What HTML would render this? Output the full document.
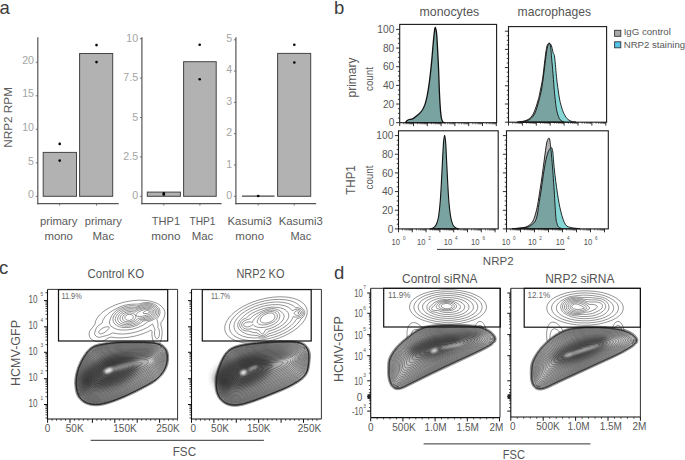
<!DOCTYPE html>
<html><head><meta charset="utf-8"><style>
html,body{margin:0;padding:0;background:#fff;overflow:hidden;}
svg{display:block;font-family:"Liberation Sans", sans-serif;}
</style></head><body>
<svg width="685" height="460" viewBox="0 0 685 460">
<defs><filter id="bl" x="-50%" y="-50%" width="200%" height="200%"><feGaussianBlur stdDeviation="0.8"/></filter><filter id="bl2" x="-50%" y="-50%" width="200%" height="200%"><feGaussianBlur stdDeviation="3"/></filter></defs>
<rect width="685" height="460" fill="#fff"/>
<text x="-0.50" y="13.70" font-size="18.5" fill="#3c3c3c" text-anchor="start" >a</text>
<text x="334.00" y="14.00" font-size="18.5" fill="#3c3c3c" text-anchor="start" >b</text>
<text x="-1.00" y="274.40" font-size="18.5" fill="#3c3c3c" text-anchor="start" >c</text>
<text x="334.00" y="279.00" font-size="18.5" fill="#3c3c3c" text-anchor="start" >d</text>
<text x="12.30" y="117.40" font-size="11.6" fill="#5e5e5e" text-anchor="middle" textLength="60.8" lengthAdjust="spacingAndGlyphs" transform="rotate(-90 12.30 117.40)" >NRP2 RPM</text>
<line x1="37.80" y1="37.20" x2="37.80" y2="204.20" stroke="#555" stroke-width="1.2"/>
<line x1="37.20" y1="203.60" x2="118.70" y2="203.60" stroke="#555" stroke-width="1.2"/>
<text x="34.00" y="198.00" font-size="10.6" fill="#a4a4a4" text-anchor="end" >0</text>
<text x="34.00" y="164.50" font-size="10.6" fill="#a4a4a4" text-anchor="end" >5</text>
<text x="34.00" y="131.00" font-size="10.6" fill="#a4a4a4" text-anchor="end" >10</text>
<text x="34.00" y="97.10" font-size="10.6" fill="#a4a4a4" text-anchor="end" >15</text>
<text x="34.00" y="63.50" font-size="10.6" fill="#a4a4a4" text-anchor="end" >20</text>
<line x1="141.90" y1="37.20" x2="141.90" y2="204.20" stroke="#555" stroke-width="1.2"/>
<line x1="141.30" y1="203.60" x2="221.60" y2="203.60" stroke="#555" stroke-width="1.2"/>
<text x="138.10" y="199.30" font-size="10.6" fill="#a4a4a4" text-anchor="end" >0</text>
<text x="138.10" y="159.70" font-size="10.6" fill="#a4a4a4" text-anchor="end" >2.5</text>
<text x="138.10" y="120.60" font-size="10.6" fill="#a4a4a4" text-anchor="end" >5</text>
<text x="138.10" y="81.30" font-size="10.6" fill="#a4a4a4" text-anchor="end" >7.5</text>
<text x="138.10" y="41.80" font-size="10.6" fill="#a4a4a4" text-anchor="end" >10</text>
<line x1="235.90" y1="37.20" x2="235.90" y2="204.20" stroke="#555" stroke-width="1.2"/>
<line x1="235.30" y1="203.60" x2="316.20" y2="203.60" stroke="#555" stroke-width="1.2"/>
<text x="232.10" y="199.30" font-size="10.6" fill="#a4a4a4" text-anchor="end" >0</text>
<text x="232.10" y="167.50" font-size="10.6" fill="#a4a4a4" text-anchor="end" >1</text>
<text x="232.10" y="136.30" font-size="10.6" fill="#a4a4a4" text-anchor="end" >2</text>
<text x="232.10" y="105.00" font-size="10.6" fill="#a4a4a4" text-anchor="end" >3</text>
<text x="232.10" y="73.20" font-size="10.6" fill="#a4a4a4" text-anchor="end" >4</text>
<text x="232.10" y="42.40" font-size="10.6" fill="#a4a4a4" text-anchor="end" >5</text>
<rect x="43.20" y="152.40" width="33.30" height="43.90" fill="#b2b2b2" stroke="#444" stroke-width="1"/>
<rect x="79.60" y="53.50" width="33.10" height="142.80" fill="#b2b2b2" stroke="#444" stroke-width="1"/>
<rect x="147.30" y="192.10" width="33.10" height="4.20" fill="#b2b2b2" stroke="#444" stroke-width="1"/>
<rect x="183.60" y="61.70" width="32.60" height="134.60" fill="#b2b2b2" stroke="#444" stroke-width="1"/>
<line x1="241.90" y1="196.10" x2="274.50" y2="196.10" stroke="#444" stroke-width="1.1"/>
<rect x="277.60" y="53.40" width="33.10" height="142.90" fill="#b2b2b2" stroke="#444" stroke-width="1"/>
<circle cx="59.70" cy="143.90" r="1.3" fill="#000"/>
<circle cx="59.70" cy="160.60" r="1.3" fill="#000"/>
<circle cx="96.50" cy="45.10" r="1.3" fill="#000"/>
<circle cx="96.50" cy="62.10" r="1.3" fill="#000"/>
<circle cx="163.80" cy="193.40" r="1.3" fill="#000"/>
<circle cx="163.80" cy="194.60" r="1.3" fill="#000"/>
<circle cx="199.70" cy="44.80" r="1.3" fill="#000"/>
<circle cx="199.70" cy="79.20" r="1.3" fill="#000"/>
<circle cx="258.20" cy="196.00" r="1.3" fill="#000"/>
<circle cx="294.30" cy="44.80" r="1.3" fill="#000"/>
<circle cx="294.30" cy="62.50" r="1.3" fill="#000"/>
<line x1="59.70" y1="203.60" x2="59.70" y2="205.60" stroke="#555" stroke-width="0.8"/>
<line x1="96.50" y1="203.60" x2="96.50" y2="205.60" stroke="#555" stroke-width="0.8"/>
<line x1="163.80" y1="203.60" x2="163.80" y2="205.60" stroke="#555" stroke-width="0.8"/>
<line x1="199.90" y1="203.60" x2="199.90" y2="205.60" stroke="#555" stroke-width="0.8"/>
<line x1="258.20" y1="203.60" x2="258.20" y2="205.60" stroke="#555" stroke-width="0.8"/>
<line x1="294.20" y1="203.60" x2="294.20" y2="205.60" stroke="#555" stroke-width="0.8"/>
<line x1="35.80" y1="196.30" x2="37.80" y2="196.30" stroke="#555" stroke-width="0.8"/>
<line x1="35.80" y1="162.80" x2="37.80" y2="162.80" stroke="#555" stroke-width="0.8"/>
<line x1="35.80" y1="129.30" x2="37.80" y2="129.30" stroke="#555" stroke-width="0.8"/>
<line x1="35.80" y1="95.80" x2="37.80" y2="95.80" stroke="#555" stroke-width="0.8"/>
<line x1="35.80" y1="62.30" x2="37.80" y2="62.30" stroke="#555" stroke-width="0.8"/>
<line x1="139.90" y1="196.30" x2="141.90" y2="196.30" stroke="#555" stroke-width="0.8"/>
<line x1="139.90" y1="156.90" x2="141.90" y2="156.90" stroke="#555" stroke-width="0.8"/>
<line x1="139.90" y1="117.50" x2="141.90" y2="117.50" stroke="#555" stroke-width="0.8"/>
<line x1="139.90" y1="78.10" x2="141.90" y2="78.10" stroke="#555" stroke-width="0.8"/>
<line x1="139.90" y1="38.70" x2="141.90" y2="38.70" stroke="#555" stroke-width="0.8"/>
<line x1="233.90" y1="196.30" x2="235.90" y2="196.30" stroke="#555" stroke-width="0.8"/>
<line x1="233.90" y1="165.00" x2="235.90" y2="165.00" stroke="#555" stroke-width="0.8"/>
<line x1="233.90" y1="133.70" x2="235.90" y2="133.70" stroke="#555" stroke-width="0.8"/>
<line x1="233.90" y1="102.40" x2="235.90" y2="102.40" stroke="#555" stroke-width="0.8"/>
<line x1="233.90" y1="71.10" x2="235.90" y2="71.10" stroke="#555" stroke-width="0.8"/>
<line x1="233.90" y1="39.80" x2="235.90" y2="39.80" stroke="#555" stroke-width="0.8"/>
<text x="58.70" y="225.00" font-size="10.8" fill="#5a5a5a" text-anchor="middle" textLength="37.5" lengthAdjust="spacingAndGlyphs" >primary</text>
<text x="58.70" y="239.60" font-size="10.8" fill="#5a5a5a" text-anchor="middle" textLength="28.5" lengthAdjust="spacingAndGlyphs" >mono</text>
<text x="103.30" y="225.00" font-size="10.8" fill="#5a5a5a" text-anchor="middle" textLength="37.0" lengthAdjust="spacingAndGlyphs" >primary</text>
<text x="103.30" y="239.60" font-size="10.8" fill="#5a5a5a" text-anchor="middle" textLength="21.6" lengthAdjust="spacingAndGlyphs" >Mac</text>
<text x="165.90" y="225.00" font-size="10.8" fill="#5a5a5a" text-anchor="middle" textLength="28.3" lengthAdjust="spacingAndGlyphs" >THP1</text>
<text x="165.90" y="239.60" font-size="10.8" fill="#5a5a5a" text-anchor="middle" textLength="29.2" lengthAdjust="spacingAndGlyphs" >mono</text>
<text x="202.50" y="225.00" font-size="10.8" fill="#5a5a5a" text-anchor="middle" textLength="26.1" lengthAdjust="spacingAndGlyphs" >THP1</text>
<text x="202.50" y="239.60" font-size="10.8" fill="#5a5a5a" text-anchor="middle" textLength="21.6" lengthAdjust="spacingAndGlyphs" >Mac</text>
<text x="249.70" y="225.00" font-size="10.8" fill="#5a5a5a" text-anchor="middle" textLength="44.4" lengthAdjust="spacingAndGlyphs" >Kasumi3</text>
<text x="249.70" y="239.60" font-size="10.8" fill="#5a5a5a" text-anchor="middle" textLength="28.7" lengthAdjust="spacingAndGlyphs" >mono</text>
<text x="300.80" y="225.00" font-size="10.8" fill="#5a5a5a" text-anchor="middle" textLength="44.1" lengthAdjust="spacingAndGlyphs" >Kasumi3</text>
<text x="300.80" y="239.60" font-size="10.8" fill="#5a5a5a" text-anchor="middle" textLength="20.8" lengthAdjust="spacingAndGlyphs" >Mac</text>
<text x="449.40" y="16.30" font-size="12.8" fill="#555" text-anchor="middle" textLength="59.6" lengthAdjust="spacingAndGlyphs" >monocytes</text>
<text x="554.30" y="16.30" font-size="12.8" fill="#555" text-anchor="middle" textLength="73.4" lengthAdjust="spacingAndGlyphs" >macrophages</text>
<rect x="614.60" y="30.30" width="6.20" height="6.00" fill="#a9a9a9" stroke="#333" stroke-width="0.9"/>
<rect x="614.60" y="41.80" width="6.20" height="6.00" fill="#52c3ea" stroke="#333" stroke-width="0.9"/>
<text x="623.70" y="35.40" font-size="9.6" fill="#585858" text-anchor="start" textLength="47.1" lengthAdjust="spacingAndGlyphs" >IgG control</text>
<text x="623.70" y="48.20" font-size="9.6" fill="#585858" text-anchor="start" textLength="61.5" lengthAdjust="spacingAndGlyphs" >NRP2 staining</text>
<text x="356.00" y="77.50" font-size="12.8" fill="#585858" text-anchor="middle" textLength="40" lengthAdjust="spacingAndGlyphs" transform="rotate(-90 356.00 77.50)" >primary</text>
<text x="372.60" y="79.00" font-size="10.0" fill="#585858" text-anchor="middle" textLength="24" lengthAdjust="spacingAndGlyphs" transform="rotate(-90 372.60 79.00)" >count</text>
<text x="355.00" y="180.00" font-size="12.8" fill="#585858" text-anchor="middle" textLength="29.5" lengthAdjust="spacingAndGlyphs" transform="rotate(-90 355.00 180.00)" >THP1</text>
<text x="372.60" y="177.50" font-size="10.0" fill="#585858" text-anchor="middle" textLength="24" lengthAdjust="spacingAndGlyphs" transform="rotate(-90 372.60 177.50)" >count</text>
<path d="M405.50,122.70 C405.85,122.28 406.35,120.88 407.60,120.20 C408.85,119.52 411.37,119.42 413.00,118.60 C414.63,117.78 415.95,116.57 417.40,115.30 C418.85,114.03 420.43,112.82 421.70,111.00 C422.97,109.18 424.08,106.95 425.00,104.40 C425.92,101.85 426.48,99.32 427.20,95.70 C427.92,92.08 428.58,88.13 429.30,82.70 C430.02,77.27 430.88,69.27 431.50,63.10 C432.12,56.93 432.53,50.77 433.00,45.70 C433.47,40.63 433.93,35.77 434.30,32.70 C434.67,29.63 434.83,27.30 435.20,27.30 C435.57,27.30 436.13,29.63 436.50,32.70 C436.87,35.77 437.07,39.90 437.40,45.70 C437.73,51.50 438.18,60.25 438.50,67.50 C438.82,74.75 439.02,82.68 439.30,89.20 C439.58,95.72 439.87,101.88 440.20,106.60 C440.53,111.32 440.87,114.97 441.30,117.50 C441.73,120.03 442.25,120.93 442.80,121.80 C443.35,122.67 444.30,122.55 444.60,122.70 Z" fill="#79a3a1" fill-opacity="1" stroke="#111" stroke-width="1.3" stroke-linejoin="round"/>
<rect x="399.70" y="24.40" width="96.90" height="98.30" fill="none" stroke="#1a1a1a" stroke-width="1.1"/>
<line x1="396.10" y1="122.70" x2="399.70" y2="122.70" stroke="#1a1a1a" stroke-width="0.9"/>
<line x1="397.90" y1="118.03" x2="399.70" y2="118.03" stroke="#1a1a1a" stroke-width="0.8"/>
<line x1="397.90" y1="113.37" x2="399.70" y2="113.37" stroke="#1a1a1a" stroke-width="0.8"/>
<line x1="397.90" y1="108.70" x2="399.70" y2="108.70" stroke="#1a1a1a" stroke-width="0.8"/>
<line x1="396.10" y1="104.04" x2="399.70" y2="104.04" stroke="#1a1a1a" stroke-width="0.9"/>
<line x1="397.90" y1="99.38" x2="399.70" y2="99.38" stroke="#1a1a1a" stroke-width="0.8"/>
<line x1="397.90" y1="94.71" x2="399.70" y2="94.71" stroke="#1a1a1a" stroke-width="0.8"/>
<line x1="397.90" y1="90.04" x2="399.70" y2="90.04" stroke="#1a1a1a" stroke-width="0.8"/>
<line x1="396.10" y1="85.38" x2="399.70" y2="85.38" stroke="#1a1a1a" stroke-width="0.9"/>
<line x1="397.90" y1="80.72" x2="399.70" y2="80.72" stroke="#1a1a1a" stroke-width="0.8"/>
<line x1="397.90" y1="76.05" x2="399.70" y2="76.05" stroke="#1a1a1a" stroke-width="0.8"/>
<line x1="397.90" y1="71.38" x2="399.70" y2="71.38" stroke="#1a1a1a" stroke-width="0.8"/>
<line x1="396.10" y1="66.72" x2="399.70" y2="66.72" stroke="#1a1a1a" stroke-width="0.9"/>
<line x1="397.90" y1="62.05" x2="399.70" y2="62.05" stroke="#1a1a1a" stroke-width="0.8"/>
<line x1="397.90" y1="57.39" x2="399.70" y2="57.39" stroke="#1a1a1a" stroke-width="0.8"/>
<line x1="397.90" y1="52.72" x2="399.70" y2="52.72" stroke="#1a1a1a" stroke-width="0.8"/>
<line x1="396.10" y1="48.06" x2="399.70" y2="48.06" stroke="#1a1a1a" stroke-width="0.9"/>
<line x1="397.90" y1="43.39" x2="399.70" y2="43.39" stroke="#1a1a1a" stroke-width="0.8"/>
<line x1="397.90" y1="38.73" x2="399.70" y2="38.73" stroke="#1a1a1a" stroke-width="0.8"/>
<line x1="397.90" y1="34.06" x2="399.70" y2="34.06" stroke="#1a1a1a" stroke-width="0.8"/>
<line x1="396.10" y1="29.40" x2="399.70" y2="29.40" stroke="#1a1a1a" stroke-width="0.9"/>
<line x1="399.70" y1="122.70" x2="399.70" y2="126.10" stroke="#1a1a1a" stroke-width="0.9"/>
<line x1="403.85" y1="122.70" x2="403.85" y2="124.30" stroke="#1a1a1a" stroke-width="0.6"/>
<line x1="406.28" y1="122.70" x2="406.28" y2="124.30" stroke="#1a1a1a" stroke-width="0.6"/>
<line x1="408.01" y1="122.70" x2="408.01" y2="124.30" stroke="#1a1a1a" stroke-width="0.6"/>
<line x1="409.35" y1="122.70" x2="409.35" y2="124.30" stroke="#1a1a1a" stroke-width="0.6"/>
<line x1="410.44" y1="122.70" x2="410.44" y2="124.30" stroke="#1a1a1a" stroke-width="0.6"/>
<line x1="411.36" y1="122.70" x2="411.36" y2="124.30" stroke="#1a1a1a" stroke-width="0.6"/>
<line x1="412.16" y1="122.70" x2="412.16" y2="124.30" stroke="#1a1a1a" stroke-width="0.6"/>
<line x1="412.87" y1="122.70" x2="412.87" y2="124.30" stroke="#1a1a1a" stroke-width="0.6"/>
<line x1="413.50" y1="122.70" x2="413.50" y2="126.10" stroke="#1a1a1a" stroke-width="0.9"/>
<line x1="417.65" y1="122.70" x2="417.65" y2="124.30" stroke="#1a1a1a" stroke-width="0.6"/>
<line x1="420.08" y1="122.70" x2="420.08" y2="124.30" stroke="#1a1a1a" stroke-width="0.6"/>
<line x1="421.81" y1="122.70" x2="421.81" y2="124.30" stroke="#1a1a1a" stroke-width="0.6"/>
<line x1="423.15" y1="122.70" x2="423.15" y2="124.30" stroke="#1a1a1a" stroke-width="0.6"/>
<line x1="424.24" y1="122.70" x2="424.24" y2="124.30" stroke="#1a1a1a" stroke-width="0.6"/>
<line x1="425.16" y1="122.70" x2="425.16" y2="124.30" stroke="#1a1a1a" stroke-width="0.6"/>
<line x1="425.96" y1="122.70" x2="425.96" y2="124.30" stroke="#1a1a1a" stroke-width="0.6"/>
<line x1="426.67" y1="122.70" x2="426.67" y2="124.30" stroke="#1a1a1a" stroke-width="0.6"/>
<line x1="427.30" y1="122.70" x2="427.30" y2="126.10" stroke="#1a1a1a" stroke-width="0.9"/>
<line x1="431.45" y1="122.70" x2="431.45" y2="124.30" stroke="#1a1a1a" stroke-width="0.6"/>
<line x1="433.88" y1="122.70" x2="433.88" y2="124.30" stroke="#1a1a1a" stroke-width="0.6"/>
<line x1="435.61" y1="122.70" x2="435.61" y2="124.30" stroke="#1a1a1a" stroke-width="0.6"/>
<line x1="436.95" y1="122.70" x2="436.95" y2="124.30" stroke="#1a1a1a" stroke-width="0.6"/>
<line x1="438.04" y1="122.70" x2="438.04" y2="124.30" stroke="#1a1a1a" stroke-width="0.6"/>
<line x1="438.96" y1="122.70" x2="438.96" y2="124.30" stroke="#1a1a1a" stroke-width="0.6"/>
<line x1="439.76" y1="122.70" x2="439.76" y2="124.30" stroke="#1a1a1a" stroke-width="0.6"/>
<line x1="440.47" y1="122.70" x2="440.47" y2="124.30" stroke="#1a1a1a" stroke-width="0.6"/>
<line x1="441.10" y1="122.70" x2="441.10" y2="126.10" stroke="#1a1a1a" stroke-width="0.9"/>
<line x1="445.25" y1="122.70" x2="445.25" y2="124.30" stroke="#1a1a1a" stroke-width="0.6"/>
<line x1="447.68" y1="122.70" x2="447.68" y2="124.30" stroke="#1a1a1a" stroke-width="0.6"/>
<line x1="449.41" y1="122.70" x2="449.41" y2="124.30" stroke="#1a1a1a" stroke-width="0.6"/>
<line x1="450.75" y1="122.70" x2="450.75" y2="124.30" stroke="#1a1a1a" stroke-width="0.6"/>
<line x1="451.84" y1="122.70" x2="451.84" y2="124.30" stroke="#1a1a1a" stroke-width="0.6"/>
<line x1="452.76" y1="122.70" x2="452.76" y2="124.30" stroke="#1a1a1a" stroke-width="0.6"/>
<line x1="453.56" y1="122.70" x2="453.56" y2="124.30" stroke="#1a1a1a" stroke-width="0.6"/>
<line x1="454.27" y1="122.70" x2="454.27" y2="124.30" stroke="#1a1a1a" stroke-width="0.6"/>
<line x1="454.90" y1="122.70" x2="454.90" y2="126.10" stroke="#1a1a1a" stroke-width="0.9"/>
<line x1="459.05" y1="122.70" x2="459.05" y2="124.30" stroke="#1a1a1a" stroke-width="0.6"/>
<line x1="461.48" y1="122.70" x2="461.48" y2="124.30" stroke="#1a1a1a" stroke-width="0.6"/>
<line x1="463.21" y1="122.70" x2="463.21" y2="124.30" stroke="#1a1a1a" stroke-width="0.6"/>
<line x1="464.55" y1="122.70" x2="464.55" y2="124.30" stroke="#1a1a1a" stroke-width="0.6"/>
<line x1="465.64" y1="122.70" x2="465.64" y2="124.30" stroke="#1a1a1a" stroke-width="0.6"/>
<line x1="466.56" y1="122.70" x2="466.56" y2="124.30" stroke="#1a1a1a" stroke-width="0.6"/>
<line x1="467.36" y1="122.70" x2="467.36" y2="124.30" stroke="#1a1a1a" stroke-width="0.6"/>
<line x1="468.07" y1="122.70" x2="468.07" y2="124.30" stroke="#1a1a1a" stroke-width="0.6"/>
<line x1="468.70" y1="122.70" x2="468.70" y2="126.10" stroke="#1a1a1a" stroke-width="0.9"/>
<line x1="472.85" y1="122.70" x2="472.85" y2="124.30" stroke="#1a1a1a" stroke-width="0.6"/>
<line x1="475.28" y1="122.70" x2="475.28" y2="124.30" stroke="#1a1a1a" stroke-width="0.6"/>
<line x1="477.01" y1="122.70" x2="477.01" y2="124.30" stroke="#1a1a1a" stroke-width="0.6"/>
<line x1="478.35" y1="122.70" x2="478.35" y2="124.30" stroke="#1a1a1a" stroke-width="0.6"/>
<line x1="479.44" y1="122.70" x2="479.44" y2="124.30" stroke="#1a1a1a" stroke-width="0.6"/>
<line x1="480.36" y1="122.70" x2="480.36" y2="124.30" stroke="#1a1a1a" stroke-width="0.6"/>
<line x1="481.16" y1="122.70" x2="481.16" y2="124.30" stroke="#1a1a1a" stroke-width="0.6"/>
<line x1="481.87" y1="122.70" x2="481.87" y2="124.30" stroke="#1a1a1a" stroke-width="0.6"/>
<line x1="482.50" y1="122.70" x2="482.50" y2="126.10" stroke="#1a1a1a" stroke-width="0.9"/>
<line x1="486.65" y1="122.70" x2="486.65" y2="124.30" stroke="#1a1a1a" stroke-width="0.6"/>
<line x1="489.08" y1="122.70" x2="489.08" y2="124.30" stroke="#1a1a1a" stroke-width="0.6"/>
<line x1="490.81" y1="122.70" x2="490.81" y2="124.30" stroke="#1a1a1a" stroke-width="0.6"/>
<line x1="492.15" y1="122.70" x2="492.15" y2="124.30" stroke="#1a1a1a" stroke-width="0.6"/>
<line x1="493.24" y1="122.70" x2="493.24" y2="124.30" stroke="#1a1a1a" stroke-width="0.6"/>
<line x1="494.16" y1="122.70" x2="494.16" y2="124.30" stroke="#1a1a1a" stroke-width="0.6"/>
<line x1="494.96" y1="122.70" x2="494.96" y2="124.30" stroke="#1a1a1a" stroke-width="0.6"/>
<line x1="495.67" y1="122.70" x2="495.67" y2="124.30" stroke="#1a1a1a" stroke-width="0.6"/>
<line x1="496.30" y1="122.70" x2="496.30" y2="126.10" stroke="#1a1a1a" stroke-width="0.9"/>
<text x="394.30" y="126.30" font-size="10.2" fill="#585858" text-anchor="end" >0</text>
<text x="394.30" y="107.64" font-size="10.2" fill="#585858" text-anchor="end" >20</text>
<text x="394.30" y="88.98" font-size="10.2" fill="#585858" text-anchor="end" >40</text>
<text x="394.30" y="70.32" font-size="10.2" fill="#585858" text-anchor="end" >60</text>
<text x="394.30" y="51.66" font-size="10.2" fill="#585858" text-anchor="end" >80</text>
<text x="394.30" y="33.00" font-size="10.2" fill="#585858" text-anchor="end" >100</text>
<clipPath id="hc1"><path d="M519.00,122.20 C519.83,122.08 522.17,121.98 524.00,121.50 C525.83,121.02 528.17,120.72 530.00,119.30 C531.83,117.88 533.53,116.05 535.00,113.00 C536.47,109.95 537.72,104.83 538.80,101.00 C539.88,97.17 540.72,94.17 541.50,90.00 C542.28,85.83 542.83,81.00 543.50,76.00 C544.17,71.00 544.88,64.67 545.50,60.00 C546.12,55.33 546.62,50.75 547.20,48.00 C547.78,45.25 548.45,44.17 549.00,43.50 C549.55,42.83 550.03,43.42 550.50,44.00 C550.97,44.58 551.35,45.50 551.80,47.00 C552.25,48.50 552.73,51.33 553.20,53.00 C553.67,54.67 554.02,52.72 554.60,57.00 C555.18,61.28 556.10,73.20 556.70,78.70 C557.30,84.20 557.70,86.47 558.20,90.00 C558.70,93.53 558.97,96.50 559.70,99.90 C560.43,103.30 561.72,107.80 562.60,110.40 C563.48,113.00 564.23,114.12 565.00,115.50 C565.77,116.88 566.20,117.75 567.20,118.70 C568.20,119.65 569.53,120.62 571.00,121.20 C572.47,121.78 575.17,122.03 576.00,122.20 Z"/></clipPath>
<path d="M519.00,122.20 C519.83,122.08 522.17,121.98 524.00,121.50 C525.83,121.02 528.17,120.72 530.00,119.30 C531.83,117.88 533.53,116.05 535.00,113.00 C536.47,109.95 537.72,104.83 538.80,101.00 C539.88,97.17 540.72,94.17 541.50,90.00 C542.28,85.83 542.83,81.00 543.50,76.00 C544.17,71.00 544.88,64.67 545.50,60.00 C546.12,55.33 546.62,50.75 547.20,48.00 C547.78,45.25 548.45,44.17 549.00,43.50 C549.55,42.83 550.03,43.42 550.50,44.00 C550.97,44.58 551.35,45.50 551.80,47.00 C552.25,48.50 552.73,51.33 553.20,53.00 C553.67,54.67 554.02,52.72 554.60,57.00 C555.18,61.28 556.10,73.20 556.70,78.70 C557.30,84.20 557.70,86.47 558.20,90.00 C558.70,93.53 558.97,96.50 559.70,99.90 C560.43,103.30 561.72,107.80 562.60,110.40 C563.48,113.00 564.23,114.12 565.00,115.50 C565.77,116.88 566.20,117.75 567.20,118.70 C568.20,119.65 569.53,120.62 571.00,121.20 C572.47,121.78 575.17,122.03 576.00,122.20 Z" fill="#86d6d6" stroke="none"/>
<path d="M517.00,122.20 C517.83,122.08 520.17,121.95 522.00,121.50 C523.83,121.05 526.13,120.75 528.00,119.50 C529.87,118.25 531.55,117.08 533.20,114.00 C534.85,110.92 536.77,104.67 537.90,101.00 C539.03,97.33 539.22,95.72 540.00,92.00 C540.78,88.28 541.85,83.53 542.60,78.70 C543.35,73.87 543.92,67.70 544.50,63.00 C545.08,58.30 545.60,53.58 546.10,50.50 C546.60,47.42 546.98,45.67 547.50,44.50 C548.02,43.33 548.70,43.25 549.20,43.50 C549.70,43.75 550.03,42.87 550.50,46.00 C550.97,49.13 551.55,57.30 552.00,62.30 C552.45,67.30 552.82,71.30 553.20,76.00 C553.58,80.70 553.92,86.17 554.30,90.50 C554.68,94.83 555.10,98.68 555.50,102.00 C555.90,105.32 556.20,107.98 556.70,110.40 C557.20,112.82 557.92,114.93 558.50,116.50 C559.08,118.07 559.28,118.85 560.20,119.80 C561.12,120.75 563.37,121.80 564.00,122.20 Z" fill="#b4b4b4" stroke="none"/>
<path d="M517.00,122.20 C517.83,122.08 520.17,121.95 522.00,121.50 C523.83,121.05 526.13,120.75 528.00,119.50 C529.87,118.25 531.55,117.08 533.20,114.00 C534.85,110.92 536.77,104.67 537.90,101.00 C539.03,97.33 539.22,95.72 540.00,92.00 C540.78,88.28 541.85,83.53 542.60,78.70 C543.35,73.87 543.92,67.70 544.50,63.00 C545.08,58.30 545.60,53.58 546.10,50.50 C546.60,47.42 546.98,45.67 547.50,44.50 C548.02,43.33 548.70,43.25 549.20,43.50 C549.70,43.75 550.03,42.87 550.50,46.00 C550.97,49.13 551.55,57.30 552.00,62.30 C552.45,67.30 552.82,71.30 553.20,76.00 C553.58,80.70 553.92,86.17 554.30,90.50 C554.68,94.83 555.10,98.68 555.50,102.00 C555.90,105.32 556.20,107.98 556.70,110.40 C557.20,112.82 557.92,114.93 558.50,116.50 C559.08,118.07 559.28,118.85 560.20,119.80 C561.12,120.75 563.37,121.80 564.00,122.20 Z" fill="#79a3a1" stroke="none" clip-path="url(#hc1)"/>
<path d="M519.00,122.20 C519.83,122.08 522.17,121.98 524.00,121.50 C525.83,121.02 528.17,120.72 530.00,119.30 C531.83,117.88 533.53,116.05 535.00,113.00 C536.47,109.95 537.72,104.83 538.80,101.00 C539.88,97.17 540.72,94.17 541.50,90.00 C542.28,85.83 542.83,81.00 543.50,76.00 C544.17,71.00 544.88,64.67 545.50,60.00 C546.12,55.33 546.62,50.75 547.20,48.00 C547.78,45.25 548.45,44.17 549.00,43.50 C549.55,42.83 550.03,43.42 550.50,44.00 C550.97,44.58 551.35,45.50 551.80,47.00 C552.25,48.50 552.73,51.33 553.20,53.00 C553.67,54.67 554.02,52.72 554.60,57.00 C555.18,61.28 556.10,73.20 556.70,78.70 C557.30,84.20 557.70,86.47 558.20,90.00 C558.70,93.53 558.97,96.50 559.70,99.90 C560.43,103.30 561.72,107.80 562.60,110.40 C563.48,113.00 564.23,114.12 565.00,115.50 C565.77,116.88 566.20,117.75 567.20,118.70 C568.20,119.65 569.53,120.62 571.00,121.20 C572.47,121.78 575.17,122.03 576.00,122.20 Z" fill="none" stroke="#111" stroke-width="0.9" stroke-linejoin="round"/>
<path d="M517.00,122.20 C517.83,122.08 520.17,121.95 522.00,121.50 C523.83,121.05 526.13,120.75 528.00,119.50 C529.87,118.25 531.55,117.08 533.20,114.00 C534.85,110.92 536.77,104.67 537.90,101.00 C539.03,97.33 539.22,95.72 540.00,92.00 C540.78,88.28 541.85,83.53 542.60,78.70 C543.35,73.87 543.92,67.70 544.50,63.00 C545.08,58.30 545.60,53.58 546.10,50.50 C546.60,47.42 546.98,45.67 547.50,44.50 C548.02,43.33 548.70,43.25 549.20,43.50 C549.70,43.75 550.03,42.87 550.50,46.00 C550.97,49.13 551.55,57.30 552.00,62.30 C552.45,67.30 552.82,71.30 553.20,76.00 C553.58,80.70 553.92,86.17 554.30,90.50 C554.68,94.83 555.10,98.68 555.50,102.00 C555.90,105.32 556.20,107.98 556.70,110.40 C557.20,112.82 557.92,114.93 558.50,116.50 C559.08,118.07 559.28,118.85 560.20,119.80 C561.12,120.75 563.37,121.80 564.00,122.20 Z" fill="none" stroke="#111" stroke-width="0.9" stroke-linejoin="round"/>
<rect x="508.50" y="26.60" width="98.10" height="95.60" fill="none" stroke="#1a1a1a" stroke-width="1.1"/>
<line x1="504.90" y1="122.20" x2="508.50" y2="122.20" stroke="#1a1a1a" stroke-width="0.9"/>
<line x1="506.70" y1="117.65" x2="508.50" y2="117.65" stroke="#1a1a1a" stroke-width="0.8"/>
<line x1="506.70" y1="113.10" x2="508.50" y2="113.10" stroke="#1a1a1a" stroke-width="0.8"/>
<line x1="506.70" y1="108.55" x2="508.50" y2="108.55" stroke="#1a1a1a" stroke-width="0.8"/>
<line x1="504.90" y1="104.00" x2="508.50" y2="104.00" stroke="#1a1a1a" stroke-width="0.9"/>
<line x1="506.70" y1="99.45" x2="508.50" y2="99.45" stroke="#1a1a1a" stroke-width="0.8"/>
<line x1="506.70" y1="94.90" x2="508.50" y2="94.90" stroke="#1a1a1a" stroke-width="0.8"/>
<line x1="506.70" y1="90.35" x2="508.50" y2="90.35" stroke="#1a1a1a" stroke-width="0.8"/>
<line x1="504.90" y1="85.80" x2="508.50" y2="85.80" stroke="#1a1a1a" stroke-width="0.9"/>
<line x1="506.70" y1="81.25" x2="508.50" y2="81.25" stroke="#1a1a1a" stroke-width="0.8"/>
<line x1="506.70" y1="76.70" x2="508.50" y2="76.70" stroke="#1a1a1a" stroke-width="0.8"/>
<line x1="506.70" y1="72.15" x2="508.50" y2="72.15" stroke="#1a1a1a" stroke-width="0.8"/>
<line x1="504.90" y1="67.60" x2="508.50" y2="67.60" stroke="#1a1a1a" stroke-width="0.9"/>
<line x1="506.70" y1="63.05" x2="508.50" y2="63.05" stroke="#1a1a1a" stroke-width="0.8"/>
<line x1="506.70" y1="58.50" x2="508.50" y2="58.50" stroke="#1a1a1a" stroke-width="0.8"/>
<line x1="506.70" y1="53.95" x2="508.50" y2="53.95" stroke="#1a1a1a" stroke-width="0.8"/>
<line x1="504.90" y1="49.40" x2="508.50" y2="49.40" stroke="#1a1a1a" stroke-width="0.9"/>
<line x1="506.70" y1="44.85" x2="508.50" y2="44.85" stroke="#1a1a1a" stroke-width="0.8"/>
<line x1="506.70" y1="40.30" x2="508.50" y2="40.30" stroke="#1a1a1a" stroke-width="0.8"/>
<line x1="506.70" y1="35.75" x2="508.50" y2="35.75" stroke="#1a1a1a" stroke-width="0.8"/>
<line x1="504.90" y1="31.20" x2="508.50" y2="31.20" stroke="#1a1a1a" stroke-width="0.9"/>
<line x1="508.50" y1="122.20" x2="508.50" y2="125.60" stroke="#1a1a1a" stroke-width="0.9"/>
<line x1="512.68" y1="122.20" x2="512.68" y2="123.80" stroke="#1a1a1a" stroke-width="0.6"/>
<line x1="515.13" y1="122.20" x2="515.13" y2="123.80" stroke="#1a1a1a" stroke-width="0.6"/>
<line x1="516.87" y1="122.20" x2="516.87" y2="123.80" stroke="#1a1a1a" stroke-width="0.6"/>
<line x1="518.22" y1="122.20" x2="518.22" y2="123.80" stroke="#1a1a1a" stroke-width="0.6"/>
<line x1="519.32" y1="122.20" x2="519.32" y2="123.80" stroke="#1a1a1a" stroke-width="0.6"/>
<line x1="520.25" y1="122.20" x2="520.25" y2="123.80" stroke="#1a1a1a" stroke-width="0.6"/>
<line x1="521.05" y1="122.20" x2="521.05" y2="123.80" stroke="#1a1a1a" stroke-width="0.6"/>
<line x1="521.76" y1="122.20" x2="521.76" y2="123.80" stroke="#1a1a1a" stroke-width="0.6"/>
<line x1="522.40" y1="122.20" x2="522.40" y2="125.60" stroke="#1a1a1a" stroke-width="0.9"/>
<line x1="526.58" y1="122.20" x2="526.58" y2="123.80" stroke="#1a1a1a" stroke-width="0.6"/>
<line x1="529.03" y1="122.20" x2="529.03" y2="123.80" stroke="#1a1a1a" stroke-width="0.6"/>
<line x1="530.77" y1="122.20" x2="530.77" y2="123.80" stroke="#1a1a1a" stroke-width="0.6"/>
<line x1="532.12" y1="122.20" x2="532.12" y2="123.80" stroke="#1a1a1a" stroke-width="0.6"/>
<line x1="533.22" y1="122.20" x2="533.22" y2="123.80" stroke="#1a1a1a" stroke-width="0.6"/>
<line x1="534.15" y1="122.20" x2="534.15" y2="123.80" stroke="#1a1a1a" stroke-width="0.6"/>
<line x1="534.95" y1="122.20" x2="534.95" y2="123.80" stroke="#1a1a1a" stroke-width="0.6"/>
<line x1="535.66" y1="122.20" x2="535.66" y2="123.80" stroke="#1a1a1a" stroke-width="0.6"/>
<line x1="536.30" y1="122.20" x2="536.30" y2="125.60" stroke="#1a1a1a" stroke-width="0.9"/>
<line x1="540.48" y1="122.20" x2="540.48" y2="123.80" stroke="#1a1a1a" stroke-width="0.6"/>
<line x1="542.93" y1="122.20" x2="542.93" y2="123.80" stroke="#1a1a1a" stroke-width="0.6"/>
<line x1="544.67" y1="122.20" x2="544.67" y2="123.80" stroke="#1a1a1a" stroke-width="0.6"/>
<line x1="546.02" y1="122.20" x2="546.02" y2="123.80" stroke="#1a1a1a" stroke-width="0.6"/>
<line x1="547.12" y1="122.20" x2="547.12" y2="123.80" stroke="#1a1a1a" stroke-width="0.6"/>
<line x1="548.05" y1="122.20" x2="548.05" y2="123.80" stroke="#1a1a1a" stroke-width="0.6"/>
<line x1="548.85" y1="122.20" x2="548.85" y2="123.80" stroke="#1a1a1a" stroke-width="0.6"/>
<line x1="549.56" y1="122.20" x2="549.56" y2="123.80" stroke="#1a1a1a" stroke-width="0.6"/>
<line x1="550.20" y1="122.20" x2="550.20" y2="125.60" stroke="#1a1a1a" stroke-width="0.9"/>
<line x1="554.38" y1="122.20" x2="554.38" y2="123.80" stroke="#1a1a1a" stroke-width="0.6"/>
<line x1="556.83" y1="122.20" x2="556.83" y2="123.80" stroke="#1a1a1a" stroke-width="0.6"/>
<line x1="558.57" y1="122.20" x2="558.57" y2="123.80" stroke="#1a1a1a" stroke-width="0.6"/>
<line x1="559.92" y1="122.20" x2="559.92" y2="123.80" stroke="#1a1a1a" stroke-width="0.6"/>
<line x1="561.02" y1="122.20" x2="561.02" y2="123.80" stroke="#1a1a1a" stroke-width="0.6"/>
<line x1="561.95" y1="122.20" x2="561.95" y2="123.80" stroke="#1a1a1a" stroke-width="0.6"/>
<line x1="562.75" y1="122.20" x2="562.75" y2="123.80" stroke="#1a1a1a" stroke-width="0.6"/>
<line x1="563.46" y1="122.20" x2="563.46" y2="123.80" stroke="#1a1a1a" stroke-width="0.6"/>
<line x1="564.10" y1="122.20" x2="564.10" y2="125.60" stroke="#1a1a1a" stroke-width="0.9"/>
<line x1="568.28" y1="122.20" x2="568.28" y2="123.80" stroke="#1a1a1a" stroke-width="0.6"/>
<line x1="570.73" y1="122.20" x2="570.73" y2="123.80" stroke="#1a1a1a" stroke-width="0.6"/>
<line x1="572.47" y1="122.20" x2="572.47" y2="123.80" stroke="#1a1a1a" stroke-width="0.6"/>
<line x1="573.82" y1="122.20" x2="573.82" y2="123.80" stroke="#1a1a1a" stroke-width="0.6"/>
<line x1="574.92" y1="122.20" x2="574.92" y2="123.80" stroke="#1a1a1a" stroke-width="0.6"/>
<line x1="575.85" y1="122.20" x2="575.85" y2="123.80" stroke="#1a1a1a" stroke-width="0.6"/>
<line x1="576.65" y1="122.20" x2="576.65" y2="123.80" stroke="#1a1a1a" stroke-width="0.6"/>
<line x1="577.36" y1="122.20" x2="577.36" y2="123.80" stroke="#1a1a1a" stroke-width="0.6"/>
<line x1="578.00" y1="122.20" x2="578.00" y2="125.60" stroke="#1a1a1a" stroke-width="0.9"/>
<line x1="582.18" y1="122.20" x2="582.18" y2="123.80" stroke="#1a1a1a" stroke-width="0.6"/>
<line x1="584.63" y1="122.20" x2="584.63" y2="123.80" stroke="#1a1a1a" stroke-width="0.6"/>
<line x1="586.37" y1="122.20" x2="586.37" y2="123.80" stroke="#1a1a1a" stroke-width="0.6"/>
<line x1="587.72" y1="122.20" x2="587.72" y2="123.80" stroke="#1a1a1a" stroke-width="0.6"/>
<line x1="588.82" y1="122.20" x2="588.82" y2="123.80" stroke="#1a1a1a" stroke-width="0.6"/>
<line x1="589.75" y1="122.20" x2="589.75" y2="123.80" stroke="#1a1a1a" stroke-width="0.6"/>
<line x1="590.55" y1="122.20" x2="590.55" y2="123.80" stroke="#1a1a1a" stroke-width="0.6"/>
<line x1="591.26" y1="122.20" x2="591.26" y2="123.80" stroke="#1a1a1a" stroke-width="0.6"/>
<line x1="591.90" y1="122.20" x2="591.90" y2="125.60" stroke="#1a1a1a" stroke-width="0.9"/>
<line x1="596.08" y1="122.20" x2="596.08" y2="123.80" stroke="#1a1a1a" stroke-width="0.6"/>
<line x1="598.53" y1="122.20" x2="598.53" y2="123.80" stroke="#1a1a1a" stroke-width="0.6"/>
<line x1="600.27" y1="122.20" x2="600.27" y2="123.80" stroke="#1a1a1a" stroke-width="0.6"/>
<line x1="601.62" y1="122.20" x2="601.62" y2="123.80" stroke="#1a1a1a" stroke-width="0.6"/>
<line x1="602.72" y1="122.20" x2="602.72" y2="123.80" stroke="#1a1a1a" stroke-width="0.6"/>
<line x1="603.65" y1="122.20" x2="603.65" y2="123.80" stroke="#1a1a1a" stroke-width="0.6"/>
<line x1="604.45" y1="122.20" x2="604.45" y2="123.80" stroke="#1a1a1a" stroke-width="0.6"/>
<line x1="605.16" y1="122.20" x2="605.16" y2="123.80" stroke="#1a1a1a" stroke-width="0.6"/>
<line x1="605.80" y1="122.20" x2="605.80" y2="125.60" stroke="#1a1a1a" stroke-width="0.9"/>
<path d="M430.00,228.90 C430.62,228.68 432.65,228.32 433.70,227.60 C434.75,226.88 435.50,226.37 436.30,224.60 C437.10,222.83 437.85,220.82 438.50,217.00 C439.15,213.18 439.73,207.15 440.20,201.70 C440.67,196.25 440.93,190.82 441.30,184.30 C441.67,177.78 442.03,169.48 442.40,162.60 C442.77,155.72 443.13,147.53 443.50,143.00 C443.87,138.47 444.23,135.40 444.60,135.40 C444.97,135.40 445.35,138.47 445.70,143.00 C446.05,147.53 446.35,155.72 446.70,162.60 C447.05,169.48 447.43,177.78 447.80,184.30 C448.17,190.82 448.42,196.25 448.90,201.70 C449.38,207.15 450.05,213.18 450.70,217.00 C451.35,220.82 452.02,222.83 452.80,224.60 C453.58,226.37 454.37,226.88 455.40,227.60 C456.43,228.32 458.40,228.68 459.00,228.90 Z" fill="#79a3a1" fill-opacity="1" stroke="#111" stroke-width="1.1" stroke-linejoin="round"/>
<rect x="398.50" y="130.80" width="99.70" height="98.10" fill="none" stroke="#1a1a1a" stroke-width="1.1"/>
<line x1="394.90" y1="228.90" x2="398.50" y2="228.90" stroke="#1a1a1a" stroke-width="0.9"/>
<line x1="396.70" y1="224.24" x2="398.50" y2="224.24" stroke="#1a1a1a" stroke-width="0.8"/>
<line x1="396.70" y1="219.57" x2="398.50" y2="219.57" stroke="#1a1a1a" stroke-width="0.8"/>
<line x1="396.70" y1="214.91" x2="398.50" y2="214.91" stroke="#1a1a1a" stroke-width="0.8"/>
<line x1="394.90" y1="210.24" x2="398.50" y2="210.24" stroke="#1a1a1a" stroke-width="0.9"/>
<line x1="396.70" y1="205.57" x2="398.50" y2="205.57" stroke="#1a1a1a" stroke-width="0.8"/>
<line x1="396.70" y1="200.91" x2="398.50" y2="200.91" stroke="#1a1a1a" stroke-width="0.8"/>
<line x1="396.70" y1="196.25" x2="398.50" y2="196.25" stroke="#1a1a1a" stroke-width="0.8"/>
<line x1="394.90" y1="191.58" x2="398.50" y2="191.58" stroke="#1a1a1a" stroke-width="0.9"/>
<line x1="396.70" y1="186.91" x2="398.50" y2="186.91" stroke="#1a1a1a" stroke-width="0.8"/>
<line x1="396.70" y1="182.25" x2="398.50" y2="182.25" stroke="#1a1a1a" stroke-width="0.8"/>
<line x1="396.70" y1="177.58" x2="398.50" y2="177.58" stroke="#1a1a1a" stroke-width="0.8"/>
<line x1="394.90" y1="172.92" x2="398.50" y2="172.92" stroke="#1a1a1a" stroke-width="0.9"/>
<line x1="396.70" y1="168.25" x2="398.50" y2="168.25" stroke="#1a1a1a" stroke-width="0.8"/>
<line x1="396.70" y1="163.59" x2="398.50" y2="163.59" stroke="#1a1a1a" stroke-width="0.8"/>
<line x1="396.70" y1="158.93" x2="398.50" y2="158.93" stroke="#1a1a1a" stroke-width="0.8"/>
<line x1="394.90" y1="154.26" x2="398.50" y2="154.26" stroke="#1a1a1a" stroke-width="0.9"/>
<line x1="396.70" y1="149.59" x2="398.50" y2="149.59" stroke="#1a1a1a" stroke-width="0.8"/>
<line x1="396.70" y1="144.93" x2="398.50" y2="144.93" stroke="#1a1a1a" stroke-width="0.8"/>
<line x1="396.70" y1="140.26" x2="398.50" y2="140.26" stroke="#1a1a1a" stroke-width="0.8"/>
<line x1="394.90" y1="135.60" x2="398.50" y2="135.60" stroke="#1a1a1a" stroke-width="0.9"/>
<line x1="398.50" y1="228.90" x2="398.50" y2="232.30" stroke="#1a1a1a" stroke-width="0.9"/>
<line x1="402.65" y1="228.90" x2="402.65" y2="230.50" stroke="#1a1a1a" stroke-width="0.6"/>
<line x1="405.08" y1="228.90" x2="405.08" y2="230.50" stroke="#1a1a1a" stroke-width="0.6"/>
<line x1="406.81" y1="228.90" x2="406.81" y2="230.50" stroke="#1a1a1a" stroke-width="0.6"/>
<line x1="408.15" y1="228.90" x2="408.15" y2="230.50" stroke="#1a1a1a" stroke-width="0.6"/>
<line x1="409.24" y1="228.90" x2="409.24" y2="230.50" stroke="#1a1a1a" stroke-width="0.6"/>
<line x1="410.16" y1="228.90" x2="410.16" y2="230.50" stroke="#1a1a1a" stroke-width="0.6"/>
<line x1="410.96" y1="228.90" x2="410.96" y2="230.50" stroke="#1a1a1a" stroke-width="0.6"/>
<line x1="411.67" y1="228.90" x2="411.67" y2="230.50" stroke="#1a1a1a" stroke-width="0.6"/>
<line x1="412.30" y1="228.90" x2="412.30" y2="232.30" stroke="#1a1a1a" stroke-width="0.9"/>
<line x1="416.45" y1="228.90" x2="416.45" y2="230.50" stroke="#1a1a1a" stroke-width="0.6"/>
<line x1="418.88" y1="228.90" x2="418.88" y2="230.50" stroke="#1a1a1a" stroke-width="0.6"/>
<line x1="420.61" y1="228.90" x2="420.61" y2="230.50" stroke="#1a1a1a" stroke-width="0.6"/>
<line x1="421.95" y1="228.90" x2="421.95" y2="230.50" stroke="#1a1a1a" stroke-width="0.6"/>
<line x1="423.04" y1="228.90" x2="423.04" y2="230.50" stroke="#1a1a1a" stroke-width="0.6"/>
<line x1="423.96" y1="228.90" x2="423.96" y2="230.50" stroke="#1a1a1a" stroke-width="0.6"/>
<line x1="424.76" y1="228.90" x2="424.76" y2="230.50" stroke="#1a1a1a" stroke-width="0.6"/>
<line x1="425.47" y1="228.90" x2="425.47" y2="230.50" stroke="#1a1a1a" stroke-width="0.6"/>
<line x1="426.10" y1="228.90" x2="426.10" y2="232.30" stroke="#1a1a1a" stroke-width="0.9"/>
<line x1="430.25" y1="228.90" x2="430.25" y2="230.50" stroke="#1a1a1a" stroke-width="0.6"/>
<line x1="432.68" y1="228.90" x2="432.68" y2="230.50" stroke="#1a1a1a" stroke-width="0.6"/>
<line x1="434.41" y1="228.90" x2="434.41" y2="230.50" stroke="#1a1a1a" stroke-width="0.6"/>
<line x1="435.75" y1="228.90" x2="435.75" y2="230.50" stroke="#1a1a1a" stroke-width="0.6"/>
<line x1="436.84" y1="228.90" x2="436.84" y2="230.50" stroke="#1a1a1a" stroke-width="0.6"/>
<line x1="437.76" y1="228.90" x2="437.76" y2="230.50" stroke="#1a1a1a" stroke-width="0.6"/>
<line x1="438.56" y1="228.90" x2="438.56" y2="230.50" stroke="#1a1a1a" stroke-width="0.6"/>
<line x1="439.27" y1="228.90" x2="439.27" y2="230.50" stroke="#1a1a1a" stroke-width="0.6"/>
<line x1="439.90" y1="228.90" x2="439.90" y2="232.30" stroke="#1a1a1a" stroke-width="0.9"/>
<line x1="444.05" y1="228.90" x2="444.05" y2="230.50" stroke="#1a1a1a" stroke-width="0.6"/>
<line x1="446.48" y1="228.90" x2="446.48" y2="230.50" stroke="#1a1a1a" stroke-width="0.6"/>
<line x1="448.21" y1="228.90" x2="448.21" y2="230.50" stroke="#1a1a1a" stroke-width="0.6"/>
<line x1="449.55" y1="228.90" x2="449.55" y2="230.50" stroke="#1a1a1a" stroke-width="0.6"/>
<line x1="450.64" y1="228.90" x2="450.64" y2="230.50" stroke="#1a1a1a" stroke-width="0.6"/>
<line x1="451.56" y1="228.90" x2="451.56" y2="230.50" stroke="#1a1a1a" stroke-width="0.6"/>
<line x1="452.36" y1="228.90" x2="452.36" y2="230.50" stroke="#1a1a1a" stroke-width="0.6"/>
<line x1="453.07" y1="228.90" x2="453.07" y2="230.50" stroke="#1a1a1a" stroke-width="0.6"/>
<line x1="453.70" y1="228.90" x2="453.70" y2="232.30" stroke="#1a1a1a" stroke-width="0.9"/>
<line x1="457.85" y1="228.90" x2="457.85" y2="230.50" stroke="#1a1a1a" stroke-width="0.6"/>
<line x1="460.28" y1="228.90" x2="460.28" y2="230.50" stroke="#1a1a1a" stroke-width="0.6"/>
<line x1="462.01" y1="228.90" x2="462.01" y2="230.50" stroke="#1a1a1a" stroke-width="0.6"/>
<line x1="463.35" y1="228.90" x2="463.35" y2="230.50" stroke="#1a1a1a" stroke-width="0.6"/>
<line x1="464.44" y1="228.90" x2="464.44" y2="230.50" stroke="#1a1a1a" stroke-width="0.6"/>
<line x1="465.36" y1="228.90" x2="465.36" y2="230.50" stroke="#1a1a1a" stroke-width="0.6"/>
<line x1="466.16" y1="228.90" x2="466.16" y2="230.50" stroke="#1a1a1a" stroke-width="0.6"/>
<line x1="466.87" y1="228.90" x2="466.87" y2="230.50" stroke="#1a1a1a" stroke-width="0.6"/>
<line x1="467.50" y1="228.90" x2="467.50" y2="232.30" stroke="#1a1a1a" stroke-width="0.9"/>
<line x1="471.65" y1="228.90" x2="471.65" y2="230.50" stroke="#1a1a1a" stroke-width="0.6"/>
<line x1="474.08" y1="228.90" x2="474.08" y2="230.50" stroke="#1a1a1a" stroke-width="0.6"/>
<line x1="475.81" y1="228.90" x2="475.81" y2="230.50" stroke="#1a1a1a" stroke-width="0.6"/>
<line x1="477.15" y1="228.90" x2="477.15" y2="230.50" stroke="#1a1a1a" stroke-width="0.6"/>
<line x1="478.24" y1="228.90" x2="478.24" y2="230.50" stroke="#1a1a1a" stroke-width="0.6"/>
<line x1="479.16" y1="228.90" x2="479.16" y2="230.50" stroke="#1a1a1a" stroke-width="0.6"/>
<line x1="479.96" y1="228.90" x2="479.96" y2="230.50" stroke="#1a1a1a" stroke-width="0.6"/>
<line x1="480.67" y1="228.90" x2="480.67" y2="230.50" stroke="#1a1a1a" stroke-width="0.6"/>
<line x1="481.30" y1="228.90" x2="481.30" y2="232.30" stroke="#1a1a1a" stroke-width="0.9"/>
<line x1="485.45" y1="228.90" x2="485.45" y2="230.50" stroke="#1a1a1a" stroke-width="0.6"/>
<line x1="487.88" y1="228.90" x2="487.88" y2="230.50" stroke="#1a1a1a" stroke-width="0.6"/>
<line x1="489.61" y1="228.90" x2="489.61" y2="230.50" stroke="#1a1a1a" stroke-width="0.6"/>
<line x1="490.95" y1="228.90" x2="490.95" y2="230.50" stroke="#1a1a1a" stroke-width="0.6"/>
<line x1="492.04" y1="228.90" x2="492.04" y2="230.50" stroke="#1a1a1a" stroke-width="0.6"/>
<line x1="492.96" y1="228.90" x2="492.96" y2="230.50" stroke="#1a1a1a" stroke-width="0.6"/>
<line x1="493.76" y1="228.90" x2="493.76" y2="230.50" stroke="#1a1a1a" stroke-width="0.6"/>
<line x1="494.47" y1="228.90" x2="494.47" y2="230.50" stroke="#1a1a1a" stroke-width="0.6"/>
<line x1="495.10" y1="228.90" x2="495.10" y2="232.30" stroke="#1a1a1a" stroke-width="0.9"/>
<text x="393.30" y="232.50" font-size="10.2" fill="#585858" text-anchor="end" >0</text>
<text x="393.30" y="213.84" font-size="10.2" fill="#585858" text-anchor="end" >20</text>
<text x="393.30" y="195.18" font-size="10.2" fill="#585858" text-anchor="end" >40</text>
<text x="393.30" y="176.52" font-size="10.2" fill="#585858" text-anchor="end" >60</text>
<text x="393.30" y="157.86" font-size="10.2" fill="#585858" text-anchor="end" >80</text>
<text x="393.30" y="139.20" font-size="10.2" fill="#585858" text-anchor="end" >100</text>
<clipPath id="hc2"><path d="M515.00,228.70 C516.17,228.58 519.83,228.28 522.00,228.00 C524.17,227.72 526.33,227.58 528.00,227.00 C529.67,226.42 530.78,225.48 532.00,224.50 C533.22,223.52 534.38,222.85 535.30,221.10 C536.22,219.35 536.92,216.72 537.50,214.00 C538.08,211.28 538.18,208.80 538.80,204.80 C539.42,200.80 540.43,195.03 541.20,190.00 C541.97,184.97 542.68,179.27 543.40,174.60 C544.12,169.93 544.77,165.60 545.50,162.00 C546.23,158.40 547.08,155.17 547.80,153.00 C548.52,150.83 549.17,149.87 549.80,149.00 C550.43,148.13 551.10,147.30 551.60,147.80 C552.10,148.30 552.33,148.32 552.80,152.00 C553.27,155.68 553.63,163.03 554.40,169.90 C555.17,176.77 556.32,186.22 557.40,193.20 C558.48,200.18 559.55,206.57 560.90,211.80 C562.25,217.03 563.75,221.97 565.50,224.60 C567.25,227.23 568.98,226.92 571.40,227.60 C573.82,228.28 578.57,228.52 580.00,228.70 Z"/></clipPath>
<path d="M515.00,228.70 C516.17,228.58 519.83,228.28 522.00,228.00 C524.17,227.72 526.33,227.58 528.00,227.00 C529.67,226.42 530.78,225.48 532.00,224.50 C533.22,223.52 534.38,222.85 535.30,221.10 C536.22,219.35 536.92,216.72 537.50,214.00 C538.08,211.28 538.18,208.80 538.80,204.80 C539.42,200.80 540.43,195.03 541.20,190.00 C541.97,184.97 542.68,179.27 543.40,174.60 C544.12,169.93 544.77,165.60 545.50,162.00 C546.23,158.40 547.08,155.17 547.80,153.00 C548.52,150.83 549.17,149.87 549.80,149.00 C550.43,148.13 551.10,147.30 551.60,147.80 C552.10,148.30 552.33,148.32 552.80,152.00 C553.27,155.68 553.63,163.03 554.40,169.90 C555.17,176.77 556.32,186.22 557.40,193.20 C558.48,200.18 559.55,206.57 560.90,211.80 C562.25,217.03 563.75,221.97 565.50,224.60 C567.25,227.23 568.98,226.92 571.40,227.60 C573.82,228.28 578.57,228.52 580.00,228.70 Z" fill="#86d6d6" stroke="none"/>
<path d="M512.00,228.70 C513.33,228.58 517.67,228.28 520.00,228.00 C522.33,227.72 524.33,227.58 526.00,227.00 C527.67,226.42 528.85,225.48 530.00,224.50 C531.15,223.52 531.98,222.85 532.90,221.10 C533.82,219.35 534.72,216.72 535.50,214.00 C536.28,211.28 536.85,208.80 537.60,204.80 C538.35,200.80 539.22,195.03 540.00,190.00 C540.78,184.97 541.55,179.93 542.30,174.60 C543.05,169.27 543.80,163.10 544.50,158.00 C545.20,152.90 545.92,147.17 546.50,144.00 C547.08,140.83 547.62,139.92 548.00,139.00 C548.38,138.08 548.50,138.33 548.80,138.50 C549.10,138.67 549.33,137.08 549.80,140.00 C550.27,142.92 550.92,148.30 551.60,156.00 C552.28,163.70 553.20,176.12 553.90,186.20 C554.60,196.28 555.28,210.28 555.80,216.50 C556.32,222.72 556.53,221.75 557.00,223.50 C557.47,225.25 557.77,226.13 558.60,227.00 C559.43,227.87 561.43,228.42 562.00,228.70 Z" fill="#b4b4b4" stroke="none"/>
<path d="M512.00,228.70 C513.33,228.58 517.67,228.28 520.00,228.00 C522.33,227.72 524.33,227.58 526.00,227.00 C527.67,226.42 528.85,225.48 530.00,224.50 C531.15,223.52 531.98,222.85 532.90,221.10 C533.82,219.35 534.72,216.72 535.50,214.00 C536.28,211.28 536.85,208.80 537.60,204.80 C538.35,200.80 539.22,195.03 540.00,190.00 C540.78,184.97 541.55,179.93 542.30,174.60 C543.05,169.27 543.80,163.10 544.50,158.00 C545.20,152.90 545.92,147.17 546.50,144.00 C547.08,140.83 547.62,139.92 548.00,139.00 C548.38,138.08 548.50,138.33 548.80,138.50 C549.10,138.67 549.33,137.08 549.80,140.00 C550.27,142.92 550.92,148.30 551.60,156.00 C552.28,163.70 553.20,176.12 553.90,186.20 C554.60,196.28 555.28,210.28 555.80,216.50 C556.32,222.72 556.53,221.75 557.00,223.50 C557.47,225.25 557.77,226.13 558.60,227.00 C559.43,227.87 561.43,228.42 562.00,228.70 Z" fill="#79a3a1" stroke="none" clip-path="url(#hc2)"/>
<path d="M515.00,228.70 C516.17,228.58 519.83,228.28 522.00,228.00 C524.17,227.72 526.33,227.58 528.00,227.00 C529.67,226.42 530.78,225.48 532.00,224.50 C533.22,223.52 534.38,222.85 535.30,221.10 C536.22,219.35 536.92,216.72 537.50,214.00 C538.08,211.28 538.18,208.80 538.80,204.80 C539.42,200.80 540.43,195.03 541.20,190.00 C541.97,184.97 542.68,179.27 543.40,174.60 C544.12,169.93 544.77,165.60 545.50,162.00 C546.23,158.40 547.08,155.17 547.80,153.00 C548.52,150.83 549.17,149.87 549.80,149.00 C550.43,148.13 551.10,147.30 551.60,147.80 C552.10,148.30 552.33,148.32 552.80,152.00 C553.27,155.68 553.63,163.03 554.40,169.90 C555.17,176.77 556.32,186.22 557.40,193.20 C558.48,200.18 559.55,206.57 560.90,211.80 C562.25,217.03 563.75,221.97 565.50,224.60 C567.25,227.23 568.98,226.92 571.40,227.60 C573.82,228.28 578.57,228.52 580.00,228.70 Z" fill="none" stroke="#111" stroke-width="0.9" stroke-linejoin="round"/>
<path d="M512.00,228.70 C513.33,228.58 517.67,228.28 520.00,228.00 C522.33,227.72 524.33,227.58 526.00,227.00 C527.67,226.42 528.85,225.48 530.00,224.50 C531.15,223.52 531.98,222.85 532.90,221.10 C533.82,219.35 534.72,216.72 535.50,214.00 C536.28,211.28 536.85,208.80 537.60,204.80 C538.35,200.80 539.22,195.03 540.00,190.00 C540.78,184.97 541.55,179.93 542.30,174.60 C543.05,169.27 543.80,163.10 544.50,158.00 C545.20,152.90 545.92,147.17 546.50,144.00 C547.08,140.83 547.62,139.92 548.00,139.00 C548.38,138.08 548.50,138.33 548.80,138.50 C549.10,138.67 549.33,137.08 549.80,140.00 C550.27,142.92 550.92,148.30 551.60,156.00 C552.28,163.70 553.20,176.12 553.90,186.20 C554.60,196.28 555.28,210.28 555.80,216.50 C556.32,222.72 556.53,221.75 557.00,223.50 C557.47,225.25 557.77,226.13 558.60,227.00 C559.43,227.87 561.43,228.42 562.00,228.70 Z" fill="none" stroke="#111" stroke-width="0.9" stroke-linejoin="round"/>
<rect x="506.50" y="130.80" width="101.80" height="98.10" fill="none" stroke="#1a1a1a" stroke-width="1.1"/>
<line x1="502.90" y1="228.90" x2="506.50" y2="228.90" stroke="#1a1a1a" stroke-width="0.9"/>
<line x1="504.70" y1="224.24" x2="506.50" y2="224.24" stroke="#1a1a1a" stroke-width="0.8"/>
<line x1="504.70" y1="219.57" x2="506.50" y2="219.57" stroke="#1a1a1a" stroke-width="0.8"/>
<line x1="504.70" y1="214.91" x2="506.50" y2="214.91" stroke="#1a1a1a" stroke-width="0.8"/>
<line x1="502.90" y1="210.24" x2="506.50" y2="210.24" stroke="#1a1a1a" stroke-width="0.9"/>
<line x1="504.70" y1="205.57" x2="506.50" y2="205.57" stroke="#1a1a1a" stroke-width="0.8"/>
<line x1="504.70" y1="200.91" x2="506.50" y2="200.91" stroke="#1a1a1a" stroke-width="0.8"/>
<line x1="504.70" y1="196.25" x2="506.50" y2="196.25" stroke="#1a1a1a" stroke-width="0.8"/>
<line x1="502.90" y1="191.58" x2="506.50" y2="191.58" stroke="#1a1a1a" stroke-width="0.9"/>
<line x1="504.70" y1="186.91" x2="506.50" y2="186.91" stroke="#1a1a1a" stroke-width="0.8"/>
<line x1="504.70" y1="182.25" x2="506.50" y2="182.25" stroke="#1a1a1a" stroke-width="0.8"/>
<line x1="504.70" y1="177.58" x2="506.50" y2="177.58" stroke="#1a1a1a" stroke-width="0.8"/>
<line x1="502.90" y1="172.92" x2="506.50" y2="172.92" stroke="#1a1a1a" stroke-width="0.9"/>
<line x1="504.70" y1="168.25" x2="506.50" y2="168.25" stroke="#1a1a1a" stroke-width="0.8"/>
<line x1="504.70" y1="163.59" x2="506.50" y2="163.59" stroke="#1a1a1a" stroke-width="0.8"/>
<line x1="504.70" y1="158.93" x2="506.50" y2="158.93" stroke="#1a1a1a" stroke-width="0.8"/>
<line x1="502.90" y1="154.26" x2="506.50" y2="154.26" stroke="#1a1a1a" stroke-width="0.9"/>
<line x1="504.70" y1="149.59" x2="506.50" y2="149.59" stroke="#1a1a1a" stroke-width="0.8"/>
<line x1="504.70" y1="144.93" x2="506.50" y2="144.93" stroke="#1a1a1a" stroke-width="0.8"/>
<line x1="504.70" y1="140.26" x2="506.50" y2="140.26" stroke="#1a1a1a" stroke-width="0.8"/>
<line x1="502.90" y1="135.60" x2="506.50" y2="135.60" stroke="#1a1a1a" stroke-width="0.9"/>
<line x1="506.50" y1="228.90" x2="506.50" y2="232.30" stroke="#1a1a1a" stroke-width="0.9"/>
<line x1="510.71" y1="228.90" x2="510.71" y2="230.50" stroke="#1a1a1a" stroke-width="0.6"/>
<line x1="513.18" y1="228.90" x2="513.18" y2="230.50" stroke="#1a1a1a" stroke-width="0.6"/>
<line x1="514.93" y1="228.90" x2="514.93" y2="230.50" stroke="#1a1a1a" stroke-width="0.6"/>
<line x1="516.29" y1="228.90" x2="516.29" y2="230.50" stroke="#1a1a1a" stroke-width="0.6"/>
<line x1="517.39" y1="228.90" x2="517.39" y2="230.50" stroke="#1a1a1a" stroke-width="0.6"/>
<line x1="518.33" y1="228.90" x2="518.33" y2="230.50" stroke="#1a1a1a" stroke-width="0.6"/>
<line x1="519.14" y1="228.90" x2="519.14" y2="230.50" stroke="#1a1a1a" stroke-width="0.6"/>
<line x1="519.86" y1="228.90" x2="519.86" y2="230.50" stroke="#1a1a1a" stroke-width="0.6"/>
<line x1="520.50" y1="228.90" x2="520.50" y2="232.30" stroke="#1a1a1a" stroke-width="0.9"/>
<line x1="524.71" y1="228.90" x2="524.71" y2="230.50" stroke="#1a1a1a" stroke-width="0.6"/>
<line x1="527.18" y1="228.90" x2="527.18" y2="230.50" stroke="#1a1a1a" stroke-width="0.6"/>
<line x1="528.93" y1="228.90" x2="528.93" y2="230.50" stroke="#1a1a1a" stroke-width="0.6"/>
<line x1="530.29" y1="228.90" x2="530.29" y2="230.50" stroke="#1a1a1a" stroke-width="0.6"/>
<line x1="531.39" y1="228.90" x2="531.39" y2="230.50" stroke="#1a1a1a" stroke-width="0.6"/>
<line x1="532.33" y1="228.90" x2="532.33" y2="230.50" stroke="#1a1a1a" stroke-width="0.6"/>
<line x1="533.14" y1="228.90" x2="533.14" y2="230.50" stroke="#1a1a1a" stroke-width="0.6"/>
<line x1="533.86" y1="228.90" x2="533.86" y2="230.50" stroke="#1a1a1a" stroke-width="0.6"/>
<line x1="534.50" y1="228.90" x2="534.50" y2="232.30" stroke="#1a1a1a" stroke-width="0.9"/>
<line x1="538.71" y1="228.90" x2="538.71" y2="230.50" stroke="#1a1a1a" stroke-width="0.6"/>
<line x1="541.18" y1="228.90" x2="541.18" y2="230.50" stroke="#1a1a1a" stroke-width="0.6"/>
<line x1="542.93" y1="228.90" x2="542.93" y2="230.50" stroke="#1a1a1a" stroke-width="0.6"/>
<line x1="544.29" y1="228.90" x2="544.29" y2="230.50" stroke="#1a1a1a" stroke-width="0.6"/>
<line x1="545.39" y1="228.90" x2="545.39" y2="230.50" stroke="#1a1a1a" stroke-width="0.6"/>
<line x1="546.33" y1="228.90" x2="546.33" y2="230.50" stroke="#1a1a1a" stroke-width="0.6"/>
<line x1="547.14" y1="228.90" x2="547.14" y2="230.50" stroke="#1a1a1a" stroke-width="0.6"/>
<line x1="547.86" y1="228.90" x2="547.86" y2="230.50" stroke="#1a1a1a" stroke-width="0.6"/>
<line x1="548.50" y1="228.90" x2="548.50" y2="232.30" stroke="#1a1a1a" stroke-width="0.9"/>
<line x1="552.71" y1="228.90" x2="552.71" y2="230.50" stroke="#1a1a1a" stroke-width="0.6"/>
<line x1="555.18" y1="228.90" x2="555.18" y2="230.50" stroke="#1a1a1a" stroke-width="0.6"/>
<line x1="556.93" y1="228.90" x2="556.93" y2="230.50" stroke="#1a1a1a" stroke-width="0.6"/>
<line x1="558.29" y1="228.90" x2="558.29" y2="230.50" stroke="#1a1a1a" stroke-width="0.6"/>
<line x1="559.39" y1="228.90" x2="559.39" y2="230.50" stroke="#1a1a1a" stroke-width="0.6"/>
<line x1="560.33" y1="228.90" x2="560.33" y2="230.50" stroke="#1a1a1a" stroke-width="0.6"/>
<line x1="561.14" y1="228.90" x2="561.14" y2="230.50" stroke="#1a1a1a" stroke-width="0.6"/>
<line x1="561.86" y1="228.90" x2="561.86" y2="230.50" stroke="#1a1a1a" stroke-width="0.6"/>
<line x1="562.50" y1="228.90" x2="562.50" y2="232.30" stroke="#1a1a1a" stroke-width="0.9"/>
<line x1="566.71" y1="228.90" x2="566.71" y2="230.50" stroke="#1a1a1a" stroke-width="0.6"/>
<line x1="569.18" y1="228.90" x2="569.18" y2="230.50" stroke="#1a1a1a" stroke-width="0.6"/>
<line x1="570.93" y1="228.90" x2="570.93" y2="230.50" stroke="#1a1a1a" stroke-width="0.6"/>
<line x1="572.29" y1="228.90" x2="572.29" y2="230.50" stroke="#1a1a1a" stroke-width="0.6"/>
<line x1="573.39" y1="228.90" x2="573.39" y2="230.50" stroke="#1a1a1a" stroke-width="0.6"/>
<line x1="574.33" y1="228.90" x2="574.33" y2="230.50" stroke="#1a1a1a" stroke-width="0.6"/>
<line x1="575.14" y1="228.90" x2="575.14" y2="230.50" stroke="#1a1a1a" stroke-width="0.6"/>
<line x1="575.86" y1="228.90" x2="575.86" y2="230.50" stroke="#1a1a1a" stroke-width="0.6"/>
<line x1="576.50" y1="228.90" x2="576.50" y2="232.30" stroke="#1a1a1a" stroke-width="0.9"/>
<line x1="580.71" y1="228.90" x2="580.71" y2="230.50" stroke="#1a1a1a" stroke-width="0.6"/>
<line x1="583.18" y1="228.90" x2="583.18" y2="230.50" stroke="#1a1a1a" stroke-width="0.6"/>
<line x1="584.93" y1="228.90" x2="584.93" y2="230.50" stroke="#1a1a1a" stroke-width="0.6"/>
<line x1="586.29" y1="228.90" x2="586.29" y2="230.50" stroke="#1a1a1a" stroke-width="0.6"/>
<line x1="587.39" y1="228.90" x2="587.39" y2="230.50" stroke="#1a1a1a" stroke-width="0.6"/>
<line x1="588.33" y1="228.90" x2="588.33" y2="230.50" stroke="#1a1a1a" stroke-width="0.6"/>
<line x1="589.14" y1="228.90" x2="589.14" y2="230.50" stroke="#1a1a1a" stroke-width="0.6"/>
<line x1="589.86" y1="228.90" x2="589.86" y2="230.50" stroke="#1a1a1a" stroke-width="0.6"/>
<line x1="590.50" y1="228.90" x2="590.50" y2="232.30" stroke="#1a1a1a" stroke-width="0.9"/>
<line x1="594.71" y1="228.90" x2="594.71" y2="230.50" stroke="#1a1a1a" stroke-width="0.6"/>
<line x1="597.18" y1="228.90" x2="597.18" y2="230.50" stroke="#1a1a1a" stroke-width="0.6"/>
<line x1="598.93" y1="228.90" x2="598.93" y2="230.50" stroke="#1a1a1a" stroke-width="0.6"/>
<line x1="600.29" y1="228.90" x2="600.29" y2="230.50" stroke="#1a1a1a" stroke-width="0.6"/>
<line x1="601.39" y1="228.90" x2="601.39" y2="230.50" stroke="#1a1a1a" stroke-width="0.6"/>
<line x1="602.33" y1="228.90" x2="602.33" y2="230.50" stroke="#1a1a1a" stroke-width="0.6"/>
<line x1="603.14" y1="228.90" x2="603.14" y2="230.50" stroke="#1a1a1a" stroke-width="0.6"/>
<line x1="603.86" y1="228.90" x2="603.86" y2="230.50" stroke="#1a1a1a" stroke-width="0.6"/>
<line x1="604.50" y1="228.90" x2="604.50" y2="232.30" stroke="#1a1a1a" stroke-width="0.9"/>
<text x="391.60" y="245.00" font-size="9.6" fill="#555" text-anchor="start" textLength="8.5" lengthAdjust="spacingAndGlyphs" >10</text>
<text x="402.90" y="240.40" font-size="4.6" fill="#555" text-anchor="start" >0</text>
<text x="417.00" y="245.00" font-size="9.6" fill="#555" text-anchor="start" textLength="8.5" lengthAdjust="spacingAndGlyphs" >10</text>
<text x="428.30" y="240.40" font-size="4.6" fill="#555" text-anchor="start" >2</text>
<text x="443.80" y="245.00" font-size="9.6" fill="#555" text-anchor="start" textLength="8.5" lengthAdjust="spacingAndGlyphs" >10</text>
<text x="455.10" y="240.40" font-size="4.6" fill="#555" text-anchor="start" >4</text>
<text x="471.10" y="245.00" font-size="9.6" fill="#555" text-anchor="start" textLength="8.5" lengthAdjust="spacingAndGlyphs" >10</text>
<text x="482.40" y="240.40" font-size="4.6" fill="#555" text-anchor="start" >6</text>
<text x="501.70" y="245.00" font-size="9.6" fill="#555" text-anchor="start" textLength="8.5" lengthAdjust="spacingAndGlyphs" >10</text>
<text x="513.00" y="240.40" font-size="4.6" fill="#555" text-anchor="start" >0</text>
<text x="527.90" y="245.00" font-size="9.6" fill="#555" text-anchor="start" textLength="8.5" lengthAdjust="spacingAndGlyphs" >10</text>
<text x="539.20" y="240.40" font-size="4.6" fill="#555" text-anchor="start" >2</text>
<text x="555.70" y="245.00" font-size="9.6" fill="#555" text-anchor="start" textLength="8.5" lengthAdjust="spacingAndGlyphs" >10</text>
<text x="567.00" y="240.40" font-size="4.6" fill="#555" text-anchor="start" >4</text>
<text x="583.80" y="245.00" font-size="9.6" fill="#555" text-anchor="start" textLength="8.5" lengthAdjust="spacingAndGlyphs" >10</text>
<text x="595.10" y="240.40" font-size="4.6" fill="#555" text-anchor="start" >6</text>
<line x1="437.00" y1="249.40" x2="565.00" y2="249.40" stroke="#333" stroke-width="1.0"/>
<text x="498.20" y="265.00" font-size="11.6" fill="#555" text-anchor="middle" textLength="30.7" lengthAdjust="spacingAndGlyphs" >NRP2</text>
<text x="115.80" y="278.30" font-size="12.0" fill="#555" text-anchor="middle" textLength="56.5" lengthAdjust="spacingAndGlyphs" >Control KO</text>
<text x="260.40" y="278.30" font-size="12.0" fill="#555" text-anchor="middle" textLength="48.0" lengthAdjust="spacingAndGlyphs" >NRP2 KO</text>
<text x="19.60" y="353.00" font-size="12.6" fill="#555" text-anchor="middle" textLength="65.9" lengthAdjust="spacingAndGlyphs" transform="rotate(-90 19.60 353.00)" >HCMV-GFP</text>
<path d="M158.2,344.5 157.0,344.6 155.5,344.1 154.6,343.5 153.8,342.2 152.9,340.0 152.2,337.2 151.9,334.2 152.0,331.2 151.2,330.2 151.0,330.1 147.2,332.0 143.2,333.6 139.0,335.0 134.5,336.2 128.2,337.3 122.2,337.8 116.5,337.8 111.0,337.1 108.0,338.1 106.0,339.6 103.8,340.7 101.5,341.4 99.2,341.7 97.0,341.6 95.0,341.2 93.0,340.3 91.5,339.3 90.3,338.0 89.5,336.5 89.1,334.8 89.2,333.0 89.7,331.2 90.5,329.8 92.8,327.2 95.0,324.2 95.4,322.0 96.0,320.2 97.1,318.2 98.5,316.2 100.5,314.0 103.1,311.8 105.9,309.8 109.2,307.8 113.8,305.6 118.5,303.8 123.5,302.3 128.8,301.2 134.0,300.5 139.0,300.2 144.0,300.3 148.5,300.8 151.8,301.5 154.8,302.4 157.4,303.5 159.5,304.8 161.5,306.2 162.8,307.8 164.0,309.5 164.7,311.5 164.9,314.0 164.3,316.8 163.1,319.5 161.0,322.5 160.8,325.0 161.7,328.2 162.1,331.8 162.0,335.0 161.6,338.0 161.0,340.2 160.2,342.2 159.2,343.7 158.2,344.5 M157.2,338.8 156.5,338.7 156.0,338.4 155.0,336.5 154.6,334.8 154.5,333.0 154.6,331.2 155.0,329.5 152.5,324.0 147.5,327.4 142.2,329.9 136.2,332.0 130.0,333.3 125.2,333.9 120.8,334.0 116.5,333.6 112.8,332.9 109.5,334.5 106.8,335.5 102.5,336.5 100.8,337.1 99.2,337.3 97.2,336.9 95.8,336.0 94.9,334.8 94.6,333.2 95.6,329.8 96.4,328.0 97.5,326.5 98.8,325.3 102.3,322.8 102.6,321.2 103.1,319.8 105.0,316.8 108.3,313.5 112.8,310.5 120.0,306.8 122.8,305.8 125.8,305.0 130.5,304.3 139.2,304.0 141.8,303.2 144.0,302.7 146.2,302.5 148.5,302.6 152.5,303.4 154.5,304.2 156.0,305.2 157.3,306.2 158.5,307.6 159.3,309.0 159.8,310.5 160.0,312.8 159.5,315.0 158.4,317.0 156.6,319.0 157.4,320.8 157.8,322.5 158.0,324.8 157.9,327.5 158.5,328.3 159.0,329.5 159.5,332.5 159.4,334.8 158.9,336.8 158.2,338.1 157.2,338.8 M126.8,330.0 121.0,330.0 118.5,329.6 116.0,329.0 114.1,328.2 112.4,327.2 111.0,326.1 110.1,324.8 109.5,323.0 109.5,321.2 111.4,316.2 112.3,314.8 113.4,313.2 116.5,310.5 118.5,309.2 120.8,308.1 125.8,306.4 128.5,305.9 131.5,305.7 134.2,305.7 137.0,306.0 139.0,305.5 142.2,304.2 145.8,303.6 149.0,303.7 152.2,304.5 155.0,306.0 157.1,308.0 157.8,309.2 158.4,310.8 158.5,312.2 158.3,313.8 157.8,315.2 157.1,316.5 156.0,317.8 154.5,319.0 151.5,320.6 147.6,321.8 145.9,323.2 143.7,324.8 138.7,327.2 132.8,329.1 126.8,330.0 M101.2,333.8 100.2,333.9 99.5,333.7 99.0,333.2 98.8,332.8 98.9,332.0 99.2,331.1 100.8,329.4 103.0,327.9 105.5,327.0 107.8,326.7 109.0,327.1 109.2,327.8 108.9,328.5 106.8,330.8 104.0,332.8 101.2,333.8 M128.8,327.5 124.0,327.6 121.8,327.3 119.6,326.8 117.8,326.0 116.2,325.1 114.9,324.0 113.9,322.8 113.3,321.5 113.0,320.0 113.0,318.5 113.4,317.0 114.1,315.5 115.2,314.0 116.6,312.5 118.2,311.2 121.8,309.2 126.0,307.8 131.0,307.1 136.0,307.4 143.0,305.2 146.0,304.7 149.0,304.9 151.8,305.6 154.2,307.0 155.9,308.8 156.6,310.0 156.9,311.2 157.0,312.5 156.8,313.8 156.3,315.0 155.5,316.2 153.4,318.2 151.2,319.4 149.0,320.2 143.1,321.0 140.2,323.4 137.0,325.3 133.0,326.7 128.8,327.5 M129.2,326.0 125.0,326.2 121.2,325.5 119.5,324.8 118.1,324.0 116.9,323.0 116.1,322.0 115.5,320.8 115.3,319.5 115.4,318.2 115.8,316.8 116.4,315.5 117.5,314.1 120.2,311.8 123.2,310.2 126.5,309.1 130.8,308.6 135.2,308.9 139.0,307.5 141.8,306.9 144.0,306.1 146.0,305.8 148.5,305.9 151.0,306.6 153.1,307.8 154.6,309.2 155.4,311.2 155.5,312.2 155.3,313.5 154.2,315.6 152.2,317.4 150.5,318.4 148.8,319.0 145.0,319.5 141.2,320.4 138.8,322.5 136.0,324.1 132.8,325.3 129.2,326.0 M129.8,324.5 126.5,324.7 123.2,324.3 120.5,323.3 118.7,321.8 118.1,320.8 117.7,319.8 117.8,317.8 118.8,315.5 120.6,313.5 123.2,311.8 126.5,310.6 128.5,310.2 130.8,310.0 132.8,310.1 134.8,310.5 139.4,308.5 146.0,307.0 148.2,307.0 150.5,307.6 152.2,308.7 153.4,310.0 154.0,311.8 153.8,313.5 152.7,315.2 151.0,316.7 148.2,317.8 145.8,318.1 142.8,319.0 139.5,319.5 137.7,321.2 135.5,322.7 132.8,323.8 129.8,324.5 M128.2,323.3 125.5,323.1 123.1,322.5 121.2,321.3 120.2,319.9 120.0,318.0 120.6,316.2 122.1,314.5 124.2,313.0 126.8,312.0 129.5,311.5 132.2,311.6 134.8,312.2 137.3,310.8 140.0,309.6 146.2,308.1 148.0,308.1 149.8,308.6 151.0,309.3 152.0,310.5 152.4,311.8 152.2,313.2 151.3,314.8 149.9,315.8 148.2,316.4 146.2,316.7 143.0,317.7 138.0,318.3 136.3,320.2 134.0,321.7 131.2,322.8 128.2,323.3 M142.0,316.3 139.2,316.4 137.2,316.1 136.0,315.5 135.9,314.8 136.8,313.5 138.7,312.0 141.0,310.8 143.0,310.1 146.2,309.3 147.8,309.2 149.4,309.8 150.5,310.8 150.9,311.8 150.8,312.8 150.2,313.7 149.5,314.3 148.0,315.0 146.5,315.2 144.2,315.9 142.0,316.3 M129.0,321.8 127.2,321.8 125.8,321.6 124.3,321.0 123.3,320.2 122.6,319.2 122.4,318.2 122.6,317.0 123.2,316.0 124.1,315.0 125.2,314.2 126.8,313.5 128.2,313.1 130.0,312.9 131.5,313.1 133.0,313.5 134.2,314.1 135.2,315.0 135.8,316.2 135.8,317.5 135.2,318.7 134.2,319.8 132.8,320.7 131.0,321.4 129.0,321.8 M147.5,313.5 144.0,313.6 143.3,313.2 143.2,312.8 143.7,312.0 144.5,311.5 146.5,310.5 147.8,310.4 149.0,311.0 149.4,312.0 148.8,313.0 147.5,313.5 M129.5,320.3 128.0,320.3 126.7,320.0 125.8,319.4 125.0,318.5 124.9,317.5 125.4,316.2 126.2,315.4 127.5,314.7 129.2,314.4 131.0,314.6 132.5,315.4 133.2,316.5 133.3,317.8 132.7,318.8 131.3,319.8 129.5,320.3" fill="none" stroke="#3a3a3a" stroke-width="0.55"/>
<linearGradient id="g_c1" x1="0.0" y1="0" x2="1.0" y2="0"><stop offset="0" stop-color="#9a9a9a"/><stop offset="0.45" stop-color="#a8a8a8"/><stop offset="1" stop-color="#cccccc"/></linearGradient>
<path d="M96.2,345.8 97.6,345.4 99.1,345.0 100.7,344.7 102.3,344.3 104.1,344.0 105.9,343.8 107.8,343.5 109.7,343.3 111.8,343.0 113.9,342.9 116.2,342.7 118.7,342.6 121.2,342.5 123.9,342.4 126.7,342.3 129.6,342.3 132.7,342.3 135.6,342.3 138.3,342.3 140.9,342.4 143.4,342.4 145.7,342.5 147.8,342.6 149.8,342.7 151.6,342.8 153.3,343.0 154.9,343.2 156.4,343.5 157.8,343.9 159.0,344.3 160.2,344.8 161.2,345.3 162.2,345.9 163.0,346.6 163.8,347.3 164.5,348.0 165.1,348.8 165.6,349.7 166.1,350.6 166.5,351.6 166.8,352.6 167.0,353.7 167.2,354.8 167.3,356.0 167.3,357.2 167.3,358.5 167.2,359.8 167.1,361.2 166.9,362.6 166.6,364.0 166.2,365.5 165.7,366.9 165.1,368.3 164.4,369.7 163.5,371.2 162.6,372.6 161.6,374.0 160.5,375.4 159.2,376.7 157.9,378.0 156.5,379.2 155.0,380.4 153.3,381.5 151.6,382.6 149.8,383.6 147.9,384.6 146.1,385.7 144.2,386.7 142.2,387.7 140.3,388.7 138.3,389.7 136.3,390.7 134.2,391.8 132.2,392.7 130.2,393.7 128.1,394.7 126.1,395.6 124.0,396.5 122.0,397.3 120.0,398.2 117.9,399.0 115.9,399.8 114.0,400.5 112.1,401.2 110.3,401.8 108.5,402.3 106.8,402.8 105.1,403.3 103.4,403.7 101.8,404.0 100.2,404.3 98.7,404.5 97.1,404.6 95.6,404.6 94.2,404.5 92.7,404.4 91.3,404.2 89.9,403.9 88.6,403.6 87.3,403.1 86.1,402.6 84.9,402.1 83.8,401.4 82.8,400.7 81.7,399.8 80.8,398.9 80.0,397.9 79.2,396.8 78.6,395.6 78.0,394.2 77.5,392.8 77.1,391.3 76.8,389.6 76.5,388.0 76.4,386.4 76.2,384.7 76.2,383.1 76.2,381.5 76.3,379.8 76.4,378.2 76.6,376.6 76.9,375.0 77.2,373.3 77.6,371.7 78.0,370.1 78.6,368.4 79.1,366.8 79.8,365.2 80.5,363.5 81.3,361.9 82.0,360.4 82.9,358.9 83.7,357.4 84.7,355.9 85.6,354.5 86.6,353.2 87.6,351.8 88.7,350.6 89.8,349.5 91.0,348.6 92.2,347.7 93.5,346.9 94.8,346.3Z" fill="url(#g_c1)" stroke="#222" stroke-width="1.0"/>
<ellipse cx="110" cy="372" rx="30" ry="15" transform="rotate(-18 110 372)" fill="#333" fill-opacity="0.7" filter="url(#bl2)"/>
<ellipse cx="86" cy="386" rx="6" ry="10" transform="rotate(0 86 386)" fill="#333" fill-opacity="0.4" filter="url(#bl2)"/>
<ellipse cx="128" cy="358" rx="26" ry="9" transform="rotate(-15 128 358)" fill="#333" fill-opacity="0.35" filter="url(#bl2)"/>
<path d="M97.8,405.8 93.8,405.7 91.0,405.4 88.5,404.8 85.0,403.5 81.5,401.3 79.2,399.0 77.3,396.0 76.0,392.8 75.1,388.2 74.6,383.0 75.0,377.5 76.0,372.5 77.5,367.5 80.2,361.2 82.8,356.5 86.3,351.5 89.5,348.2 91.8,346.6 93.8,345.4 95.8,344.7 99.2,343.7 108.2,342.2 115.8,341.5 122.0,341.2 144.0,341.2 150.2,341.4 154.5,341.9 157.8,342.5 161.0,343.7 163.2,345.1 165.5,347.2 166.6,348.8 167.4,350.2 168.0,352.2 168.5,354.5 168.7,358.8 168.0,364.0 166.6,368.0 164.5,372.0 161.8,375.8 158.0,379.5 153.2,383.0 147.5,386.3 136.5,392.1 124.8,397.5 116.5,400.9 109.5,403.3 103.8,404.9 97.8,405.8 M98.5,405.0 94.5,405.1 89.5,404.4 86.0,403.2 82.2,401.0 80.0,398.9 78.1,396.0 76.7,392.8 75.7,388.2 75.3,383.2 75.6,378.0 76.5,373.0 78.0,368.0 80.7,361.8 83.3,357.0 86.8,352.0 89.9,348.8 92.0,347.2 94.2,346.0 99.5,344.4 108.2,342.9 116.0,342.1 122.0,341.8 143.8,341.8 154.0,342.5 157.5,343.2 160.5,344.2 162.8,345.6 165.0,347.7 166.1,349.2 166.9,350.8 167.5,352.8 167.9,354.8 168.1,358.8 167.4,363.8 166.0,367.8 163.9,371.8 161.1,375.5 157.5,379.1 152.8,382.6 147.0,385.8 136.2,391.4 124.8,396.8 116.2,400.3 109.5,402.6 104.0,404.2 98.5,405.0 M98.0,404.5 94.2,404.6 91.5,404.2 89.0,403.7 85.8,402.5 82.2,400.3 80.0,398.0 78.2,395.1 77.1,392.0 76.2,387.5 75.8,382.8 76.2,377.8 77.1,373.0 78.6,368.0 81.2,361.9 83.8,357.2 87.3,352.2 90.2,349.2 92.5,347.6 94.5,346.5 99.8,344.9 108.5,343.4 116.0,342.7 122.0,342.4 143.5,342.4 153.8,343.0 157.2,343.7 160.2,344.7 162.5,346.1 164.5,348.0 165.6,349.5 166.4,351.0 167.0,353.0 167.4,355.0 167.5,358.8 166.8,363.8 165.5,367.5 163.4,371.5 160.6,375.2 157.0,378.8 152.5,382.0 146.8,385.3 136.0,390.9 124.5,396.3 116.0,399.8 109.2,402.1 103.8,403.6 98.0,404.5 M98.2,404.0 94.5,404.1 91.8,403.8 89.2,403.3 86.0,402.1 82.6,400.0 80.5,397.9 78.7,395.0 77.5,392.0 76.6,387.5 76.2,382.8 76.6,378.0 77.5,373.2 79.0,368.2 81.7,362.0 84.2,357.5 87.7,352.5 90.5,349.6 92.7,348.0 94.8,346.9 100.0,345.3 108.5,343.9 116.2,343.1 122.2,342.8 143.5,342.8 153.8,343.4 157.0,344.1 160.0,345.1 162.2,346.5 164.2,348.4 165.2,349.8 166.0,351.2 166.6,353.2 167.0,355.5 167.1,358.8 166.3,363.8 165.0,367.5 163.0,371.2 160.2,375.0 156.8,378.4 152.1,381.8 146.5,384.9 135.8,390.5 124.5,395.8 116.0,399.3 109.2,401.6 103.8,403.1 98.2,404.0 M98.5,403.5 94.8,403.7 89.8,402.9 86.4,401.8 83.0,399.7 81.0,397.8 79.1,394.8 77.9,391.8 77.0,387.3 76.6,382.8 77.0,378.0 77.9,373.2 79.4,368.5 82.1,362.2 84.6,357.8 88.1,352.8 90.8,350.0 93.0,348.4 95.0,347.3 100.2,345.8 108.8,344.3 116.2,343.6 122.2,343.3 143.5,343.3 153.5,343.9 156.8,344.5 159.8,345.5 162.0,346.8 164.0,348.8 165.0,350.2 165.7,351.8 166.6,355.8 166.6,359.0 165.9,363.8 164.6,367.2 162.6,371.0 159.8,374.8 156.5,378.0 152.0,381.2 146.2,384.5 135.5,390.1 124.4,395.2 116.0,398.8 109.2,401.1 103.8,402.6 98.5,403.5 M98.0,402.5 94.0,402.5 90.2,401.9 86.9,400.8 84.0,399.0 82.1,397.2 80.5,395.0 80.2,395.2 80.2,394.6 80.0,394.7 79.9,394.5 80.1,394.2 80.0,394.1 79.8,394.2 79.7,394.0 79.8,393.8 79.8,393.6 79.5,393.6 79.6,393.2 79.5,393.0 79.2,393.0 79.1,392.8 79.3,392.5 79.0,392.4 78.9,392.0 79.0,391.8 78.7,391.5 77.7,386.5 77.4,382.5 77.8,378.0 78.8,373.3 80.2,369.0 82.7,363.2 85.6,358.0 88.7,353.8 91.7,350.8 93.8,349.2 96.2,348.0 99.0,347.1 102.2,346.3 107.0,345.5 112.0,344.9 123.8,344.2 142.8,344.2 152.8,344.8 157.0,345.7 157.2,345.5 157.3,345.8 158.2,346.1 158.5,345.9 158.8,346.0 158.6,346.2 159.8,346.8 160.0,346.6 160.4,346.8 160.1,347.0 161.5,348.0 161.3,347.8 161.5,347.5 162.4,348.2 162.0,348.5 162.2,348.7 162.5,348.4 163.3,349.2 164.2,350.6 165.0,352.2 164.7,352.5 165.0,352.3 165.2,353.0 165.0,353.2 165.2,353.1 165.7,355.2 165.5,355.5 165.8,355.6 165.8,356.2 165.8,359.2 165.5,360.5 165.6,360.8 165.5,361.7 165.2,362.2 165.3,362.5 165.0,363.2 165.0,363.8 164.8,364.0 164.8,364.5 164.5,364.8 164.5,365.2 164.1,365.8 164.2,366.0 164.0,366.1 163.0,368.2 161.0,371.5 158.4,374.8 155.2,377.6 150.9,380.8 144.0,384.6 133.0,390.2 123.2,394.7 115.3,398.0 108.8,400.3 103.0,401.8 98.0,402.5 M160.8,347.0 160.5,347.2 160.4,347.0 160.5,346.8 160.8,347.0 M163.3,349.8 163.0,349.5 163.3,349.8 M98.8,401.5 94.5,401.6 90.8,401.1 87.4,400.0 84.5,398.2 82.2,396.0 80.6,393.2 79.4,390.0 78.6,386.0 78.3,382.0 78.7,377.8 79.7,373.2 81.3,368.5 83.7,363.2 86.6,358.2 89.5,354.2 92.2,351.5 94.2,350.1 96.5,348.9 99.2,348.0 102.5,347.2 112.2,345.8 123.8,345.2 142.8,345.1 152.5,345.6 155.8,346.2 158.2,347.1 160.5,348.4 162.2,350.0 163.8,352.5 164.7,355.8 164.8,359.5 164.1,363.2 162.7,367.0 160.5,370.7 157.8,374.0 154.6,377.0 150.2,380.0 143.8,383.7 133.0,389.2 123.8,393.5 116.0,396.7 109.5,399.0 103.8,400.7 98.8,401.5 M99.2,400.5 95.2,400.7 91.5,400.3 88.1,399.2 85.2,397.6 83.0,395.5 81.4,393.0 80.2,389.8 79.4,385.8 79.2,381.8 79.6,377.8 80.6,373.2 82.2,368.8 84.6,363.5 87.5,358.6 90.2,354.9 93.0,352.2 95.0,350.8 97.2,349.7 99.8,348.9 103.2,348.1 112.8,346.8 124.2,346.1 143.2,346.0 152.5,346.5 155.5,347.1 158.0,347.9 160.0,349.1 161.7,350.8 163.1,353.2 163.9,356.2 163.9,359.8 163.2,363.2 161.8,366.8 159.8,370.2 157.0,373.5 154.0,376.3 149.8,379.2 143.5,382.7 133.0,388.1 124.0,392.3 116.5,395.5 110.0,397.9 104.2,399.5 99.2,400.5 M99.0,399.5 95.0,399.7 91.5,399.3 88.2,398.3 85.7,396.8 83.6,394.8 82.0,392.0 80.8,388.8 80.1,385.0 80.0,381.2 80.4,377.5 81.5,373.2 83.1,369.0 85.6,363.8 88.4,359.0 91.0,355.5 93.8,352.9 95.8,351.5 97.8,350.6 100.2,349.8 103.8,349.0 113.2,347.7 124.5,347.1 143.5,347.0 152.2,347.4 155.2,348.0 157.5,348.7 159.5,349.9 161.0,351.5 162.4,354.0 163.0,356.8 163.0,360.0 162.2,363.5 160.8,366.8 158.7,370.0 156.2,373.0 153.0,375.8 148.8,378.7 141.8,382.5 131.5,387.7 123.0,391.7 115.6,394.8 109.4,397.0 103.8,398.6 99.0,399.5 M98.8,398.5 95.0,398.7 91.5,398.3 88.5,397.3 86.0,395.8 84.1,393.8 82.7,391.2 81.6,388.0 80.9,384.2 80.9,380.8 81.3,377.2 82.4,373.2 84.0,369.2 86.5,364.2 89.5,359.3 92.0,356.0 94.5,353.6 96.5,352.4 98.5,351.5 101.0,350.7 104.2,350.0 113.5,348.7 124.5,348.1 144.5,348.0 152.0,348.3 154.8,348.8 157.0,349.6 158.9,350.8 160.4,352.2 161.6,354.5 162.1,357.2 162.0,360.2 161.2,363.5 159.8,366.7 157.8,369.7 155.2,372.5 152.2,375.1 148.0,377.9 141.0,381.7 130.8,386.9 122.5,390.8 115.2,393.8 109.0,396.0 103.5,397.6 98.8,398.5 M98.0,397.5 94.5,397.6 91.2,397.2 88.5,396.1 86.2,394.6 84.5,392.6 83.2,390.0 82.2,386.8 81.7,383.2 81.8,380.0 82.4,376.5 83.5,372.9 85.1,369.0 87.8,364.1 90.6,359.5 93.0,356.5 95.5,354.3 97.2,353.2 99.5,352.3 105.5,350.9 114.8,349.7 125.0,349.2 145.8,349.0 151.8,349.2 154.2,349.6 156.5,350.4 158.3,351.5 159.7,353.0 160.8,355.2 161.2,357.8 161.0,360.8 160.1,363.8 158.6,366.8 156.7,369.5 154.2,372.1 151.2,374.5 147.0,377.2 139.0,381.6 129.0,386.6 121.0,390.2 113.8,393.2 107.9,395.2 102.5,396.7 98.0,397.5 M97.0,396.5 93.8,396.5 91.0,396.0 88.5,394.9 86.6,393.5 85.0,391.5 83.8,389.0 82.9,385.8 82.6,382.5 82.7,379.5 83.4,376.2 84.5,372.8 86.1,369.2 88.8,364.5 91.7,360.0 94.0,357.1 96.2,355.2 98.0,354.1 100.0,353.3 105.8,352.0 114.8,350.8 124.8,350.2 146.2,349.9 151.2,350.1 154.0,350.6 156.0,351.3 157.8,352.4 158.9,353.8 159.9,355.8 160.2,358.2 160.0,361.0 159.0,364.0 157.5,366.7 155.5,369.3 153.1,371.8 150.2,373.9 145.8,376.7 136.5,381.6 127.2,386.1 119.2,389.7 112.2,392.5 106.5,394.5 101.2,395.9 97.0,396.5 M98.0,395.3 94.8,395.4 92.0,395.1 89.5,394.2 87.5,392.9 85.9,391.0 84.7,388.5 83.8,385.5 83.5,382.2 83.6,379.5 84.2,376.5 85.3,373.2 86.8,370.0 89.5,365.3 92.5,360.8 94.8,358.0 97.0,356.1 98.8,355.1 100.5,354.4 106.0,353.1 114.5,352.0 124.0,351.4 146.5,350.9 150.8,351.1 153.2,351.4 155.2,352.1 156.8,353.0 158.0,354.3 158.9,356.2 159.2,358.5 159.0,361.0 158.0,363.8 156.6,366.2 154.8,368.6 152.5,370.8 149.8,372.9 145.5,375.5 136.2,380.4 127.2,384.8 119.8,388.2 113.2,390.9 107.5,393.0 102.2,394.5 98.0,395.3 M96.8,394.3 94.0,394.3 91.5,393.8 89.5,392.9 87.8,391.5 86.3,389.5 85.2,387.0 84.6,384.2 84.4,381.2 84.7,378.5 85.4,375.8 86.5,372.8 88.1,369.8 90.8,365.2 93.8,361.0 96.0,358.5 98.0,356.9 99.5,356.1 101.5,355.4 107.0,354.1 115.2,353.1 124.2,352.5 136.0,352.4 147.0,351.9 150.5,352.0 152.8,352.4 154.8,353.1 156.2,354.0 157.2,355.2 158.0,357.0 158.2,359.2 157.8,361.5 156.9,363.8 155.6,366.0 153.7,368.2 151.5,370.3 148.8,372.3 144.2,374.8 131.5,381.4 124.8,384.7 117.8,387.8 111.2,390.4 105.5,392.3 100.5,393.7 96.8,394.3 M97.2,393.0 94.5,393.1 92.2,392.8 90.2,392.0 88.5,390.6 87.1,388.8 86.1,386.5 85.5,383.8 85.3,381.0 85.6,378.5 86.4,375.8 87.5,373.0 89.0,370.2 91.8,365.9 94.7,361.8 96.8,359.5 98.8,358.0 102.0,356.5 107.2,355.3 115.0,354.3 123.2,353.7 135.5,353.6 146.0,353.0 149.8,353.0 152.0,353.3 153.8,353.8 155.2,354.8 156.2,355.9 156.9,357.5 157.0,359.5 156.7,361.5 155.8,363.8 154.5,365.8 152.8,367.7 150.8,369.5 148.2,371.2 144.2,373.5 129.8,380.9 117.8,386.4 111.5,389.0 106.0,390.9 101.0,392.3 97.2,393.0 M97.5,391.8 95.0,391.9 92.8,391.7 90.8,390.9 89.2,389.7 88.0,388.0 87.0,385.7 86.5,383.2 86.4,380.5 86.7,378.2 87.4,375.8 88.5,373.2 90.0,370.5 92.8,366.4 95.7,362.5 97.6,360.5 99.5,359.0 102.8,357.6 107.5,356.5 115.0,355.4 122.5,354.9 135.5,354.8 145.8,354.1 149.2,354.1 151.2,354.3 153.0,354.8 154.2,355.6 155.2,356.8 155.8,358.2 155.8,360.0 155.4,361.8 154.5,363.8 153.3,365.5 151.7,367.2 149.8,368.8 147.5,370.3 127.2,380.7 117.0,385.4 111.2,387.7 106.0,389.6 101.0,391.1 97.5,391.8 M97.8,390.5 95.2,390.7 93.2,390.5 91.5,389.8 90.0,388.6 88.8,386.9 87.9,384.8 87.5,382.5 87.4,380.0 87.8,377.8 88.6,375.5 89.7,373.0 91.2,370.5 94.0,366.6 96.6,363.2 98.5,361.4 100.4,360.0 103.5,358.7 108.0,357.6 114.8,356.6 121.5,356.1 135.5,356.0 145.5,355.2 148.5,355.2 150.5,355.4 152.0,355.8 153.1,356.5 154.0,357.5 154.4,358.8 154.5,360.2 154.1,361.8 153.3,363.5 152.2,365.0 150.8,366.6 147.0,369.3 125.5,380.1 116.8,384.1 106.2,388.2 101.2,389.7 97.8,390.5 M97.5,389.3 95.2,389.4 93.5,389.1 92.0,388.5 90.8,387.4 89.7,386.0 88.9,384.0 88.5,381.8 88.6,379.5 89.0,377.5 89.8,375.2 91.0,373.0 92.5,370.5 97.5,364.1 99.4,362.2 101.2,361.0 104.2,359.7 108.8,358.7 114.8,357.8 120.8,357.3 135.5,357.3 145.2,356.4 148.0,356.4 149.8,356.6 151.0,357.0 152.0,357.6 152.7,358.5 153.0,359.5 153.0,360.8 152.6,362.0 151.8,363.5 149.5,366.0 146.2,368.2 136.8,372.8 123.5,379.6 115.5,383.3 105.2,387.2 100.8,388.6 97.5,389.3 M97.0,388.0 95.2,388.0 93.8,387.6 92.5,387.0 91.3,385.8 90.4,384.2 89.9,382.5 89.7,380.5 90.0,378.5 90.5,376.5 91.4,374.5 94.5,369.6 98.8,364.5 100.5,363.0 102.2,361.9 105.0,360.8 109.2,359.8 114.8,358.9 120.0,358.5 124.8,358.4 135.5,358.7 147.0,357.8 149.5,358.3 150.3,358.8 150.9,359.5 151.1,360.2 151.1,361.2 150.8,362.3 150.0,363.5 148.0,365.5 145.2,367.2 136.2,371.5 122.0,378.9 114.5,382.4 109.0,384.6 104.0,386.4 100.0,387.5 97.0,388.0 M98.2,386.5 96.2,386.6 94.8,386.3 93.5,385.7 92.5,384.8 91.7,383.5 91.2,381.8 91.1,380.0 91.3,378.2 91.9,376.2 92.8,374.2 95.8,369.8 99.7,365.2 101.2,363.9 103.0,362.8 105.8,361.8 109.8,360.8 114.8,360.1 119.5,359.7 124.8,359.7 135.5,360.3 145.5,359.6 147.2,359.9 147.9,360.2 148.4,360.8 148.5,361.8 147.9,363.0 146.8,364.2 145.4,365.2 135.8,370.0 122.2,377.4 115.5,380.6 109.0,383.3 102.5,385.5 98.2,386.5 M99.2,385.0 97.5,385.1 96.2,385.0 95.0,384.5 94.0,383.8 93.2,382.7 92.7,381.2 92.6,379.8 92.8,378.0 93.3,376.2 94.2,374.2 97.0,370.0 100.5,366.0 102.0,364.8 103.5,363.9 106.2,362.8 110.2,361.9 115.0,361.2 119.8,360.9 126.0,361.1 134.8,362.2 141.0,362.5 142.3,363.0 142.4,363.5 142.0,364.0 140.3,365.2 127.1,373.2 119.8,377.3 114.0,380.0 108.5,382.3 103.2,384.1 99.2,385.0 M100.0,383.5 97.2,383.4 96.1,383.0 95.2,382.3 94.7,381.5 94.3,380.2 94.2,379.0 94.4,377.5 95.6,374.2 98.0,370.5 101.0,367.1 103.8,365.0 106.8,363.8 110.8,362.9 115.5,362.2 120.0,362.0 124.5,362.3 128.8,363.1 132.0,364.1 133.0,364.7 133.4,365.2 133.5,366.0 133.1,366.8 130.8,369.0 126.1,372.2 120.6,375.5 114.8,378.5 109.2,380.8 104.0,382.6 100.0,383.5 M101.0,382.0 98.5,381.9 97.5,381.5 96.8,381.0 96.3,380.2 96.0,379.2 96.0,377.0 97.1,374.0 99.2,370.8 101.8,367.8 104.2,366.0 106.8,364.9 110.0,364.1 114.2,363.4 118.2,363.2 122.0,363.4 125.2,364.0 127.8,365.0 128.8,366.0 129.0,366.8 128.8,367.5 127.5,369.2 124.4,371.8 120.0,374.5 114.8,377.3 109.5,379.6 104.8,381.2 101.0,382.0 M102.2,380.5 100.2,380.5 98.6,379.8 97.8,378.5 97.8,376.5 98.6,374.0 100.2,371.2 102.2,368.8 104.5,367.1 106.8,366.0 109.4,365.2 112.8,364.7 116.2,364.4 119.2,364.5 122.1,365.0 124.1,365.8 125.2,366.8 125.4,367.2 125.4,368.0 124.2,369.8 122.0,371.8 118.6,374.0 114.2,376.4 109.8,378.4 105.5,379.9 102.2,380.5 M104.8,378.8 102.5,379.0 101.0,378.7 99.9,377.8 99.6,376.2 100.0,374.2 101.1,372.0 102.8,369.9 104.8,368.2 106.5,367.2 108.8,366.5 111.5,365.9 114.2,365.7 117.0,365.7 119.2,366.1 121.0,366.7 121.9,367.5 122.1,368.0 122.1,368.8 121.4,370.0 119.9,371.5 117.5,373.2 114.5,375.0 110.9,376.8 107.7,378.0 104.8,378.8 M105.5,377.3 103.8,377.3 102.6,377.0 101.9,376.2 101.6,375.2 101.9,373.8 102.7,372.0 104.0,370.4 105.5,369.1 107.0,368.3 108.5,367.8 112.8,367.0 114.8,367.1 116.5,367.3 117.8,367.8 118.6,368.5 118.8,369.5 118.3,370.5 117.1,371.8 115.1,373.2 112.5,374.8 110.0,375.9 107.7,376.8 105.5,377.3 M107.8,375.3 106.2,375.5 105.2,375.4 104.5,375.0 104.1,374.5 104.0,373.5 104.4,372.5 105.0,371.5 106.0,370.5 108.2,369.3 110.8,368.7 113.3,368.8 114.2,369.0 114.9,369.5 115.1,370.0 115.0,370.8 114.5,371.5 113.4,372.5 110.5,374.2 107.8,375.3" fill="none" stroke="#1e1e1e" stroke-width="0.42"/>
<ellipse cx="124" cy="366" rx="22" ry="2.5" transform="rotate(-15 124 366)" fill="#fff" fill-opacity="0.35" filter="url(#bl)"/>
<ellipse cx="108.5" cy="370.5" rx="4" ry="2.2" transform="rotate(-25 108.5 370.5)" fill="#fff" fill-opacity="0.85" filter="url(#bl)"/>
<ellipse cx="151" cy="361" rx="3" ry="2" transform="rotate(-20 151 361)" fill="#fff" fill-opacity="0.45" filter="url(#bl)"/>
<line x1="47.50" y1="289.40" x2="47.50" y2="419.00" stroke="#111" stroke-width="1.1"/>
<line x1="47.50" y1="419.00" x2="177.60" y2="419.00" stroke="#111" stroke-width="1.1"/>
<line x1="177.60" y1="289.40" x2="177.60" y2="419.00" stroke="#333" stroke-width="1.0"/>
<line x1="47.50" y1="289.40" x2="177.60" y2="289.40" stroke="#333" stroke-width="1.0"/>
<rect x="58.50" y="289.60" width="109.20" height="51.40" fill="none" stroke="#111" stroke-width="1.2"/>
<text x="61.40" y="299.20" font-size="8.8" fill="#666" text-anchor="start" textLength="20.3" lengthAdjust="spacingAndGlyphs" >11.9%</text>
<path d="M256.8,343.0 251.8,343.2 246.8,343.0 242.2,342.5 238.0,341.5 234.5,340.2 231.2,338.6 228.8,336.7 226.8,334.5 225.4,332.0 224.8,329.2 224.8,326.5 225.6,323.5 227.1,320.5 229.1,317.5 231.9,314.5 235.0,311.8 238.8,309.0 243.0,306.5 247.8,304.1 252.8,302.0 258.0,300.3 263.2,298.9 268.5,297.8 273.8,297.1 278.8,296.8 283.8,296.9 288.5,297.3 292.8,298.2 296.8,299.4 300.0,301.0 302.8,302.9 304.9,305.0 306.4,307.5 307.2,310.2 307.2,313.0 306.6,316.0 305.2,319.0 303.1,322.2 300.4,325.2 297.0,328.2 293.0,331.1 288.5,333.8 283.8,336.1 278.8,338.1 273.2,340.0 267.8,341.4 262.2,342.4 256.8,343.0 M256.5,340.5 251.8,340.6 247.2,340.3 243.2,339.6 239.5,338.6 236.5,337.2 233.7,335.5 231.7,333.5 230.2,331.2 229.5,328.8 229.4,326.2 230.0,323.5 231.2,320.8 233.1,318.0 235.6,315.2 238.7,312.5 242.2,310.0 246.2,307.7 250.5,305.6 255.0,303.8 259.7,302.2 264.5,301.0 269.2,300.1 274.0,299.6 278.8,299.4 283.0,299.6 287.0,300.0 290.5,300.8 293.8,301.9 296.2,303.1 298.2,304.5 299.7,305.8 300.9,307.2 302.8,308.5 303.8,309.8 304.6,311.2 304.8,313.0 304.5,314.8 303.7,316.2 302.7,317.5 301.0,318.8 299.1,321.8 296.4,324.8 293.3,327.5 289.8,330.0 286.2,332.1 282.4,334.0 278.2,335.8 274.0,337.2 269.8,338.4 265.2,339.4 260.8,340.1 256.5,340.5 M263.8,338.0 261.8,338.2 258.8,337.8 253.2,338.0 248.0,337.5 242.8,336.2 240.5,335.2 238.4,334.0 236.8,332.6 235.4,331.0 234.5,329.2 234.1,327.5 234.0,325.5 234.4,323.5 235.2,321.5 236.5,319.2 239.0,316.2 242.1,313.5 245.8,310.9 250.0,308.6 254.6,306.5 259.5,304.8 264.5,303.5 269.8,302.5 274.2,302.1 278.5,302.0 282.5,302.3 286.2,303.0 289.0,303.8 291.5,304.8 293.6,306.0 295.5,307.6 298.0,307.8 300.0,308.3 301.5,309.2 302.5,310.2 303.3,311.8 303.4,313.2 303.0,314.8 302.3,316.0 301.2,317.0 300.0,317.8 298.5,318.3 296.7,318.8 295.3,321.0 293.4,323.2 291.1,325.5 288.5,327.5 283.8,330.5 278.6,333.0 274.2,334.7 268.0,336.4 265.8,337.5 263.8,338.0 M263.2,336.8 261.8,336.8 260.2,336.7 258.8,336.2 257.0,335.4 252.8,335.2 249.0,334.7 245.8,333.7 242.8,332.2 239.7,329.8 238.7,328.5 238.1,327.2 237.7,325.8 237.8,324.2 238.1,322.8 238.9,321.2 240.0,319.8 244.6,315.2 247.5,313.0 250.8,311.0 254.8,309.1 259.0,307.5 263.5,306.1 268.0,305.2 271.8,304.8 275.2,304.6 278.8,304.7 282.0,305.1 285.4,306.0 288.3,307.2 290.5,308.8 292.2,310.7 294.8,309.5 296.0,309.2 297.5,309.1 299.8,309.8 300.8,310.4 301.5,311.2 301.9,312.2 302.0,313.5 301.5,314.8 300.8,315.6 299.2,316.6 297.2,317.1 295.2,317.1 293.2,316.6 291.9,319.5 290.2,322.0 287.5,324.7 284.2,327.1 281.2,329.0 278.2,330.5 273.5,332.4 268.8,333.8 266.0,335.8 264.8,336.4 263.2,336.8 M262.5,335.5 261.2,335.4 259.8,334.8 256.8,332.8 253.0,332.4 248.5,331.1 245.5,330.8 242.7,329.8 240.9,328.2 239.9,326.2 239.7,325.2 239.8,324.0 240.5,322.0 241.5,320.8 242.6,319.8 244.2,318.8 246.4,317.8 249.2,315.2 252.8,312.9 258.2,310.3 264.2,308.4 268.0,307.6 271.2,307.2 273.8,307.2 277.5,307.4 280.5,307.9 283.0,308.7 285.1,309.8 286.7,311.0 287.8,312.2 288.4,313.5 288.7,315.0 288.7,316.5 288.3,318.0 287.6,319.5 286.4,321.2 285.1,322.8 282.5,325.0 279.0,327.2 273.8,329.7 268.0,331.5 266.6,333.2 265.2,334.5 263.9,335.2 262.5,335.5 M298.5,315.3 296.5,315.3 295.5,315.0 294.8,314.5 294.4,314.0 294.2,313.2 294.4,312.5 294.9,311.8 296.1,311.0 297.5,310.7 299.0,311.0 300.0,311.6 300.6,312.5 300.5,313.8 299.8,314.7 298.5,315.3 M263.0,334.0 262.5,334.1 261.5,333.5 260.2,332.2 258.8,330.2 255.0,329.7 251.8,328.7 249.2,329.1 247.5,329.2 245.5,328.9 244.0,328.3 242.6,327.2 241.9,326.0 241.7,324.5 242.1,323.0 243.2,321.6 244.8,320.6 246.8,319.7 249.8,319.0 252.5,316.3 256.0,314.0 263.2,310.6 267.0,309.3 271.5,308.6 273.8,308.7 275.8,309.0 278.8,310.1 282.4,312.8 283.3,313.8 283.8,314.8 284.1,315.8 284.1,317.0 283.4,319.2 281.6,321.8 278.8,324.2 275.0,326.5 270.8,328.3 265.5,329.8 263.8,333.0 263.0,334.0 M298.8,313.5 298.0,313.4 297.8,313.0 297.8,312.8 298.5,312.5 299.0,312.6 299.2,313.0 298.8,313.5 M263.0,327.5 259.8,327.5 256.8,327.0 254.5,326.0 253.6,325.2 253.0,324.4 251.7,325.5 249.5,326.5 247.8,326.9 246.0,326.9 245.0,326.6 244.2,326.0 243.7,325.2 243.7,324.5 244.0,323.7 244.7,323.0 246.8,322.1 249.8,321.9 252.5,322.4 252.8,321.2 253.4,320.0 255.5,317.6 261.2,313.2 263.5,312.0 265.8,311.1 269.5,310.2 273.0,310.2 274.8,310.5 276.2,311.0 277.5,311.7 278.5,312.5 279.6,314.2 279.8,315.2 279.8,316.5 278.9,319.5 277.2,321.8 274.5,323.8 271.0,325.6 267.0,326.9 263.0,327.5 M265.2,324.8 262.8,325.0 260.5,324.7 258.6,324.0 257.5,323.0 257.2,322.0 257.3,320.8 258.7,318.0 260.0,316.3 261.8,314.8 263.8,313.5 266.0,312.5 268.5,311.8 270.8,311.5 272.8,311.7 274.5,312.2 276.1,313.2 277.2,314.8 277.4,316.5 276.9,318.2 275.7,320.0 274.0,321.5 271.5,322.9 269.0,323.9 265.2,324.8 M266.2,323.0 264.5,323.1 262.8,322.8 261.5,322.2 260.7,321.5 260.3,320.5 260.4,319.5 260.9,318.2 261.8,317.0 263.1,315.8 264.8,314.7 266.5,313.8 268.2,313.2 270.0,313.0 271.5,313.1 272.8,313.5 273.9,314.2 274.8,315.5 275.0,316.8 274.5,318.2 273.7,319.5 272.3,320.8 270.5,321.8 268.5,322.5 266.2,323.0" fill="none" stroke="#3a3a3a" stroke-width="0.55"/>
<linearGradient id="g_c2" x1="0.0" y1="0" x2="1.0" y2="0"><stop offset="0" stop-color="#9a9a9a"/><stop offset="0.45" stop-color="#a8a8a8"/><stop offset="1" stop-color="#cccccc"/></linearGradient>
<path d="M234.3,347.6 236.2,346.9 238.2,346.4 240.3,345.8 242.6,345.3 245.0,344.9 247.7,344.4 250.4,344.1 253.3,343.7 256.4,343.4 259.4,343.1 262.5,342.8 265.6,342.6 268.6,342.4 271.7,342.2 274.7,342.1 277.8,342.0 280.8,341.8 283.7,341.8 286.3,341.8 288.8,341.8 291.0,341.8 293.0,341.9 294.9,342.1 296.5,342.2 297.9,342.5 299.2,342.7 300.5,343.1 301.7,343.5 302.7,344.1 303.7,344.6 304.6,345.3 305.4,346.0 306.1,346.9 306.7,347.8 307.3,348.8 307.8,349.9 308.1,351.1 308.5,352.4 308.7,353.9 308.8,355.4 308.9,357.0 308.9,358.6 308.8,360.3 308.8,361.9 308.6,363.5 308.4,365.2 308.1,366.8 307.8,368.4 307.5,370.1 306.9,371.7 306.2,373.2 305.3,374.7 304.2,376.1 302.9,377.5 301.4,378.8 299.8,380.0 297.9,381.3 296.0,382.4 294.0,383.6 292.0,384.8 289.8,385.9 287.6,387.0 285.3,388.0 283.0,389.1 280.5,390.1 278.1,391.1 275.6,392.2 273.1,393.2 270.5,394.2 267.9,395.2 265.3,396.3 262.7,397.3 260.1,398.3 257.5,399.3 255.1,400.2 252.7,401.0 250.5,401.8 248.3,402.5 246.3,403.1 244.4,403.6 242.5,404.1 240.7,404.5 239.0,404.8 237.3,405.0 235.7,405.1 234.1,405.1 232.6,405.0 231.1,404.9 229.7,404.6 228.3,404.2 227.0,403.7 225.8,403.1 224.6,402.4 223.5,401.7 222.5,400.8 221.5,399.9 220.5,398.9 219.7,397.8 219.0,396.5 218.3,395.2 217.7,393.8 217.3,392.3 216.9,390.6 216.6,388.9 216.4,387.1 216.3,385.2 216.3,383.4 216.3,381.4 216.5,379.5 216.7,377.5 217.1,375.5 217.5,373.5 218.0,371.5 218.6,369.5 219.2,367.5 219.9,365.5 220.7,363.6 221.5,361.6 222.4,359.8 223.3,357.9 224.4,356.1 225.5,354.4 226.7,352.9 228.0,351.5 229.4,350.3 231.0,349.2 232.6,348.3Z" fill="url(#g_c2)" stroke="#222" stroke-width="1.0"/>
<ellipse cx="243" cy="372" rx="30" ry="15" transform="rotate(-18 243 372)" fill="#333" fill-opacity="0.7" filter="url(#bl2)"/>
<ellipse cx="226" cy="388" rx="6" ry="10" transform="rotate(0 226 388)" fill="#333" fill-opacity="0.4" filter="url(#bl2)"/>
<ellipse cx="262" cy="358" rx="26" ry="9" transform="rotate(-15 262 358)" fill="#333" fill-opacity="0.35" filter="url(#bl2)"/>
<path d="M237.2,406.3 232.5,406.3 229.0,405.6 225.5,404.3 222.5,402.4 219.7,399.8 217.8,397.0 216.3,393.5 215.2,389.0 215.0,385.5 215.0,379.2 215.8,374.5 217.5,368.5 220.1,361.8 223.0,356.0 225.2,352.8 228.2,349.8 230.5,348.1 234.0,346.4 237.8,345.2 242.2,344.2 253.0,342.5 272.2,341.0 278.2,340.7 291.8,340.7 297.0,341.1 300.0,341.7 302.8,342.7 305.0,344.0 306.9,345.8 309.0,349.0 310.2,352.5 310.5,355.5 310.1,361.5 309.1,368.2 308.0,372.2 306.0,375.8 303.0,379.0 298.5,382.4 291.2,386.6 285.0,389.5 278.0,392.5 262.0,398.9 251.0,402.9 243.2,405.3 237.2,406.3 M238.0,405.5 233.2,405.6 230.0,405.2 226.5,404.0 223.2,402.2 220.5,399.6 218.5,396.9 217.0,393.5 215.9,389.2 215.6,386.0 215.7,379.5 216.4,375.0 217.9,369.2 220.6,362.2 223.3,356.8 225.5,353.5 228.5,350.4 231.0,348.6 234.2,347.0 237.8,345.9 242.2,344.8 253.2,343.1 272.2,341.6 278.5,341.3 291.5,341.3 296.8,341.7 299.8,342.3 302.2,343.2 304.8,344.7 306.4,346.2 308.5,349.5 309.6,352.8 309.9,355.8 309.5,361.2 308.5,368.0 307.4,372.0 305.3,375.5 302.5,378.6 299.0,381.2 293.8,384.4 288.2,387.3 280.8,390.6 267.0,396.2 254.8,400.9 244.0,404.4 238.0,405.5 M237.5,405.0 233.2,405.1 229.8,404.5 226.2,403.3 223.2,401.4 220.7,399.0 218.8,396.2 217.4,392.8 216.4,388.5 216.1,384.8 216.2,379.5 216.9,375.0 218.6,369.0 221.2,362.2 224.0,356.8 226.2,353.5 229.0,350.7 231.4,349.0 234.8,347.4 238.5,346.3 243.2,345.2 253.5,343.7 272.5,342.2 278.5,341.9 291.2,341.9 296.8,342.3 299.8,342.9 302.2,343.8 304.5,345.2 306.1,346.8 308.0,349.8 309.1,353.0 309.3,356.0 308.9,361.2 307.9,368.0 306.8,371.8 304.8,375.2 302.0,378.3 297.8,381.4 290.5,385.5 284.5,388.4 277.5,391.4 261.8,397.7 250.8,401.7 243.0,404.0 237.5,405.0 M237.8,404.5 233.5,404.6 230.0,404.1 226.5,402.9 223.5,401.0 221.1,398.8 219.2,396.0 217.8,392.4 216.8,388.2 216.5,384.2 216.6,379.5 217.4,375.0 219.0,369.2 221.6,362.5 224.3,357.2 226.4,354.0 229.2,351.1 231.5,349.5 235.0,347.9 238.8,346.7 243.5,345.7 253.5,344.2 272.5,342.6 278.8,342.3 291.2,342.3 296.5,342.7 299.2,343.2 301.8,344.1 304.0,345.4 305.7,347.0 307.7,350.0 308.6,353.0 308.9,356.0 308.5,361.0 307.5,367.8 306.4,371.5 304.5,374.9 301.8,377.8 297.5,380.9 290.2,385.1 284.2,388.0 277.5,390.9 266.5,395.3 254.2,400.0 243.8,403.3 237.8,404.5 M237.8,404.0 233.5,404.2 230.0,403.6 226.8,402.5 223.8,400.6 221.3,398.2 219.5,395.5 218.1,392.0 217.2,388.0 217.0,383.5 217.1,379.5 217.8,375.2 219.4,369.5 222.0,362.8 224.7,357.5 226.8,354.4 229.5,351.5 232.0,349.8 235.2,348.3 239.0,347.1 243.8,346.1 253.8,344.6 272.8,343.1 278.8,342.8 291.0,342.8 296.2,343.2 299.2,343.7 301.8,344.6 304.0,346.0 305.5,347.4 307.3,350.2 308.2,353.2 308.5,356.0 308.1,360.8 307.0,367.8 306.0,371.2 304.2,374.5 302.8,376.2 301.4,377.5 298.0,380.0 292.8,383.2 287.5,386.0 280.2,389.2 266.6,394.8 254.2,399.4 243.5,402.9 237.8,404.0 M237.2,403.0 233.5,403.0 230.0,402.4 227.0,401.3 224.2,399.5 222.0,397.2 220.4,394.8 219.2,391.8 218.5,389.2 218.3,389.0 218.2,387.9 218.0,387.2 217.9,386.8 218.1,386.5 217.7,381.8 218.0,378.5 219.0,373.7 220.5,369.2 222.9,363.2 225.4,358.2 227.8,354.9 230.5,352.2 233.0,350.5 235.8,349.2 239.2,348.1 243.5,347.1 254.8,345.5 271.2,344.1 283.2,343.7 290.5,343.8 294.8,344.0 298.0,344.6 300.8,345.6 303.1,347.0 305.0,348.9 305.1,348.8 304.0,347.8 304.2,347.3 304.9,348.0 306.6,350.8 307.5,353.8 307.7,356.5 307.2,361.0 305.9,367.8 304.7,371.2 303.8,373.0 302.5,374.7 299.5,377.7 295.0,380.8 288.5,384.4 282.2,387.3 272.0,391.6 258.8,396.8 249.5,400.1 242.5,402.1 237.2,403.0 M303.5,346.8 303.2,346.9 303.1,346.8 303.2,346.5 303.5,346.8 M237.8,402.0 234.0,402.1 230.5,401.6 227.5,400.5 224.8,398.8 222.7,396.5 221.0,393.8 219.7,390.5 219.0,386.8 218.7,382.5 219.0,378.5 219.8,374.2 221.4,369.2 223.8,363.5 226.2,358.7 228.5,355.5 231.2,352.8 233.8,351.2 236.8,349.9 240.5,348.7 245.5,347.7 251.5,346.8 258.2,346.0 275.8,344.8 289.2,344.7 296.0,345.1 298.5,345.7 300.8,346.6 302.8,347.9 304.4,349.5 306.0,352.2 306.4,353.8 306.7,355.5 306.5,359.2 305.3,366.2 304.3,369.8 303.0,372.5 301.0,375.0 298.5,377.2 294.0,380.3 287.8,383.7 281.8,386.5 272.0,390.6 259.2,395.6 250.2,398.8 243.0,401.0 237.8,402.0 M238.0,401.0 234.2,401.2 231.0,400.7 228.0,399.6 225.5,398.0 223.3,395.8 221.8,393.1 220.5,389.8 219.8,386.0 219.6,382.0 219.9,378.0 220.9,373.8 222.3,369.2 224.8,363.6 227.2,359.0 229.5,355.8 232.0,353.5 234.5,351.9 237.5,350.6 241.2,349.6 246.0,348.6 251.8,347.7 258.5,347.0 275.8,345.8 289.0,345.6 295.8,346.1 298.2,346.6 300.5,347.5 302.2,348.7 303.8,350.2 304.6,351.5 305.3,353.0 305.8,356.0 305.5,359.5 304.3,366.2 303.3,369.5 302.1,372.0 300.2,374.4 297.8,376.6 293.5,379.5 287.5,382.8 281.5,385.6 272.0,389.5 259.4,394.5 250.5,397.7 243.2,400.0 238.0,401.0 M237.8,400.0 234.2,400.1 231.2,399.7 228.2,398.6 225.9,397.0 224.0,394.9 222.5,392.2 221.3,389.0 220.6,385.2 220.5,381.5 220.8,377.8 221.8,373.8 223.2,369.5 225.6,364.0 228.0,359.5 230.2,356.5 232.7,354.2 235.1,352.8 238.0,351.5 241.8,350.5 246.5,349.5 252.2,348.7 258.8,347.9 275.5,346.8 288.5,346.6 295.2,347.0 297.8,347.5 300.0,348.4 301.8,349.6 303.1,351.0 304.5,353.5 304.9,356.5 304.6,359.8 303.2,366.5 302.2,369.5 301.0,371.8 299.2,374.0 296.8,376.1 292.2,379.0 286.3,382.2 280.2,385.0 270.2,389.2 258.0,394.0 249.5,397.0 242.8,399.1 237.8,400.0 M237.2,399.0 234.0,399.1 231.0,398.5 228.2,397.3 226.1,395.8 224.5,393.8 223.1,391.0 222.1,387.8 221.5,384.0 221.4,380.5 221.9,377.0 222.9,373.2 224.4,369.0 226.8,363.8 229.1,359.8 231.2,357.0 233.5,355.0 235.9,353.5 238.8,352.4 242.5,351.4 247.5,350.4 259.8,348.9 276.2,347.8 289.0,347.6 295.2,348.0 297.5,348.5 299.5,349.3 301.2,350.5 302.5,351.8 303.7,354.2 304.0,357.0 303.5,360.2 302.1,366.8 301.2,369.2 299.9,371.5 298.2,373.5 295.8,375.5 291.0,378.6 285.2,381.6 279.0,384.4 268.0,388.9 256.2,393.5 248.2,396.3 242.0,398.2 237.2,399.0 M238.2,397.8 235.0,398.0 232.0,397.6 229.5,396.7 227.2,395.2 225.5,393.2 224.1,390.8 223.1,387.5 222.5,384.0 222.4,380.5 222.8,377.2 223.7,373.8 225.1,369.8 227.5,364.7 229.9,360.5 232.0,357.8 234.2,355.8 236.5,354.4 239.2,353.4 243.0,352.4 247.8,351.4 259.2,350.0 275.0,349.0 288.0,348.6 294.5,348.9 296.8,349.3 298.8,350.1 300.5,351.2 301.7,352.5 302.7,354.8 303.0,357.5 302.5,360.5 300.9,366.8 299.9,369.2 298.7,371.2 297.0,373.1 294.8,374.9 290.2,377.7 285.0,380.5 279.2,383.1 269.2,387.2 258.0,391.7 250.0,394.6 243.0,396.8 238.2,397.8 M237.0,396.8 234.0,396.8 231.5,396.3 229.2,395.2 227.2,393.6 225.8,391.5 224.6,389.0 223.8,385.8 223.4,382.2 223.4,379.2 224.0,376.0 225.0,372.8 226.5,369.0 228.9,364.2 231.0,360.8 233.0,358.3 235.2,356.5 237.5,355.2 240.2,354.2 244.0,353.3 249.0,352.4 260.2,351.0 276.0,350.0 288.5,349.7 294.2,349.9 296.5,350.3 298.2,351.0 299.8,352.0 300.9,353.2 301.8,355.2 301.9,357.8 301.4,360.8 299.7,366.8 298.7,369.0 297.5,370.8 295.8,372.6 293.5,374.4 288.8,377.3 283.2,380.1 265.2,387.6 254.5,391.8 247.0,394.4 241.2,396.0 237.0,396.8 M237.5,395.5 234.5,395.6 232.0,395.1 230.0,394.2 228.1,392.8 226.7,390.8 225.6,388.2 224.7,385.0 224.4,381.8 224.5,378.8 225.0,375.8 226.1,372.5 227.5,369.1 229.8,364.8 232.0,361.3 234.0,359.0 236.0,357.4 238.2,356.2 241.2,355.1 245.2,354.2 250.0,353.3 260.8,352.1 277.5,351.1 289.0,350.7 294.0,350.9 296.0,351.3 297.8,352.0 299.0,352.8 300.0,354.0 300.8,356.0 300.8,358.2 300.2,361.2 298.6,366.5 297.5,368.7 296.2,370.4 294.5,372.1 292.3,373.8 287.7,376.5 282.5,379.1 265.0,386.4 254.8,390.4 247.5,393.0 241.8,394.7 237.5,395.5 M237.8,394.3 235.0,394.4 232.8,394.0 230.8,393.2 229.0,391.8 227.7,390.0 226.6,387.5 225.8,384.3 225.4,381.2 225.5,378.5 226.0,375.8 227.0,372.8 228.4,369.5 230.6,365.5 232.8,362.2 234.8,359.9 236.8,358.3 239.0,357.1 242.0,356.1 246.0,355.2 250.8,354.4 260.5,353.3 279.5,352.1 289.2,351.7 293.8,351.9 295.5,352.3 297.0,352.9 298.2,353.7 299.0,354.6 299.7,356.5 299.7,358.8 298.9,361.8 297.4,366.2 296.3,368.2 295.0,369.9 293.3,371.5 291.2,373.0 286.8,375.6 281.8,378.1 264.5,385.3 254.5,389.2 247.5,391.7 241.8,393.4 237.8,394.3 M237.2,393.0 234.8,393.0 232.8,392.6 231.0,391.8 229.6,390.5 228.3,388.5 227.4,386.0 226.7,383.0 226.5,380.2 226.7,377.8 227.3,375.0 228.2,372.2 229.6,369.2 231.8,365.6 233.8,362.7 235.5,360.8 237.5,359.2 239.8,358.1 242.5,357.2 246.5,356.3 251.2,355.5 259.2,354.6 281.2,353.1 289.0,352.7 293.0,352.9 294.8,353.2 296.0,353.7 297.0,354.3 297.9,355.2 298.5,357.0 298.5,359.0 297.7,362.0 296.2,365.8 295.1,367.8 293.9,369.2 292.1,370.8 289.8,372.4 285.2,374.9 280.2,377.4 261.0,385.3 252.2,388.7 245.8,390.9 240.8,392.4 237.2,393.0 M238.5,391.5 236.0,391.7 234.0,391.5 232.2,390.8 230.8,389.6 229.5,387.9 228.5,385.5 227.8,382.8 227.6,380.0 227.7,377.5 228.3,375.0 229.3,372.2 230.6,369.5 232.6,366.2 234.5,363.5 236.2,361.7 238.2,360.2 240.5,359.1 243.2,358.2 251.5,356.6 257.5,356.0 283.5,354.0 289.2,353.7 292.8,353.9 295.2,354.7 296.1,355.2 296.8,356.1 297.3,357.5 297.2,359.5 296.4,362.2 295.1,365.2 294.0,367.0 292.7,368.5 291.0,370.0 288.8,371.5 284.5,373.8 280.0,376.0 263.0,383.1 247.8,388.9 242.2,390.7 238.5,391.5 M237.8,390.3 235.8,390.3 234.0,389.9 232.5,389.2 231.2,387.9 230.2,386.2 229.3,383.8 228.8,381.2 228.7,378.8 229.0,376.5 229.6,374.2 230.6,371.8 231.9,369.2 233.8,366.3 235.5,364.1 237.2,362.3 239.0,361.1 241.0,360.1 243.8,359.2 251.2,357.8 257.0,357.2 270.2,356.3 284.2,354.9 289.0,354.7 292.0,354.9 294.2,355.7 295.5,356.9 295.9,358.2 295.8,360.0 295.0,362.5 293.7,365.0 292.7,366.5 291.2,368.0 289.5,369.4 287.0,370.9 282.5,373.3 277.5,375.6 256.2,384.4 244.5,388.6 240.5,389.8 237.8,390.3 M238.8,388.8 236.8,388.9 235.0,388.6 233.6,388.0 232.5,387.0 231.4,385.5 230.5,383.2 230.0,380.8 229.9,378.5 230.1,376.5 230.7,374.2 231.6,372.0 232.9,369.5 234.5,367.0 236.3,364.8 238.0,363.2 239.8,362.0 241.8,361.0 244.0,360.3 251.0,359.0 256.0,358.5 269.0,357.6 284.2,356.0 288.2,355.8 291.0,356.0 293.0,356.7 294.1,357.8 294.4,359.0 294.2,360.8 293.5,362.8 292.3,364.8 291.1,366.2 289.8,367.5 285.8,370.0 277.0,374.3 255.0,383.4 245.0,387.1 241.5,388.2 238.8,388.8 M239.2,387.3 237.5,387.4 236.0,387.2 234.8,386.7 233.5,385.7 232.5,384.2 231.6,382.2 231.2,380.2 231.1,378.0 231.4,376.0 231.9,374.0 232.8,371.8 234.1,369.5 235.7,367.2 237.2,365.4 238.8,364.0 240.5,362.8 242.2,362.0 244.5,361.3 250.5,360.2 255.2,359.7 268.0,359.0 283.8,357.1 287.2,356.9 289.8,357.1 291.5,357.7 292.4,358.8 292.7,359.8 292.5,361.2 291.8,363.0 290.8,364.5 288.2,366.8 284.2,369.2 276.5,372.9 252.8,382.9 244.5,385.9 239.2,387.3 M239.8,385.8 238.0,385.8 236.8,385.7 235.5,385.1 234.4,384.2 233.5,382.9 232.8,381.0 232.4,379.2 232.4,377.2 232.7,375.5 233.3,373.5 235.3,369.5 238.2,365.9 239.8,364.6 241.2,363.7 245.0,362.3 250.2,361.3 254.8,360.9 267.0,360.3 282.8,358.3 285.8,358.2 288.0,358.3 289.5,358.8 290.4,359.8 290.6,360.8 290.5,361.8 289.9,363.0 289.0,364.1 286.8,366.1 282.8,368.4 277.0,371.1 251.2,382.1 244.5,384.6 239.8,385.8 M240.2,384.3 238.8,384.3 237.5,384.1 236.2,383.5 235.4,382.8 234.6,381.5 234.0,380.0 233.7,378.5 233.7,376.8 234.0,375.0 234.6,373.2 236.5,369.7 239.2,366.5 242.0,364.6 245.5,363.3 250.2,362.5 254.5,362.1 266.5,361.7 281.5,359.8 285.8,359.8 287.0,360.2 287.8,361.0 287.9,361.8 287.7,362.5 286.5,364.0 284.2,365.8 280.5,367.8 250.2,381.2 244.2,383.3 240.2,384.3 M241.0,382.8 239.5,382.8 238.2,382.5 237.2,382.0 236.5,381.4 235.8,380.3 235.3,379.0 235.1,376.2 235.3,374.8 235.9,373.0 237.7,369.8 240.0,367.2 242.8,365.4 246.5,364.2 251.8,363.4 266.0,363.2 279.8,361.7 282.0,361.9 282.8,362.1 283.1,362.5 283.2,363.0 283.0,363.5 282.0,364.5 280.2,365.8 277.3,367.2 250.5,379.8 245.0,381.9 241.0,382.8 M242.0,381.3 239.5,381.2 237.9,380.2 236.8,378.5 236.5,376.0 237.1,373.2 238.5,370.5 240.5,368.2 243.0,366.4 244.8,365.7 247.0,365.1 252.8,364.5 270.2,365.1 271.8,365.3 272.4,365.8 272.3,366.2 271.8,366.8 269.7,368.2 255.3,376.2 247.5,379.8 244.5,380.8 242.0,381.3 M243.2,379.8 241.0,379.8 239.5,379.2 238.5,378.0 238.0,376.0 238.3,373.8 239.4,371.2 241.0,369.2 243.0,367.7 244.8,366.8 247.0,366.2 249.8,365.9 252.8,365.8 256.3,366.0 259.8,366.6 262.1,367.2 263.0,368.0 263.1,368.5 263.0,369.0 262.0,370.2 259.8,372.0 256.2,374.2 252.6,376.2 248.9,378.0 245.8,379.2 243.2,379.8 M244.0,378.3 242.2,378.3 241.0,377.8 240.0,376.8 239.6,375.5 239.8,373.8 240.5,372.0 241.7,370.2 243.2,368.9 244.8,368.1 246.5,367.5 248.5,367.2 250.8,367.0 253.2,367.2 255.5,367.6 257.1,368.2 258.0,369.0 258.1,370.0 257.6,371.0 256.1,372.5 254.0,374.0 251.2,375.6 248.5,376.9 246.0,377.8 244.0,378.3 M245.5,376.5 244.0,376.6 243.0,376.5 242.2,376.0 241.6,375.0 241.6,373.8 241.9,372.5 242.7,371.2 243.7,370.2 246.0,369.0 248.8,368.5 251.8,368.8 253.0,369.2 253.9,369.8 254.2,370.5 254.0,371.2 253.4,372.2 252.3,373.2 249.0,375.3 245.5,376.5" fill="none" stroke="#1e1e1e" stroke-width="0.42"/>
<ellipse cx="243.4" cy="372.5" rx="3.2" ry="2.2" transform="rotate(-25 243.4 372.5)" fill="#fff" fill-opacity="0.9" filter="url(#bl)"/>
<ellipse cx="253" cy="368" rx="5" ry="1.2" transform="rotate(-22 253 368)" fill="#fff" fill-opacity="0.6" filter="url(#bl)"/>
<ellipse cx="287" cy="360" rx="10" ry="1.0" transform="rotate(-12 287 360)" fill="#fff" fill-opacity="0.4" filter="url(#bl)"/>
<line x1="191.50" y1="289.40" x2="191.50" y2="419.00" stroke="#111" stroke-width="1.1"/>
<line x1="191.50" y1="419.00" x2="321.40" y2="419.00" stroke="#111" stroke-width="1.1"/>
<line x1="321.40" y1="289.40" x2="321.40" y2="419.00" stroke="#333" stroke-width="1.0"/>
<line x1="191.50" y1="289.40" x2="321.40" y2="289.40" stroke="#333" stroke-width="1.0"/>
<rect x="202.30" y="289.60" width="108.90" height="51.40" fill="none" stroke="#111" stroke-width="1.2"/>
<text x="211.00" y="299.20" font-size="8.8" fill="#666" text-anchor="start" textLength="19.2" lengthAdjust="spacingAndGlyphs" >11.7%</text>
<line x1="44.00" y1="404.50" x2="47.50" y2="404.50" stroke="#111" stroke-width="1.0"/>
<text x="37.40" y="407.10" font-size="10.2" fill="#555" text-anchor="end" textLength="9.0" lengthAdjust="spacingAndGlyphs" >10</text>
<text x="41.90" y="399.50" font-size="4.8" fill="#585858" text-anchor="middle" >1</text>
<line x1="44.00" y1="378.70" x2="47.50" y2="378.70" stroke="#111" stroke-width="1.0"/>
<text x="37.40" y="381.30" font-size="10.2" fill="#555" text-anchor="end" textLength="9.0" lengthAdjust="spacingAndGlyphs" >10</text>
<text x="41.90" y="373.70" font-size="4.8" fill="#585858" text-anchor="middle" >2</text>
<line x1="44.00" y1="352.30" x2="47.50" y2="352.30" stroke="#111" stroke-width="1.0"/>
<text x="37.40" y="354.90" font-size="10.2" fill="#555" text-anchor="end" textLength="9.0" lengthAdjust="spacingAndGlyphs" >10</text>
<text x="41.90" y="347.30" font-size="4.8" fill="#585858" text-anchor="middle" >3</text>
<line x1="44.00" y1="326.80" x2="47.50" y2="326.80" stroke="#111" stroke-width="1.0"/>
<text x="37.40" y="329.40" font-size="10.2" fill="#555" text-anchor="end" textLength="9.0" lengthAdjust="spacingAndGlyphs" >10</text>
<text x="41.90" y="321.80" font-size="4.8" fill="#585858" text-anchor="middle" >4</text>
<line x1="44.00" y1="300.60" x2="47.50" y2="300.60" stroke="#111" stroke-width="1.0"/>
<text x="37.40" y="303.20" font-size="10.2" fill="#555" text-anchor="end" textLength="9.0" lengthAdjust="spacingAndGlyphs" >10</text>
<text x="41.90" y="295.60" font-size="4.8" fill="#585858" text-anchor="middle" >5</text>
<line x1="45.50" y1="396.73" x2="47.50" y2="396.73" stroke="#111" stroke-width="0.8"/>
<line x1="45.50" y1="392.19" x2="47.50" y2="392.19" stroke="#111" stroke-width="0.8"/>
<line x1="45.50" y1="388.97" x2="47.50" y2="388.97" stroke="#111" stroke-width="0.8"/>
<line x1="45.50" y1="386.47" x2="47.50" y2="386.47" stroke="#111" stroke-width="0.8"/>
<line x1="45.50" y1="384.42" x2="47.50" y2="384.42" stroke="#111" stroke-width="0.8"/>
<line x1="45.50" y1="382.70" x2="47.50" y2="382.70" stroke="#111" stroke-width="0.8"/>
<line x1="45.50" y1="381.20" x2="47.50" y2="381.20" stroke="#111" stroke-width="0.8"/>
<line x1="45.50" y1="379.88" x2="47.50" y2="379.88" stroke="#111" stroke-width="0.8"/>
<line x1="45.50" y1="370.75" x2="47.50" y2="370.75" stroke="#111" stroke-width="0.8"/>
<line x1="45.50" y1="366.10" x2="47.50" y2="366.10" stroke="#111" stroke-width="0.8"/>
<line x1="45.50" y1="362.81" x2="47.50" y2="362.81" stroke="#111" stroke-width="0.8"/>
<line x1="45.50" y1="360.25" x2="47.50" y2="360.25" stroke="#111" stroke-width="0.8"/>
<line x1="45.50" y1="358.16" x2="47.50" y2="358.16" stroke="#111" stroke-width="0.8"/>
<line x1="45.50" y1="356.39" x2="47.50" y2="356.39" stroke="#111" stroke-width="0.8"/>
<line x1="45.50" y1="354.86" x2="47.50" y2="354.86" stroke="#111" stroke-width="0.8"/>
<line x1="45.50" y1="353.51" x2="47.50" y2="353.51" stroke="#111" stroke-width="0.8"/>
<line x1="45.50" y1="344.62" x2="47.50" y2="344.62" stroke="#111" stroke-width="0.8"/>
<line x1="45.50" y1="340.13" x2="47.50" y2="340.13" stroke="#111" stroke-width="0.8"/>
<line x1="45.50" y1="336.95" x2="47.50" y2="336.95" stroke="#111" stroke-width="0.8"/>
<line x1="45.50" y1="334.48" x2="47.50" y2="334.48" stroke="#111" stroke-width="0.8"/>
<line x1="45.50" y1="332.46" x2="47.50" y2="332.46" stroke="#111" stroke-width="0.8"/>
<line x1="45.50" y1="330.75" x2="47.50" y2="330.75" stroke="#111" stroke-width="0.8"/>
<line x1="45.50" y1="329.27" x2="47.50" y2="329.27" stroke="#111" stroke-width="0.8"/>
<line x1="45.50" y1="327.97" x2="47.50" y2="327.97" stroke="#111" stroke-width="0.8"/>
<line x1="45.50" y1="318.91" x2="47.50" y2="318.91" stroke="#111" stroke-width="0.8"/>
<line x1="45.50" y1="314.30" x2="47.50" y2="314.30" stroke="#111" stroke-width="0.8"/>
<line x1="45.50" y1="311.03" x2="47.50" y2="311.03" stroke="#111" stroke-width="0.8"/>
<line x1="45.50" y1="308.49" x2="47.50" y2="308.49" stroke="#111" stroke-width="0.8"/>
<line x1="45.50" y1="306.41" x2="47.50" y2="306.41" stroke="#111" stroke-width="0.8"/>
<line x1="45.50" y1="304.66" x2="47.50" y2="304.66" stroke="#111" stroke-width="0.8"/>
<line x1="45.50" y1="303.14" x2="47.50" y2="303.14" stroke="#111" stroke-width="0.8"/>
<line x1="45.50" y1="301.80" x2="47.50" y2="301.80" stroke="#111" stroke-width="0.8"/>
<line x1="45.50" y1="292.71" x2="47.50" y2="292.71" stroke="#111" stroke-width="0.8"/>
<line x1="45.50" y1="417.99" x2="47.50" y2="417.99" stroke="#111" stroke-width="0.8"/>
<line x1="45.50" y1="414.77" x2="47.50" y2="414.77" stroke="#111" stroke-width="0.8"/>
<line x1="45.50" y1="412.27" x2="47.50" y2="412.27" stroke="#111" stroke-width="0.8"/>
<line x1="45.50" y1="410.22" x2="47.50" y2="410.22" stroke="#111" stroke-width="0.8"/>
<line x1="45.50" y1="408.50" x2="47.50" y2="408.50" stroke="#111" stroke-width="0.8"/>
<line x1="45.50" y1="407.00" x2="47.50" y2="407.00" stroke="#111" stroke-width="0.8"/>
<line x1="45.50" y1="405.68" x2="47.50" y2="405.68" stroke="#111" stroke-width="0.8"/>
<line x1="188.00" y1="404.50" x2="191.50" y2="404.50" stroke="#111" stroke-width="1.0"/>
<line x1="188.00" y1="378.70" x2="191.50" y2="378.70" stroke="#111" stroke-width="1.0"/>
<line x1="188.00" y1="352.30" x2="191.50" y2="352.30" stroke="#111" stroke-width="1.0"/>
<line x1="188.00" y1="326.80" x2="191.50" y2="326.80" stroke="#111" stroke-width="1.0"/>
<line x1="188.00" y1="300.60" x2="191.50" y2="300.60" stroke="#111" stroke-width="1.0"/>
<line x1="189.50" y1="396.73" x2="191.50" y2="396.73" stroke="#111" stroke-width="0.8"/>
<line x1="189.50" y1="392.19" x2="191.50" y2="392.19" stroke="#111" stroke-width="0.8"/>
<line x1="189.50" y1="388.97" x2="191.50" y2="388.97" stroke="#111" stroke-width="0.8"/>
<line x1="189.50" y1="386.47" x2="191.50" y2="386.47" stroke="#111" stroke-width="0.8"/>
<line x1="189.50" y1="384.42" x2="191.50" y2="384.42" stroke="#111" stroke-width="0.8"/>
<line x1="189.50" y1="382.70" x2="191.50" y2="382.70" stroke="#111" stroke-width="0.8"/>
<line x1="189.50" y1="381.20" x2="191.50" y2="381.20" stroke="#111" stroke-width="0.8"/>
<line x1="189.50" y1="379.88" x2="191.50" y2="379.88" stroke="#111" stroke-width="0.8"/>
<line x1="189.50" y1="370.75" x2="191.50" y2="370.75" stroke="#111" stroke-width="0.8"/>
<line x1="189.50" y1="366.10" x2="191.50" y2="366.10" stroke="#111" stroke-width="0.8"/>
<line x1="189.50" y1="362.81" x2="191.50" y2="362.81" stroke="#111" stroke-width="0.8"/>
<line x1="189.50" y1="360.25" x2="191.50" y2="360.25" stroke="#111" stroke-width="0.8"/>
<line x1="189.50" y1="358.16" x2="191.50" y2="358.16" stroke="#111" stroke-width="0.8"/>
<line x1="189.50" y1="356.39" x2="191.50" y2="356.39" stroke="#111" stroke-width="0.8"/>
<line x1="189.50" y1="354.86" x2="191.50" y2="354.86" stroke="#111" stroke-width="0.8"/>
<line x1="189.50" y1="353.51" x2="191.50" y2="353.51" stroke="#111" stroke-width="0.8"/>
<line x1="189.50" y1="344.62" x2="191.50" y2="344.62" stroke="#111" stroke-width="0.8"/>
<line x1="189.50" y1="340.13" x2="191.50" y2="340.13" stroke="#111" stroke-width="0.8"/>
<line x1="189.50" y1="336.95" x2="191.50" y2="336.95" stroke="#111" stroke-width="0.8"/>
<line x1="189.50" y1="334.48" x2="191.50" y2="334.48" stroke="#111" stroke-width="0.8"/>
<line x1="189.50" y1="332.46" x2="191.50" y2="332.46" stroke="#111" stroke-width="0.8"/>
<line x1="189.50" y1="330.75" x2="191.50" y2="330.75" stroke="#111" stroke-width="0.8"/>
<line x1="189.50" y1="329.27" x2="191.50" y2="329.27" stroke="#111" stroke-width="0.8"/>
<line x1="189.50" y1="327.97" x2="191.50" y2="327.97" stroke="#111" stroke-width="0.8"/>
<line x1="189.50" y1="318.91" x2="191.50" y2="318.91" stroke="#111" stroke-width="0.8"/>
<line x1="189.50" y1="314.30" x2="191.50" y2="314.30" stroke="#111" stroke-width="0.8"/>
<line x1="189.50" y1="311.03" x2="191.50" y2="311.03" stroke="#111" stroke-width="0.8"/>
<line x1="189.50" y1="308.49" x2="191.50" y2="308.49" stroke="#111" stroke-width="0.8"/>
<line x1="189.50" y1="306.41" x2="191.50" y2="306.41" stroke="#111" stroke-width="0.8"/>
<line x1="189.50" y1="304.66" x2="191.50" y2="304.66" stroke="#111" stroke-width="0.8"/>
<line x1="189.50" y1="303.14" x2="191.50" y2="303.14" stroke="#111" stroke-width="0.8"/>
<line x1="189.50" y1="301.80" x2="191.50" y2="301.80" stroke="#111" stroke-width="0.8"/>
<line x1="189.50" y1="292.71" x2="191.50" y2="292.71" stroke="#111" stroke-width="0.8"/>
<line x1="189.50" y1="417.99" x2="191.50" y2="417.99" stroke="#111" stroke-width="0.8"/>
<line x1="189.50" y1="414.77" x2="191.50" y2="414.77" stroke="#111" stroke-width="0.8"/>
<line x1="189.50" y1="412.27" x2="191.50" y2="412.27" stroke="#111" stroke-width="0.8"/>
<line x1="189.50" y1="410.22" x2="191.50" y2="410.22" stroke="#111" stroke-width="0.8"/>
<line x1="189.50" y1="408.50" x2="191.50" y2="408.50" stroke="#111" stroke-width="0.8"/>
<line x1="189.50" y1="407.00" x2="191.50" y2="407.00" stroke="#111" stroke-width="0.8"/>
<line x1="189.50" y1="405.68" x2="191.50" y2="405.68" stroke="#111" stroke-width="0.8"/>
<line x1="47.60" y1="419.00" x2="47.60" y2="422.80" stroke="#111" stroke-width="1.0"/>
<line x1="52.08" y1="419.00" x2="52.08" y2="420.80" stroke="#111" stroke-width="0.7"/>
<line x1="56.56" y1="419.00" x2="56.56" y2="420.80" stroke="#111" stroke-width="0.7"/>
<line x1="61.04" y1="419.00" x2="61.04" y2="420.80" stroke="#111" stroke-width="0.7"/>
<line x1="65.52" y1="419.00" x2="65.52" y2="420.80" stroke="#111" stroke-width="0.7"/>
<line x1="70.00" y1="419.00" x2="70.00" y2="422.80" stroke="#111" stroke-width="1.0"/>
<line x1="74.48" y1="419.00" x2="74.48" y2="420.80" stroke="#111" stroke-width="0.7"/>
<line x1="78.96" y1="419.00" x2="78.96" y2="420.80" stroke="#111" stroke-width="0.7"/>
<line x1="83.44" y1="419.00" x2="83.44" y2="420.80" stroke="#111" stroke-width="0.7"/>
<line x1="87.92" y1="419.00" x2="87.92" y2="420.80" stroke="#111" stroke-width="0.7"/>
<line x1="92.40" y1="419.00" x2="92.40" y2="422.80" stroke="#111" stroke-width="1.0"/>
<line x1="96.88" y1="419.00" x2="96.88" y2="420.80" stroke="#111" stroke-width="0.7"/>
<line x1="101.36" y1="419.00" x2="101.36" y2="420.80" stroke="#111" stroke-width="0.7"/>
<line x1="105.84" y1="419.00" x2="105.84" y2="420.80" stroke="#111" stroke-width="0.7"/>
<line x1="110.32" y1="419.00" x2="110.32" y2="420.80" stroke="#111" stroke-width="0.7"/>
<line x1="114.80" y1="419.00" x2="114.80" y2="422.80" stroke="#111" stroke-width="1.0"/>
<line x1="119.28" y1="419.00" x2="119.28" y2="420.80" stroke="#111" stroke-width="0.7"/>
<line x1="123.76" y1="419.00" x2="123.76" y2="420.80" stroke="#111" stroke-width="0.7"/>
<line x1="128.24" y1="419.00" x2="128.24" y2="420.80" stroke="#111" stroke-width="0.7"/>
<line x1="132.72" y1="419.00" x2="132.72" y2="420.80" stroke="#111" stroke-width="0.7"/>
<line x1="137.20" y1="419.00" x2="137.20" y2="422.80" stroke="#111" stroke-width="1.0"/>
<line x1="141.68" y1="419.00" x2="141.68" y2="420.80" stroke="#111" stroke-width="0.7"/>
<line x1="146.16" y1="419.00" x2="146.16" y2="420.80" stroke="#111" stroke-width="0.7"/>
<line x1="150.64" y1="419.00" x2="150.64" y2="420.80" stroke="#111" stroke-width="0.7"/>
<line x1="155.12" y1="419.00" x2="155.12" y2="420.80" stroke="#111" stroke-width="0.7"/>
<line x1="159.60" y1="419.00" x2="159.60" y2="422.80" stroke="#111" stroke-width="1.0"/>
<line x1="164.08" y1="419.00" x2="164.08" y2="420.80" stroke="#111" stroke-width="0.7"/>
<line x1="168.56" y1="419.00" x2="168.56" y2="420.80" stroke="#111" stroke-width="0.7"/>
<line x1="173.04" y1="419.00" x2="173.04" y2="420.80" stroke="#111" stroke-width="0.7"/>
<line x1="177.52" y1="419.00" x2="177.52" y2="420.80" stroke="#111" stroke-width="0.7"/>
<text x="47.50" y="432.30" font-size="10.0" fill="#585858" text-anchor="middle" >0</text>
<text x="74.70" y="432.30" font-size="10.0" fill="#585858" text-anchor="middle" >50K</text>
<text x="125.00" y="432.30" font-size="10.0" fill="#585858" text-anchor="middle" >150K</text>
<text x="168.00" y="432.30" font-size="10.0" fill="#585858" text-anchor="middle" >250K</text>
<line x1="191.50" y1="419.00" x2="191.50" y2="422.80" stroke="#111" stroke-width="1.0"/>
<line x1="195.98" y1="419.00" x2="195.98" y2="420.80" stroke="#111" stroke-width="0.7"/>
<line x1="200.46" y1="419.00" x2="200.46" y2="420.80" stroke="#111" stroke-width="0.7"/>
<line x1="204.94" y1="419.00" x2="204.94" y2="420.80" stroke="#111" stroke-width="0.7"/>
<line x1="209.42" y1="419.00" x2="209.42" y2="420.80" stroke="#111" stroke-width="0.7"/>
<line x1="213.90" y1="419.00" x2="213.90" y2="422.80" stroke="#111" stroke-width="1.0"/>
<line x1="218.38" y1="419.00" x2="218.38" y2="420.80" stroke="#111" stroke-width="0.7"/>
<line x1="222.86" y1="419.00" x2="222.86" y2="420.80" stroke="#111" stroke-width="0.7"/>
<line x1="227.34" y1="419.00" x2="227.34" y2="420.80" stroke="#111" stroke-width="0.7"/>
<line x1="231.82" y1="419.00" x2="231.82" y2="420.80" stroke="#111" stroke-width="0.7"/>
<line x1="236.30" y1="419.00" x2="236.30" y2="422.80" stroke="#111" stroke-width="1.0"/>
<line x1="240.78" y1="419.00" x2="240.78" y2="420.80" stroke="#111" stroke-width="0.7"/>
<line x1="245.26" y1="419.00" x2="245.26" y2="420.80" stroke="#111" stroke-width="0.7"/>
<line x1="249.74" y1="419.00" x2="249.74" y2="420.80" stroke="#111" stroke-width="0.7"/>
<line x1="254.22" y1="419.00" x2="254.22" y2="420.80" stroke="#111" stroke-width="0.7"/>
<line x1="258.70" y1="419.00" x2="258.70" y2="422.80" stroke="#111" stroke-width="1.0"/>
<line x1="263.18" y1="419.00" x2="263.18" y2="420.80" stroke="#111" stroke-width="0.7"/>
<line x1="267.66" y1="419.00" x2="267.66" y2="420.80" stroke="#111" stroke-width="0.7"/>
<line x1="272.14" y1="419.00" x2="272.14" y2="420.80" stroke="#111" stroke-width="0.7"/>
<line x1="276.62" y1="419.00" x2="276.62" y2="420.80" stroke="#111" stroke-width="0.7"/>
<line x1="281.10" y1="419.00" x2="281.10" y2="422.80" stroke="#111" stroke-width="1.0"/>
<line x1="285.58" y1="419.00" x2="285.58" y2="420.80" stroke="#111" stroke-width="0.7"/>
<line x1="290.06" y1="419.00" x2="290.06" y2="420.80" stroke="#111" stroke-width="0.7"/>
<line x1="294.54" y1="419.00" x2="294.54" y2="420.80" stroke="#111" stroke-width="0.7"/>
<line x1="299.02" y1="419.00" x2="299.02" y2="420.80" stroke="#111" stroke-width="0.7"/>
<line x1="303.50" y1="419.00" x2="303.50" y2="422.80" stroke="#111" stroke-width="1.0"/>
<line x1="307.98" y1="419.00" x2="307.98" y2="420.80" stroke="#111" stroke-width="0.7"/>
<line x1="312.46" y1="419.00" x2="312.46" y2="420.80" stroke="#111" stroke-width="0.7"/>
<line x1="316.94" y1="419.00" x2="316.94" y2="420.80" stroke="#111" stroke-width="0.7"/>
<text x="193.20" y="432.30" font-size="10.0" fill="#585858" text-anchor="middle" >0</text>
<text x="220.00" y="432.30" font-size="10.0" fill="#585858" text-anchor="middle" >50K</text>
<text x="258.70" y="432.30" font-size="10.0" fill="#585858" text-anchor="middle" >150K</text>
<text x="309.50" y="432.30" font-size="10.0" fill="#585858" text-anchor="middle" >250K</text>
<line x1="90.70" y1="440.30" x2="263.90" y2="440.30" stroke="#333" stroke-width="1.0"/>
<text x="184.40" y="456.20" font-size="12.6" fill="#555" text-anchor="middle" textLength="23.3" lengthAdjust="spacingAndGlyphs" >FSC</text>
<text x="439.80" y="283.30" font-size="12.0" fill="#555" text-anchor="middle" textLength="75.5" lengthAdjust="spacingAndGlyphs" >Control siRNA</text>
<text x="579.80" y="283.30" font-size="12.0" fill="#555" text-anchor="middle" textLength="69.2" lengthAdjust="spacingAndGlyphs" >NRP2 siRNA</text>
<text x="343.40" y="349.00" font-size="12.6" fill="#555" text-anchor="middle" textLength="65.9" lengthAdjust="spacingAndGlyphs" transform="rotate(-90 343.40 349.00)" >HCMV-GFP</text>
<path d="M451.5,324.3 442.5,324.1 433.8,323.1 429.7,322.2 425.8,321.1 422.2,319.9 419.0,318.4 416.2,316.8 413.9,315.0 412.1,313.2 410.7,311.2 409.8,309.2 409.5,307.2 409.8,305.0 410.5,303.0 412.5,300.2 415.4,297.8 419.2,295.5 423.8,293.5 428.8,292.0 434.5,290.8 440.5,290.0 446.8,289.7 453.0,289.8 459.2,290.4 465.2,291.5 470.5,292.9 475.2,294.8 479.4,297.0 482.7,299.5 484.9,302.0 485.8,303.8 486.4,305.8 486.5,307.8 486.0,309.8 485.0,311.8 483.7,313.5 481.9,315.2 479.8,316.8 477.3,318.2 474.2,319.7 467.5,321.9 459.8,323.5 451.5,324.3 M485.2,332.1 483.5,332.0 478.0,330.2 476.1,329.5 475.1,328.8 474.9,328.2 474.7,327.2 475.1,326.0 476.2,323.9 477.8,322.2 479.2,321.5 480.8,321.5 482.2,322.2 483.5,323.5 484.9,326.0 485.8,329.2 486.0,330.8 485.7,331.8 485.2,332.1 M409.2,339.6 408.2,339.6 407.5,339.0 407.0,336.0 407.0,333.2 407.2,330.5 407.8,328.2 408.5,326.2 410.1,324.0 411.1,323.2 412.2,322.8 413.5,322.6 414.8,322.6 417.2,323.5 419.8,325.1 422.2,327.5 423.2,328.8 423.2,330.0 422.7,330.8 421.5,331.8 411.8,338.3 409.2,339.6 M452.0,322.3 444.0,322.3 436.0,321.4 428.9,319.8 425.8,318.7 422.8,317.3 420.2,316.0 418.0,314.3 416.3,312.8 415.0,311.0 414.2,309.2 413.9,307.5 414.0,305.5 414.6,303.8 416.3,301.2 418.8,299.0 422.1,297.0 426.0,295.2 430.5,293.8 435.5,292.7 441.0,292.0 446.5,291.6 452.2,291.8 457.8,292.3 463.0,293.2 467.8,294.5 472.0,296.1 475.7,298.0 478.7,300.2 480.7,302.5 481.5,304.0 482.0,305.8 482.1,307.5 481.8,309.2 481.0,311.0 479.9,312.5 478.4,314.0 476.5,315.5 471.8,318.0 466.0,320.1 459.2,321.5 452.0,322.3 M481.5,329.8 480.0,329.5 479.4,329.2 479.2,329.0 479.0,329.1 477.5,327.8 477.3,327.5 477.4,327.2 478.2,326.2 479.2,325.6 480.2,325.5 481.2,325.8 482.0,326.5 483.0,327.9 483.5,329.2 482.8,329.6 481.8,329.6 481.5,329.8 M411.5,335.8 411.0,335.8 411.6,332.8 412.5,331.0 413.5,330.0 414.8,329.4 416.0,329.3 417.5,329.7 419.0,330.5 417.5,332.0 415.5,333.6 413.2,335.0 411.5,335.8 M452.5,320.3 445.5,320.4 438.5,319.7 432.0,318.3 426.4,316.2 424.1,315.0 422.2,313.8 420.6,312.2 419.4,310.8 418.6,309.2 418.2,307.5 418.3,305.8 418.8,304.2 420.1,302.2 422.2,300.2 425.0,298.5 428.5,296.9 432.5,295.5 436.8,294.6 441.5,293.9 446.2,293.6 451.2,293.7 456.0,294.1 460.5,294.8 464.8,295.9 468.5,297.3 471.8,298.9 474.4,300.8 476.3,302.8 477.0,304.0 477.6,305.5 477.8,307.0 477.6,308.5 477.0,310.0 476.2,311.3 474.9,312.8 473.4,314.0 469.5,316.3 464.5,318.2 458.8,319.5 452.5,320.3 M452.8,318.3 446.5,318.4 440.2,317.9 434.6,316.8 429.8,315.0 426.0,312.8 424.6,311.5 423.6,310.2 422.9,309.0 422.6,307.5 422.6,306.0 423.0,304.8 424.1,303.0 426.0,301.2 428.3,299.8 431.2,298.4 434.6,297.2 438.2,296.4 442.2,295.8 446.2,295.6 450.5,295.6 454.5,295.9 458.2,296.5 462.0,297.4 465.2,298.6 468.1,300.0 470.3,301.5 472.1,303.2 473.2,305.5 473.4,306.8 473.4,308.0 473.0,309.2 472.2,310.5 470.0,312.8 466.8,314.7 462.8,316.3 458.0,317.5 452.8,318.3 M452.8,316.3 447.5,316.5 442.5,316.2 437.8,315.3 433.5,313.9 429.5,311.9 428.5,311.2 427.7,310.2 427.2,309.2 427.0,308.2 426.9,306.5 427.3,305.2 428.2,303.8 429.5,302.4 431.5,301.1 433.8,300.0 436.5,299.0 439.5,298.3 442.8,297.8 446.2,297.5 453.0,297.8 456.2,298.3 459.4,299.0 462.0,299.9 464.4,301.0 466.3,302.2 467.8,303.8 468.9,305.8 469.0,307.8 468.2,309.8 466.6,311.5 464.0,313.2 460.8,314.6 457.0,315.6 452.8,316.3 M449.5,314.5 445.8,314.5 442.0,314.0 438.8,313.3 436.0,312.3 434.0,312.0 432.2,311.6 430.7,310.8 429.6,309.8 429.2,308.8 429.3,307.5 430.4,306.0 431.8,305.0 433.5,303.2 435.8,301.7 439.5,300.2 444.0,299.5 447.5,299.4 451.0,299.6 456.5,300.5 458.8,301.2 461.0,302.2 462.8,303.5 464.0,304.8 464.7,306.2 464.6,308.0 463.6,309.8 461.8,311.2 459.5,312.5 456.5,313.5 453.0,314.2 449.5,314.5 M450.0,312.5 447.2,312.6 444.5,312.4 441.2,311.7 438.2,310.5 435.5,310.5 433.5,310.3 431.8,309.5 431.5,309.0 431.5,308.2 432.0,307.4 433.5,306.4 434.8,305.0 435.6,303.8 437.0,302.6 440.0,301.3 443.8,300.5 448.2,300.5 452.8,301.3 454.8,302.0 457.7,303.5 458.8,304.2 459.8,305.2 460.4,306.5 460.3,307.8 459.6,309.0 458.5,310.0 456.8,311.0 454.8,311.7 452.5,312.2 450.0,312.5 M448.8,310.8 444.8,310.8 441.2,310.1 436.8,308.2 436.1,307.5 436.2,306.8 437.3,304.5 438.5,303.4 440.8,302.2 443.8,301.6 447.2,301.4 450.5,301.8 453.5,302.9 455.5,304.2 456.3,305.2 456.5,306.2 456.3,307.2 455.5,308.4 454.5,309.2 453.0,309.9 451.2,310.4 448.8,310.8 M448.5,309.8 444.8,309.7 443.0,309.4 441.3,308.8 440.1,308.0 439.2,307.1 438.9,306.2 439.1,305.2 439.8,304.2 441.5,303.3 443.5,302.7 445.8,302.4 448.2,302.6 450.4,303.0 452.2,303.8 453.6,304.8 454.1,305.5 454.3,306.5 454.1,307.2 453.5,308.0 451.5,309.1 448.5,309.8 M448.0,308.8 445.2,308.7 442.8,307.9 441.4,306.8 441.1,306.0 441.3,305.2 442.0,304.5 443.0,304.0 445.8,303.5 447.5,303.5 449.0,303.8 450.2,304.3 451.3,305.0 451.8,305.5 452.1,306.2 451.8,307.3 450.3,308.2 448.0,308.8" fill="none" stroke="#3a3a3a" stroke-width="0.55"/>
<linearGradient id="g_d1" x1="0.0" y1="0" x2="1.0" y2="0"><stop offset="0" stop-color="#c8c8c8"/><stop offset="0.45" stop-color="#acacac"/><stop offset="1" stop-color="#d0d0d0"/></linearGradient>
<path d="M393.1,353.2 394.0,351.6 395.1,350.2 396.1,348.7 397.2,347.4 398.4,346.1 399.6,344.8 400.8,343.6 402.1,342.5 403.4,341.3 404.7,340.3 406.0,339.2 407.3,338.1 408.7,337.1 410.0,336.1 411.3,335.0 412.6,334.0 413.9,333.1 415.2,332.1 416.5,331.3 417.9,330.5 419.2,329.8 420.5,329.1 421.8,328.6 423.1,328.1 424.5,327.6 426.0,327.2 427.6,326.9 429.4,326.6 431.4,326.3 433.5,326.1 435.8,325.9 438.3,325.8 440.9,325.7 443.6,325.6 446.4,325.5 449.3,325.5 452.2,325.5 455.3,325.5 458.4,325.6 461.6,325.7 464.9,325.8 468.0,325.9 470.8,326.1 473.4,326.4 475.8,326.7 478.0,327.1 480.0,327.5 481.7,328.0 483.3,328.6 484.7,329.2 486.1,329.8 487.4,330.5 488.6,331.2 489.7,331.9 490.7,332.7 491.7,333.6 492.5,334.4 493.3,335.3 493.9,336.1 494.3,336.9 494.7,337.7 494.9,338.4 494.9,339.1 494.9,339.8 494.6,340.5 494.3,341.2 493.7,341.9 493.0,342.6 492.1,343.4 491.1,344.2 489.9,345.0 488.5,345.9 487.0,346.7 485.3,347.7 483.4,348.7 481.4,349.7 479.2,350.8 476.8,351.9 474.3,353.1 471.6,354.4 468.8,355.7 465.9,357.0 462.9,358.4 459.9,359.8 456.8,361.2 453.7,362.7 450.6,364.2 447.3,365.7 444.1,367.2 440.9,368.7 437.8,370.2 434.7,371.7 431.8,373.1 428.9,374.5 426.1,375.9 423.4,377.2 420.7,378.5 418.2,379.8 415.9,380.9 413.7,382.0 411.6,383.1 409.6,384.0 407.8,384.9 406.2,385.8 404.6,386.5 403.2,387.2 401.8,387.7 400.6,388.1 399.4,388.3 398.2,388.5 397.2,388.5 396.2,388.4 395.4,388.2 394.5,387.8 393.8,387.4 393.1,386.8 392.4,386.1 391.8,385.2 391.3,384.3 390.8,383.2 390.3,382.0 389.9,380.8 389.6,379.6 389.3,378.3 389.1,377.1 389.0,375.8 388.9,374.5 388.8,373.2 388.8,371.9 388.8,370.6 388.8,369.3 388.9,368.1 388.9,366.9 389.0,365.7 389.1,364.6 389.2,363.5 389.2,362.3 389.5,361.2 389.8,360.0 390.2,358.7 390.8,357.4 391.4,356.1 392.2,354.6Z" fill="url(#g_d1)" stroke="#222" stroke-width="0.7"/>
<ellipse cx="434" cy="346" rx="26" ry="9" transform="rotate(-15 434 346)" fill="#333" fill-opacity="0.7" filter="url(#bl2)"/>
<ellipse cx="466" cy="338" rx="16" ry="6" transform="rotate(-8 466 338)" fill="#333" fill-opacity="0.55" filter="url(#bl2)"/>
<path d="M399.5,389.5 397.8,389.7 396.2,389.6 394.8,389.2 393.5,388.6 392.2,387.6 391.0,386.2 390.1,384.8 389.4,383.0 388.2,379.0 387.7,375.0 387.6,366.8 387.8,363.0 388.4,359.2 389.8,355.8 392.0,352.0 395.0,348.0 397.8,344.8 400.8,342.0 408.5,335.6 413.5,331.8 417.0,329.6 421.0,327.6 424.8,326.3 429.2,325.4 434.2,324.8 439.5,324.4 447.2,324.4 450.8,324.2 454.2,324.4 463.8,324.4 468.8,324.7 474.2,325.2 477.5,325.7 481.2,326.6 484.8,327.8 488.5,329.6 491.1,331.2 493.6,333.5 495.3,335.8 496.0,337.4 496.2,339.0 496.0,340.5 495.3,342.0 494.2,343.2 492.5,344.8 487.5,348.0 481.2,351.3 475.0,354.3 432.8,374.0 404.8,387.8 402.0,388.9 399.5,389.5 M398.0,389.0 396.5,388.9 395.0,388.6 393.8,387.9 392.6,387.0 391.5,385.8 390.8,384.5 389.3,380.5 388.4,375.5 388.3,367.2 388.5,362.2 389.3,358.8 390.6,355.5 392.9,351.8 395.8,348.0 398.7,344.8 402.8,341.1 409.5,335.7 414.0,332.3 417.8,329.9 421.5,328.1 425.0,326.9 429.5,326.0 434.8,325.4 439.8,325.1 447.5,325.1 450.8,324.9 454.2,325.1 463.5,325.1 471.5,325.6 475.8,326.1 480.0,326.9 482.5,327.6 485.2,328.7 488.5,330.4 491.0,332.0 493.2,334.1 494.8,336.2 495.4,337.8 495.5,339.2 495.2,340.5 494.5,341.9 493.2,343.3 491.5,344.8 486.5,347.8 474.8,353.6 432.7,373.2 404.5,387.2 401.0,388.5 398.0,389.0 M399.5,388.3 397.8,388.4 396.2,388.3 395.0,388.0 393.8,387.2 392.7,386.2 391.7,385.0 390.2,381.5 389.3,378.0 388.9,374.2 389.0,363.0 389.2,361.0 389.8,359.0 391.1,355.8 393.3,352.2 396.2,348.3 399.0,345.2 403.0,341.7 409.8,336.2 414.2,332.8 418.0,330.5 421.8,328.6 425.2,327.4 429.8,326.5 434.8,326.0 439.8,325.6 447.5,325.6 450.8,325.4 454.0,325.6 463.2,325.6 468.5,325.9 477.0,326.9 480.8,327.7 484.2,328.9 487.8,330.6 490.4,332.2 492.7,334.2 494.3,336.5 494.9,338.0 495.0,339.2 494.7,340.5 493.9,341.8 492.8,343.0 491.2,344.3 486.2,347.3 474.5,353.2 432.5,372.7 404.5,386.6 401.8,387.7 399.5,388.3 M399.5,387.8 396.5,387.9 395.2,387.5 394.0,386.8 392.9,385.8 392.0,384.5 390.5,380.8 389.7,377.5 389.3,373.8 389.4,363.0 389.7,361.0 390.2,359.0 391.6,355.8 393.8,352.2 396.7,348.5 399.5,345.4 404.0,341.4 412.2,334.9 415.2,332.7 418.2,330.9 422.0,329.1 425.5,327.9 429.8,327.0 435.0,326.4 440.0,326.1 450.8,325.9 454.0,326.1 463.2,326.1 468.2,326.4 476.8,327.3 480.8,328.2 484.0,329.3 487.5,331.0 490.0,332.5 492.3,334.5 493.9,336.8 494.4,338.0 494.5,339.2 494.2,340.5 493.5,341.6 492.4,342.8 490.8,344.1 485.9,347.0 474.2,352.8 451.2,363.3 432.2,372.3 404.2,386.1 401.5,387.2 399.5,387.8 M399.8,387.3 398.0,387.5 396.5,387.4 395.2,387.0 394.2,386.4 393.2,385.5 392.4,384.2 391.0,380.8 390.1,377.2 389.8,373.5 389.9,363.0 390.7,359.0 392.0,356.0 394.2,352.4 397.1,348.8 400.0,345.5 404.8,341.4 412.8,335.1 415.7,333.0 418.6,331.2 422.2,329.5 425.5,328.4 429.8,327.5 435.0,326.9 440.2,326.6 450.8,326.4 463.0,326.5 468.2,326.8 476.5,327.8 480.5,328.6 483.8,329.7 487.1,331.2 489.8,332.9 492.0,334.9 493.5,337.0 494.0,338.2 494.0,339.2 493.7,340.2 493.0,341.5 490.2,343.9 485.5,346.7 474.2,352.3 451.0,362.9 432.0,371.9 404.0,385.7 399.8,387.3 M400.2,385.8 397.5,385.8 396.2,385.5 395.0,384.8 394.0,383.9 393.2,382.8 391.8,379.8 391.0,375.7 390.7,370.2 390.9,364.0 390.8,363.4 391.0,363.0 390.9,361.8 391.0,361.4 391.2,361.4 391.1,361.0 391.7,358.8 392.9,356.0 395.2,352.3 397.8,349.2 400.9,346.0 405.0,342.4 412.2,336.7 416.0,334.0 419.5,331.9 423.0,330.3 426.5,329.2 430.5,328.4 435.2,327.9 441.0,327.5 450.8,327.4 462.0,327.5 469.0,327.8 474.0,328.3 478.0,329.0 481.2,329.9 485.2,331.3 486.0,331.8 486.2,331.8 486.3,332.0 487.2,332.5 487.6,332.5 487.6,332.8 488.0,333.0 488.2,332.9 488.8,333.2 488.6,333.5 489.2,334.0 489.5,333.8 489.8,334.0 491.4,335.5 492.7,337.2 493.0,338.2 493.1,339.2 492.8,340.2 492.0,341.3 489.8,343.2 489.6,343.0 491.1,341.5 491.0,341.3 490.0,342.5 488.8,343.5 488.9,343.8 488.5,343.7 487.3,344.8 487.0,344.7 484.2,346.4 473.8,351.6 437.2,368.4 405.5,383.9 402.5,385.2 400.2,385.8 M490.8,335.5 490.5,335.2 490.8,335.5 M491.8,340.0 491.8,339.6 491.6,340.0 491.8,340.0 M398.8,386.5 397.0,386.5 395.5,386.1 394.3,385.2 393.3,384.0 393.5,383.9 395.0,385.4 395.8,385.6 396.5,386.2 397.2,386.1 397.5,386.5 398.8,386.5 M400.2,384.8 397.7,384.8 396.5,384.4 395.5,383.8 394.5,382.8 393.8,381.8 392.5,378.8 391.8,374.0 391.7,367.2 392.0,362.2 393.0,358.4 394.2,355.8 396.1,352.8 398.5,349.8 401.5,346.6 405.5,343.1 412.8,337.5 416.5,334.8 419.8,332.8 423.0,331.3 426.2,330.2 430.0,329.4 434.5,328.8 440.5,328.5 449.2,328.3 465.8,328.5 474.8,329.3 478.2,330.0 481.2,330.8 484.2,332.0 486.8,333.3 488.8,334.9 490.1,336.5 490.6,337.8 490.6,339.0 490.3,340.2 489.7,341.2 488.8,342.3 487.2,343.5 482.8,346.2 473.2,350.9 437.5,367.2 405.3,383.0 402.5,384.2 400.2,384.8 M492.0,339.6 492.0,338.1 492.0,339.6 M399.2,383.8 398.0,383.6 397.0,383.3 395.3,382.0 394.0,379.8 393.1,376.8 392.6,372.0 392.7,365.0 393.2,361.0 394.3,357.8 395.6,355.2 397.4,352.5 399.8,349.7 402.5,346.9 406.5,343.5 414.0,337.7 417.5,335.3 420.5,333.5 423.8,332.1 427.0,331.0 430.8,330.3 435.0,329.8 440.8,329.4 449.0,329.3 465.8,329.5 474.5,330.2 478.0,330.9 481.0,331.7 483.8,332.7 486.0,334.0 487.9,335.5 489.0,337.0 489.3,338.2 489.3,339.2 488.8,340.5 488.0,341.5 485.2,343.7 480.5,346.4 471.2,350.9 437.9,366.0 405.0,382.1 401.8,383.3 399.2,383.8 M400.0,382.5 398.0,382.3 396.2,381.2 395.0,379.2 394.1,376.2 393.6,371.5 393.8,364.8 394.3,361.0 395.3,357.8 396.6,355.2 398.5,352.6 400.8,349.9 403.2,347.4 407.2,344.1 414.8,338.4 418.0,336.1 421.0,334.4 424.0,333.0 427.0,332.1 430.5,331.3 434.8,330.8 444.0,330.3 464.2,330.4 473.2,331.0 479.5,332.2 482.2,333.2 484.5,334.3 486.2,335.5 487.5,337.0 487.8,338.0 487.8,339.2 487.4,340.2 486.6,341.2 484.1,343.2 479.2,346.0 469.8,350.6 437.7,365.0 405.0,380.9 402.2,382.0 400.0,382.5 M401.5,381.0 399.2,381.2 397.5,380.4 396.1,378.8 395.2,376.0 394.7,371.5 394.8,364.8 395.3,361.0 396.4,357.8 397.8,355.2 399.5,352.8 401.7,350.2 404.0,348.0 407.8,344.9 415.2,339.3 418.5,337.1 421.5,335.3 424.2,334.1 427.2,333.1 430.8,332.4 434.8,331.8 443.5,331.4 463.2,331.3 472.2,331.9 478.5,333.0 481.0,333.8 483.2,334.8 484.9,336.0 485.9,337.2 486.2,338.0 486.2,339.0 485.9,340.0 485.1,341.0 482.6,343.0 477.8,345.8 468.0,350.4 438.5,363.5 406.0,379.3 403.5,380.4 401.5,381.0 M400.5,379.8 398.8,379.4 397.5,378.3 396.6,376.5 396.0,373.8 395.8,369.2 396.0,363.8 396.7,360.2 397.8,357.2 399.1,355.0 400.7,352.8 402.7,350.5 405.0,348.4 408.8,345.4 416.0,340.0 419.2,337.8 422.0,336.2 424.8,335.0 427.8,334.1 431.0,333.4 434.8,332.9 443.2,332.4 462.2,332.3 471.0,332.7 477.2,333.7 479.5,334.4 481.6,335.2 483.1,336.2 484.1,337.5 484.4,338.2 484.3,339.2 483.9,340.2 483.0,341.2 479.8,343.5 474.8,346.2 465.5,350.6 435.4,363.8 405.5,378.3 402.5,379.4 400.5,379.8 M402.2,378.0 400.2,378.1 398.8,377.2 397.8,375.6 397.2,373.2 396.9,369.0 397.2,363.8 397.9,360.2 399.0,357.2 400.3,355.0 401.8,353.0 403.8,350.8 406.0,348.8 416.5,341.0 419.8,338.8 422.5,337.3 425.2,336.0 428.0,335.2 431.0,334.5 434.8,334.0 443.2,333.5 461.0,333.2 469.5,333.6 475.5,334.4 477.8,335.0 479.8,335.8 481.3,336.8 482.1,337.8 482.3,338.5 482.2,339.5 480.9,341.2 477.8,343.5 472.5,346.4 462.2,351.1 435.6,362.5 427.5,366.2 406.8,376.4 404.2,377.4 402.2,378.0 M403.2,376.3 401.5,376.4 400.0,375.8 399.0,374.4 398.4,372.0 398.2,367.8 398.5,363.2 399.2,360.0 400.4,357.0 401.6,355.0 403.2,352.9 405.0,351.0 407.2,349.0 417.0,341.9 423.0,338.3 425.5,337.2 428.2,336.3 434.8,335.2 443.2,334.6 460.0,334.2 468.0,334.5 474.0,335.2 476.2,335.8 477.9,336.5 479.1,337.2 479.9,338.2 480.0,339.0 479.7,340.0 478.1,341.8 474.8,344.0 469.6,346.8 459.5,351.4 433.5,362.2 407.8,374.5 403.2,376.3 M403.2,374.5 401.7,374.2 400.5,373.2 399.8,371.5 399.5,369.0 399.5,365.2 400.0,362.0 400.9,359.0 402.2,356.2 405.0,352.5 408.8,349.0 417.8,342.7 423.5,339.3 426.0,338.2 428.5,337.4 434.5,336.3 443.0,335.6 457.5,335.2 465.0,335.3 471.2,335.9 475.2,337.0 476.5,337.8 477.2,338.5 477.4,339.2 477.2,340.0 476.6,341.0 475.5,342.0 471.7,344.5 466.5,347.2 456.8,351.6 430.2,362.5 407.5,373.2 405.0,374.2 403.2,374.5 M405.5,372.3 403.8,372.4 402.5,372.0 401.5,370.8 401.0,368.6 400.9,365.5 401.3,362.2 402.2,359.2 403.5,356.5 406.0,353.0 409.8,349.5 417.8,343.9 423.8,340.4 428.5,338.6 434.0,337.5 442.5,336.7 454.8,336.2 462.5,336.2 468.8,336.8 472.6,337.8 473.8,338.5 474.4,339.2 474.5,340.0 474.2,340.8 473.3,341.8 472.1,342.8 468.6,345.0 463.3,347.8 453.5,352.1 429.1,361.8 409.5,370.8 405.5,372.3 M406.0,370.3 404.5,370.2 403.5,369.5 402.8,368.0 402.5,366.0 402.6,363.5 403.2,360.8 404.1,358.2 405.4,355.8 408.0,352.5 411.5,349.4 418.5,344.6 424.2,341.3 428.5,339.7 433.5,338.7 441.2,337.8 451.0,337.3 459.5,337.2 465.0,337.5 469.2,338.4 470.4,339.0 471.2,339.8 471.3,340.5 471.0,341.2 470.2,342.2 469.0,343.2 465.5,345.5 460.1,348.2 450.5,352.4 426.8,361.5 409.5,369.2 406.0,370.3 M408.5,367.8 406.8,368.0 405.5,367.6 404.8,366.7 404.3,365.2 404.3,363.2 404.8,360.8 405.8,358.1 407.0,355.8 409.4,352.8 413.1,349.5 419.5,345.2 424.8,342.3 428.8,340.8 433.5,339.7 440.8,338.9 449.0,338.4 457.0,338.2 462.2,338.5 466.0,339.2 467.0,339.8 467.8,340.5 467.9,341.2 467.6,342.0 465.8,343.8 462.3,346.0 456.8,348.8 447.5,352.6 426.3,360.5 411.8,366.7 408.5,367.8 M410.2,365.3 408.8,365.4 407.5,365.1 406.8,364.2 406.5,363.2 406.5,361.5 407.1,359.2 407.9,357.2 409.0,355.2 411.3,352.5 415.0,349.4 420.5,345.7 425.2,343.2 429.0,341.8 433.2,340.8 439.8,340.0 446.8,339.4 454.0,339.3 459.2,339.5 462.8,340.2 463.8,340.8 464.2,341.2 464.3,342.0 464.0,342.8 462.2,344.5 458.6,346.8 453.4,349.2 444.0,353.0 425.9,359.5 413.5,364.3 410.2,365.3 M413.0,362.5 411.5,362.7 410.4,362.5 409.6,362.0 409.2,361.2 409.1,360.0 409.4,358.2 410.1,356.5 411.2,354.8 413.7,352.0 417.4,349.0 422.0,346.0 426.2,343.9 429.8,342.6 434.0,341.7 440.0,340.9 446.0,340.5 452.0,340.4 456.5,340.6 459.3,341.2 460.2,341.8 460.5,342.2 460.5,343.0 460.1,343.8 458.1,345.5 454.7,347.5 449.9,349.8 437.8,354.3 417.5,361.2 413.0,362.5 M414.8,360.0 413.5,359.9 412.8,359.5 412.3,359.0 412.1,358.2 412.5,356.2 414.0,353.8 416.5,351.2 419.7,348.8 423.7,346.2 427.2,344.5 430.5,343.5 434.2,342.7 439.5,342.0 444.8,341.6 449.5,341.5 453.0,341.8 455.5,342.3 456.2,342.8 456.5,343.2 456.6,343.8 456.2,344.5 454.2,346.2 450.6,348.2 445.5,350.5 437.3,353.5 425.8,357.2 418.5,359.4 414.8,360.0 M418.5,357.5 416.5,357.3 415.7,356.5 415.6,355.8 415.8,355.0 416.7,353.2 418.6,351.2 421.4,349.0 424.6,347.0 427.8,345.5 430.7,344.5 434.0,343.8 438.2,343.2 442.8,342.8 446.5,342.8 449.5,343.0 451.4,343.5 452.2,344.2 452.2,344.8 451.8,345.5 450.0,347.0 446.7,348.8 442.6,350.5 436.4,352.8 428.5,355.2 422.2,356.9 418.5,357.5 M424.0,355.0 421.8,355.2 420.2,355.0 419.8,354.7 419.5,354.2 419.7,353.0 421.0,351.2 422.9,349.5 425.6,347.8 428.2,346.5 430.5,345.7 433.2,345.0 439.8,344.2 445.0,344.3 446.8,344.7 447.4,345.2 447.5,345.8 447.2,346.2 446.2,347.2 444.0,348.5 441.3,349.8 432.2,353.0 427.7,354.2 424.0,355.0 M427.2,352.8 425.5,352.9 424.5,352.7 423.9,352.2 423.9,351.5 424.6,350.5 425.7,349.5 427.2,348.5 429.2,347.5 432.8,346.5 437.0,345.9 440.3,346.0 441.2,346.2 441.7,346.8 441.6,347.2 440.8,348.0 437.5,349.8 431.8,351.8 427.2,352.8" fill="none" stroke="#1e1e1e" stroke-width="0.42"/>
<ellipse cx="434.3" cy="350.7" rx="3.5" ry="1.6" transform="rotate(-20 434.3 350.7)" fill="#fff" fill-opacity="0.9" filter="url(#bl)"/>
<ellipse cx="452" cy="346" rx="12" ry="0.9" transform="rotate(-12 452 346)" fill="#fff" fill-opacity="0.6" filter="url(#bl)"/>
<line x1="370.70" y1="288.30" x2="370.70" y2="417.60" stroke="#111" stroke-width="1.1"/>
<line x1="370.70" y1="417.60" x2="500.00" y2="417.60" stroke="#111" stroke-width="1.1"/>
<line x1="500.00" y1="288.30" x2="500.00" y2="417.60" stroke="#333" stroke-width="1.0"/>
<line x1="370.70" y1="288.30" x2="500.00" y2="288.30" stroke="#333" stroke-width="1.0"/>
<rect x="383.70" y="288.30" width="116.60" height="38.70" fill="none" stroke="#111" stroke-width="1.2"/>
<text x="388.00" y="297.90" font-size="8.8" fill="#666" text-anchor="start" textLength="22.5" lengthAdjust="spacingAndGlyphs" >11.9%</text>
<path d="M591.0,325.0 586.5,325.2 581.8,325.2 577.2,324.9 572.8,324.3 568.5,323.5 564.3,322.5 560.5,321.2 557.2,319.9 554.2,318.2 551.7,316.5 549.8,314.8 548.2,312.8 547.2,310.8 546.8,308.8 546.9,306.5 547.5,304.5 549.3,301.8 552.0,299.2 555.5,297.0 560.0,295.0 565.2,293.2 570.8,292.0 576.8,291.2 582.8,290.8 589.0,290.9 595.2,291.4 601.0,292.3 606.5,293.7 611.3,295.5 615.5,297.6 618.9,300.0 621.3,302.5 622.4,304.2 623.1,306.2 623.3,308.2 623.0,310.0 622.2,312.0 621.1,313.8 619.5,315.5 617.6,317.0 615.4,318.5 612.5,320.0 606.2,322.3 599.0,324.0 591.0,325.0 M623.2,333.3 621.2,333.4 616.8,332.5 613.7,331.5 612.5,330.5 612.2,329.0 613.1,326.0 614.5,323.5 616.0,322.1 617.5,321.4 619.0,321.6 620.5,322.4 621.8,324.0 623.2,326.8 624.0,330.2 624.1,332.0 623.9,332.8 623.2,333.3 M549.5,343.5 548.2,343.7 547.5,343.0 547.3,342.5 546.8,338.8 546.6,335.2 546.7,332.0 547.1,329.2 548.2,325.8 549.8,323.5 550.8,322.7 551.8,322.3 552.8,322.1 554.0,322.2 555.2,322.6 556.8,323.4 558.2,324.6 559.8,326.2 561.8,328.8 563.5,331.8 563.5,333.2 562.9,334.2 561.5,335.5 551.8,342.2 549.5,343.5 M588.0,323.0 580.0,322.9 572.5,322.0 565.5,320.2 562.5,319.2 559.8,317.9 557.4,316.5 555.2,314.9 553.6,313.2 552.4,311.5 551.8,309.8 551.5,308.0 551.8,306.2 552.4,304.5 554.1,302.2 556.6,300.0 560.0,298.0 564.0,296.3 568.5,294.9 573.5,293.9 578.8,293.2 584.2,292.9 589.8,293.1 595.0,293.6 600.0,294.5 604.8,295.8 608.8,297.4 612.2,299.3 615.2,301.5 617.1,303.8 617.9,305.2 618.4,307.0 618.4,308.8 618.1,310.2 617.3,312.0 616.2,313.5 614.6,315.0 612.6,316.5 607.9,319.0 601.9,321.0 595.2,322.3 588.0,323.0 M620.5,331.8 618.8,331.9 617.2,331.5 615.7,330.8 614.4,329.5 614.5,328.9 615.2,327.3 616.0,326.3 616.8,325.7 617.8,325.3 618.8,325.5 619.8,326.1 620.8,327.3 621.5,329.0 622.1,331.0 620.5,331.8 M551.2,340.3 550.2,340.4 550.0,340.2 549.9,338.8 550.1,334.8 551.0,331.5 551.9,330.0 553.0,329.1 554.5,328.7 556.0,329.1 557.2,329.8 558.5,330.8 560.1,332.8 560.5,333.2 560.4,333.5 558.7,335.8 556.2,337.7 553.2,339.6 551.2,340.3 M589.2,320.8 582.2,320.8 575.5,320.2 569.2,318.8 564.0,316.8 561.8,315.5 559.9,314.2 558.6,313.0 557.4,311.5 556.7,310.0 556.4,308.5 556.5,306.8 557.0,305.2 558.3,303.2 560.6,301.2 564.5,298.9 567.5,297.5 570.0,296.7 572.8,296.2 578.8,295.4 583.5,295.1 588.0,295.2 592.2,295.5 599.5,296.6 602.5,297.4 605.2,298.4 607.6,299.8 610.7,302.2 612.3,304.0 613.0,305.2 613.5,306.8 613.7,308.2 613.5,309.5 612.9,311.0 612.1,312.2 610.9,313.5 609.4,314.8 605.5,317.0 600.8,318.8 595.2,320.0 589.2,320.8 M619.2,330.4 618.0,330.3 617.0,329.8 617.5,329.4 618.2,329.3 619.0,329.8 619.5,330.2 619.2,330.4 M554.2,337.4 554.0,337.5 553.8,337.2 554.8,335.8 555.5,335.4 556.6,335.5 556.5,335.8 555.9,336.2 554.2,337.4 M589.8,318.5 583.5,318.7 577.2,318.2 571.8,316.9 567.0,315.0 563.8,312.9 562.6,311.8 561.6,310.2 561.0,308.8 560.7,307.0 560.9,305.5 561.4,304.0 562.2,302.7 563.5,301.3 565.0,300.2 566.8,299.2 568.8,298.3 571.0,297.7 575.8,297.0 581.8,297.4 588.0,297.4 598.8,298.4 601.2,298.9 603.5,299.8 605.5,301.0 607.0,302.2 608.5,304.5 608.8,305.8 608.9,307.0 608.8,308.8 608.4,310.0 607.7,311.2 606.5,312.6 603.5,314.8 599.6,316.5 595.0,317.8 589.8,318.5 M587.2,316.5 582.0,316.5 574.0,315.6 570.8,314.9 567.8,313.7 564.9,311.8 564.0,310.8 563.2,309.5 562.7,308.2 562.5,307.0 562.7,305.5 563.2,304.2 564.0,303.0 565.2,301.8 566.6,300.8 568.2,299.8 572.0,298.6 576.2,298.1 580.5,298.4 585.0,299.4 591.5,299.9 595.8,299.9 598.6,300.2 600.6,300.8 602.2,301.5 603.5,302.3 604.7,303.5 605.6,305.5 605.6,307.5 604.7,309.5 603.0,311.2 599.8,313.4 596.5,314.8 592.0,316.0 587.2,316.5 M580.5,314.5 576.8,314.6 573.2,314.2 570.0,313.3 567.5,311.9 565.5,310.0 564.5,308.0 564.4,307.0 564.5,305.8 565.4,303.8 567.2,301.9 570.0,300.4 573.2,299.5 577.0,299.2 579.5,299.4 582.0,299.9 584.5,300.6 587.0,301.7 590.2,302.0 595.8,302.0 598.8,302.4 600.8,303.1 601.5,303.8 602.0,304.5 602.4,305.5 602.3,306.8 602.0,307.8 601.2,308.9 599.2,310.5 595.1,312.5 592.3,313.5 589.2,314.1 585.8,314.4 582.2,314.3 580.5,314.5 M578.2,313.5 575.2,313.4 572.3,312.8 569.9,311.8 568.0,310.4 566.7,308.8 566.2,307.0 566.5,305.2 567.7,303.5 569.6,302.0 572.0,301.0 575.0,300.4 578.2,300.5 581.0,300.9 583.5,301.6 586.0,302.7 588.0,304.0 590.0,304.4 593.0,304.5 595.6,305.0 596.7,305.5 597.3,306.2 597.2,307.2 596.2,308.5 595.1,309.2 591.1,311.2 588.2,312.0 585.2,312.2 581.8,313.2 578.2,313.5 M579.2,312.3 576.8,312.3 574.2,311.9 572.0,311.3 570.2,310.2 568.9,309.0 568.2,307.5 568.1,306.0 568.8,304.5 570.5,303.0 572.9,302.0 575.8,301.6 578.8,301.7 582.0,302.5 584.9,303.8 587.0,305.1 589.5,307.5 589.6,308.2 589.0,309.0 585.8,310.7 582.8,311.7 579.2,312.3 M578.5,311.0 576.5,311.0 574.5,310.6 572.8,310.0 571.4,309.2 570.5,308.2 570.0,307.0 570.1,305.8 570.7,304.8 572.0,303.7 573.8,303.0 576.0,302.8 578.2,302.9 581.0,303.6 583.5,304.8 585.7,306.2 586.7,307.5 586.8,308.0 586.5,308.5 584.8,309.6 581.8,310.6 578.5,311.0 M578.5,309.5 575.5,309.3 573.2,308.5 572.3,307.8 571.9,307.0 571.8,306.2 572.1,305.5 573.0,304.7 574.2,304.2 575.8,304.0 577.5,304.2 581.0,305.5 583.1,306.8 584.6,308.0 581.7,309.0 578.5,309.5" fill="none" stroke="#3a3a3a" stroke-width="0.55"/>
<linearGradient id="g_d2" x1="0.0" y1="0" x2="1.0" y2="0"><stop offset="0" stop-color="#c8c8c8"/><stop offset="0.45" stop-color="#acacac"/><stop offset="1" stop-color="#d0d0d0"/></linearGradient>
<path d="M532.0,368.0 532.1,366.6 532.3,365.3 532.6,363.9 533.0,362.5 533.5,361.1 534.1,359.6 534.8,358.2 535.6,356.7 536.4,355.1 537.4,353.6 538.4,352.2 539.4,350.7 540.5,349.3 541.6,347.9 542.8,346.5 544.1,345.2 545.4,343.9 546.7,342.6 548.1,341.4 549.5,340.2 550.9,339.1 552.4,337.9 553.9,336.9 555.4,335.8 556.9,334.9 558.5,333.9 560.0,333.1 561.5,332.3 563.1,331.6 564.6,330.9 566.1,330.4 567.7,329.9 569.2,329.4 570.9,329.0 572.7,328.7 574.6,328.4 576.7,328.1 578.9,327.9 581.3,327.7 583.8,327.5 586.4,327.4 589.0,327.3 591.7,327.3 594.3,327.3 596.9,327.4 599.5,327.5 602.2,327.6 604.8,327.8 607.4,328.0 609.9,328.3 612.3,328.6 614.6,328.9 616.8,329.3 618.9,329.7 620.9,330.2 622.7,330.7 624.5,331.2 626.1,331.8 627.6,332.4 629.1,333.0 630.4,333.7 631.6,334.4 632.7,335.1 633.7,335.8 634.5,336.6 635.3,337.3 635.8,338.1 636.3,338.8 636.5,339.5 636.7,340.2 636.6,340.9 636.5,341.6 636.1,342.2 635.6,342.9 634.9,343.7 634.0,344.5 632.9,345.4 631.6,346.3 630.2,347.3 628.5,348.3 626.6,349.5 624.7,350.5 622.7,351.6 620.6,352.7 618.5,353.8 616.3,354.9 614.0,356.0 611.7,357.1 609.2,358.2 606.8,359.3 604.3,360.5 601.7,361.6 599.1,362.8 596.4,364.1 593.7,365.3 590.9,366.6 588.0,368.0 585.2,369.3 582.4,370.6 579.7,371.8 576.9,373.1 574.2,374.4 571.5,375.6 568.9,376.8 566.2,378.0 563.7,379.2 561.3,380.3 559.0,381.4 556.8,382.4 554.7,383.4 552.7,384.3 550.9,385.3 549.1,386.1 547.5,386.9 545.9,387.5 544.4,388.0 543.1,388.4 541.8,388.7 540.6,388.8 539.5,388.8 538.6,388.7 537.6,388.5 536.8,388.2 536.0,387.8 535.3,387.3 534.6,386.7 534.1,386.0 533.6,385.2 533.1,384.4 532.7,383.5 532.4,382.5 532.1,381.6 531.9,380.6 531.8,379.6 531.7,378.6 531.6,377.5 531.6,376.4 531.6,375.3 531.6,374.1 531.7,373.0 531.7,371.8 531.8,370.5 531.9,369.3Z" fill="url(#g_d2)" stroke="#222" stroke-width="0.7"/>
<ellipse cx="580" cy="350" rx="30" ry="9" transform="rotate(-20 580 350)" fill="#333" fill-opacity="0.7" filter="url(#bl2)"/>
<path d="M540.8,390.0 539.2,390.0 537.5,389.7 536.2,389.2 534.9,388.5 532.9,386.5 531.5,383.5 530.5,379.2 530.2,372.8 530.4,367.0 531.2,363.0 532.6,359.2 535.3,354.5 537.8,350.8 541.4,346.2 546.5,341.2 549.8,338.4 554.2,335.1 559.0,332.2 563.5,330.1 567.8,328.6 570.8,327.8 575.5,327.0 585.5,326.2 598.5,326.2 603.8,326.5 609.8,327.0 617.0,327.9 621.8,328.8 626.2,330.0 630.2,331.6 633.0,333.2 635.2,335.1 637.2,337.5 637.8,339.2 637.9,340.8 637.4,342.5 636.4,344.0 634.8,345.5 632.8,347.1 625.0,351.8 615.2,356.8 559.5,382.5 548.8,387.7 544.5,389.3 540.8,390.0 M541.2,389.3 539.8,389.3 538.0,389.1 536.8,388.7 535.5,388.1 534.5,387.2 533.5,386.1 532.1,383.2 531.1,379.0 530.9,373.0 531.1,366.8 531.9,363.0 533.4,359.2 535.9,354.8 538.5,351.0 542.0,346.6 547.0,341.6 550.5,338.7 555.0,335.4 559.5,332.7 563.8,330.7 568.0,329.2 571.0,328.4 575.5,327.7 585.5,326.8 598.2,326.8 603.5,327.1 609.5,327.6 616.5,328.5 621.2,329.3 625.8,330.5 629.8,332.1 632.3,333.5 634.7,335.5 636.5,337.8 637.2,339.5 637.1,341.0 636.6,342.5 635.5,344.0 633.2,345.9 630.0,348.1 622.0,352.7 615.0,356.2 559.5,381.8 548.5,387.0 544.5,388.6 541.2,389.3 M540.8,388.8 539.2,388.7 537.8,388.5 535.5,387.4 533.8,385.4 532.4,382.5 531.7,378.8 531.5,372.8 531.7,366.2 532.6,362.5 534.2,358.8 536.5,354.8 539.2,350.9 542.6,346.8 547.2,342.2 551.2,338.8 555.8,335.6 560.0,333.1 564.2,331.1 568.2,329.7 571.2,329.0 575.8,328.2 585.8,327.4 598.2,327.4 603.5,327.7 609.5,328.1 616.8,329.0 621.5,329.9 625.8,331.1 629.5,332.5 632.0,334.0 634.4,336.0 636.1,338.2 636.6,339.8 636.5,341.2 635.9,342.5 634.8,343.9 632.5,345.8 629.2,347.9 621.2,352.5 614.8,355.7 559.2,381.2 548.2,386.5 544.2,388.1 540.8,388.8 M541.0,388.3 539.5,388.3 538.0,388.0 535.8,387.0 535.0,386.2 534.0,385.0 532.9,382.2 532.1,378.5 531.9,372.8 532.2,366.2 533.1,362.5 534.7,358.8 537.0,354.8 540.0,350.7 543.0,347.0 547.6,342.5 551.5,339.2 556.0,336.0 560.2,333.5 564.5,331.5 568.5,330.1 571.5,329.4 576.0,328.7 585.8,327.8 598.0,327.8 603.2,328.1 609.2,328.6 616.5,329.4 621.0,330.2 625.2,331.3 629.0,332.8 631.5,334.2 634.0,336.2 635.6,338.2 636.1,339.8 636.1,341.0 635.6,342.2 634.5,343.5 632.4,345.2 629.0,347.5 621.0,352.1 614.5,355.3 559.0,380.8 548.0,386.1 544.0,387.6 541.0,388.3 M541.0,387.8 538.2,387.6 537.0,387.2 536.0,386.5 534.5,384.8 533.2,381.8 532.5,377.8 532.4,369.0 532.7,365.5 533.6,362.2 535.2,358.8 537.5,354.9 540.8,350.5 543.5,347.2 548.0,342.8 552.0,339.5 556.5,336.3 560.8,333.8 564.8,331.9 568.8,330.6 572.0,329.8 576.2,329.1 586.0,328.3 598.0,328.3 603.0,328.5 616.0,329.8 620.5,330.6 624.8,331.6 628.5,333.1 631.1,334.5 633.5,336.4 635.2,338.5 635.6,339.8 635.6,341.0 635.0,342.2 633.9,343.5 632.0,345.0 628.6,347.2 620.6,351.8 614.2,354.9 558.8,380.4 547.8,385.7 544.0,387.1 541.0,387.8 M542.2,386.3 539.5,386.2 537.2,385.3 535.5,383.5 534.3,381.0 533.6,376.8 533.3,368.5 533.6,365.2 534.5,362.2 536.0,359.0 537.8,356.0 541.8,350.7 545.5,346.5 549.2,343.0 553.2,339.8 557.5,336.8 561.5,334.5 565.2,332.8 569.0,331.6 573.0,330.6 577.8,329.9 583.2,329.4 588.8,329.2 597.2,329.2 604.8,329.6 616.2,330.6 620.8,331.4 624.8,332.4 628.5,334.0 630.7,335.2 633.0,337.1 634.4,339.0 634.8,340.2 634.5,341.2 633.9,342.2 632.8,343.3 632.2,343.7 632.1,343.5 633.3,341.5 633.2,340.6 632.9,341.8 632.3,342.8 630.0,345.0 625.8,347.8 619.0,351.5 612.0,354.9 562.5,377.7 548.8,384.2 545.2,385.6 542.2,386.3 M535.2,384.3 535.1,384.0 535.2,383.9 535.2,384.3 M540.2,386.9 538.8,386.8 537.5,386.4 536.5,385.8 535.5,384.8 535.8,384.7 536.5,385.4 536.8,385.4 537.2,385.9 538.0,386.1 538.2,386.4 538.8,386.4 539.0,386.7 540.2,386.6 540.2,386.9 M542.2,385.3 539.8,385.2 537.7,384.2 536.1,382.5 535.0,380.0 534.4,376.0 534.3,369.0 534.7,365.2 535.7,362.0 537.2,358.7 539.6,355.0 542.7,351.0 546.0,347.3 549.5,344.0 553.4,340.8 557.5,337.9 561.5,335.6 565.0,333.9 568.5,332.7 572.1,331.8 576.2,331.0 581.2,330.5 586.5,330.2 600.2,330.2 613.2,331.1 617.8,331.7 621.8,332.6 625.2,333.6 628.1,335.0 630.2,336.5 631.6,338.2 632.0,339.7 631.9,341.0 631.3,342.2 630.3,343.5 626.6,346.2 620.0,350.0 611.8,354.1 562.8,376.5 548.5,383.2 545.0,384.6 542.2,385.3 M633.5,341.1 633.5,339.3 633.7,340.2 633.5,341.1 M543.2,384.0 540.8,384.2 538.7,383.5 537.1,382.0 536.0,379.8 535.4,375.8 535.3,369.0 535.6,365.5 536.5,362.2 538.1,359.0 540.4,355.5 543.5,351.5 546.8,347.9 550.2,344.6 554.1,341.5 558.0,338.7 562.0,336.4 565.2,334.9 568.8,333.6 572.2,332.7 576.2,332.0 586.2,331.2 599.8,331.1 612.2,331.8 617.0,332.4 620.8,333.2 624.2,334.2 627.0,335.5 629.1,337.0 630.2,338.5 630.6,339.5 630.5,340.8 630.0,342.0 629.0,343.2 625.5,345.9 619.2,349.4 611.2,353.3 563.0,375.3 548.5,382.2 545.5,383.4 543.2,384.0 M542.5,383.0 540.5,382.9 538.8,382.0 537.5,380.3 536.8,378.1 536.3,374.0 536.3,367.8 536.8,364.5 537.9,361.5 539.4,358.5 541.8,355.1 544.8,351.5 548.0,348.0 551.5,344.8 555.2,341.9 559.1,339.2 562.8,337.1 566.0,335.7 569.2,334.5 572.8,333.6 576.8,333.0 586.5,332.1 600.0,332.0 611.8,332.6 616.0,333.1 619.8,333.8 623.0,334.8 625.8,336.0 627.6,337.2 628.7,338.8 629.0,339.8 628.9,341.0 628.4,342.0 627.3,343.2 623.8,345.8 617.5,349.3 610.2,352.8 563.5,374.0 548.0,381.3 545.0,382.5 542.5,383.0 M544.0,381.5 541.8,381.7 540.0,381.1 538.8,379.9 537.9,377.8 537.4,374.2 537.3,368.0 537.8,364.8 538.8,361.8 540.2,359.0 542.4,355.8 545.2,352.3 548.5,348.9 552.0,345.8 555.5,343.0 559.2,340.4 563.0,338.2 566.0,336.8 569.2,335.6 572.5,334.8 576.2,334.1 586.0,333.2 598.8,332.9 610.2,333.4 614.8,333.8 618.2,334.4 621.5,335.2 623.9,336.2 625.9,337.5 627.0,338.8 627.3,339.8 627.3,340.8 626.8,341.8 625.8,343.0 622.4,345.5 616.8,348.6 609.0,352.4 564.3,372.5 548.2,380.0 544.0,381.5 M543.5,380.3 541.8,380.2 540.2,379.3 539.3,377.8 538.8,375.8 538.4,371.0 538.5,366.8 539.1,363.8 540.2,361.0 541.8,358.2 544.0,355.2 546.9,352.0 550.0,348.9 553.3,346.0 557.0,343.2 560.5,340.9 564.0,338.9 567.0,337.6 570.0,336.5 573.2,335.7 577.0,335.1 586.5,334.2 600.0,333.9 610.2,334.2 617.5,335.2 620.5,336.0 622.8,337.0 624.3,338.0 625.2,339.2 625.4,340.2 625.2,341.2 624.6,342.2 623.6,343.2 620.0,345.8 614.5,348.8 605.2,353.1 562.8,372.0 548.2,378.8 545.5,379.8 543.5,380.3 M545.2,378.5 543.2,378.7 541.8,378.2 540.8,377.1 540.0,375.2 539.6,371.2 539.7,366.8 540.2,363.8 541.4,361.0 543.0,358.3 545.1,355.5 547.8,352.5 550.8,349.6 554.0,346.8 557.8,344.0 561.2,341.7 564.5,339.9 567.2,338.7 570.2,337.6 573.5,336.8 577.0,336.2 586.5,335.3 599.2,334.8 608.8,335.0 615.8,335.8 618.5,336.5 620.8,337.4 622.2,338.3 623.2,339.5 623.4,340.2 623.2,341.2 622.6,342.2 621.6,343.2 618.4,345.5 613.0,348.4 603.5,352.9 564.6,370.0 549.2,377.0 545.2,378.5 M546.0,376.8 544.2,377.0 542.8,376.5 541.8,375.2 541.2,373.5 540.8,369.8 540.9,366.2 541.5,363.5 542.7,360.8 544.2,358.2 546.2,355.7 548.8,352.9 551.8,350.1 555.0,347.4 558.5,344.8 562.0,342.6 565.0,340.9 570.5,338.8 576.8,337.4 586.0,336.3 598.2,335.7 607.2,335.8 614.0,336.5 616.5,337.1 618.5,337.8 620.1,338.8 621.0,339.8 621.1,340.5 620.9,341.5 620.3,342.5 619.2,343.5 615.9,345.8 610.8,348.5 598.0,354.4 564.1,369.0 550.2,375.2 546.0,376.8 M546.2,375.0 544.8,375.0 543.5,374.2 542.8,372.8 542.2,370.7 542.1,367.8 542.3,365.0 543.1,362.5 544.2,360.2 545.8,357.9 547.8,355.5 550.2,352.9 553.0,350.4 559.5,345.5 562.8,343.5 565.8,341.9 571.0,339.8 577.0,338.5 586.0,337.4 597.2,336.7 605.8,336.7 612.0,337.2 614.5,337.7 616.2,338.3 617.8,339.2 618.5,340.0 618.7,340.8 618.5,341.8 617.8,342.8 616.8,343.8 613.4,346.0 607.8,349.0 593.5,355.4 563.6,368.0 551.2,373.4 548.2,374.6 546.2,375.0 M547.8,373.0 546.2,373.0 545.0,372.4 544.2,371.2 543.6,369.2 543.5,366.8 543.8,364.5 544.5,362.2 545.8,359.8 547.4,357.5 549.2,355.3 554.0,350.9 560.2,346.3 566.2,342.9 571.2,341.0 577.0,339.6 586.0,338.4 596.2,337.7 604.0,337.5 609.8,338.0 612.2,338.5 613.9,339.0 615.3,339.8 615.9,340.5 616.1,341.2 615.8,342.2 615.1,343.2 613.9,344.2 610.4,346.5 604.5,349.5 595.0,353.8 583.8,358.6 552.0,371.7 549.5,372.6 547.8,373.0 M549.0,371.0 547.5,371.0 546.4,370.5 545.6,369.5 545.1,367.8 545.0,365.8 545.4,363.8 546.1,361.8 547.3,359.5 550.5,355.5 555.0,351.4 561.0,347.2 566.8,343.9 571.5,342.1 577.0,340.7 585.8,339.5 594.8,338.7 601.8,338.5 607.2,338.8 611.2,339.7 612.4,340.2 613.2,341.0 613.3,341.8 613.0,342.8 612.2,343.8 610.9,344.8 606.9,347.2 600.8,350.3 591.5,354.4 580.0,359.2 553.5,369.7 551.0,370.6 549.0,371.0 M551.5,368.8 549.8,369.0 548.4,368.8 547.5,368.0 546.9,366.8 546.8,365.0 547.0,363.2 547.8,361.2 548.9,359.2 552.0,355.5 556.3,351.8 562.0,347.8 567.5,344.8 572.0,343.1 577.2,341.8 585.5,340.5 593.8,339.7 600.0,339.4 605.2,339.7 608.6,340.5 609.6,341.0 610.2,341.8 610.3,342.5 610.0,343.2 609.1,344.2 607.9,345.2 603.7,347.8 597.1,351.0 588.8,354.7 578.2,358.9 556.8,367.1 551.5,368.8 M552.8,366.8 551.2,366.9 550.0,366.6 549.2,365.9 548.8,365.0 548.8,363.5 549.1,362.0 549.9,360.2 551.0,358.5 553.9,355.2 558.0,351.8 563.2,348.3 568.2,345.7 572.5,344.1 577.5,342.8 584.8,341.6 592.0,340.8 597.8,340.5 602.5,340.7 605.5,341.3 606.5,341.9 607.0,342.5 607.0,343.2 606.5,344.2 604.0,346.2 599.6,348.8 592.7,352.0 583.0,356.1 571.8,360.4 558.0,365.3 552.8,366.8 M553.8,364.8 552.5,364.6 551.8,364.2 551.3,363.5 551.1,362.5 551.3,361.2 551.8,360.0 553.7,357.2 556.4,354.5 560.2,351.5 564.8,348.6 569.0,346.5 572.8,345.1 577.2,343.9 583.5,342.7 589.8,341.9 595.2,341.6 599.2,341.7 602.1,342.2 603.0,342.8 603.5,343.2 603.5,344.0 603.1,344.8 602.1,345.8 600.3,347.0 595.3,349.8 588.8,352.8 578.5,356.9 565.8,361.5 557.8,364.0 553.8,364.8 M557.2,362.5 555.0,362.4 554.3,362.0 553.9,361.2 554.0,360.2 554.3,359.2 555.8,357.0 558.2,354.5 561.5,352.0 565.5,349.4 569.5,347.4 573.0,346.1 577.0,345.0 582.2,344.0 587.8,343.2 592.5,342.9 596.0,342.9 598.5,343.4 599.1,343.8 599.6,344.2 599.5,345.0 599.0,345.8 596.9,347.5 592.9,349.8 587.0,352.5 578.9,355.8 569.2,359.2 561.8,361.5 557.2,362.5 M560.5,360.3 558.5,360.2 557.8,360.0 557.3,359.5 557.2,358.8 557.4,358.0 558.6,356.2 560.6,354.2 563.6,352.0 566.8,350.0 570.4,348.2 573.8,347.0 577.2,346.1 581.5,345.2 586.0,344.6 589.8,344.3 592.5,344.4 594.3,344.8 594.8,345.0 595.2,345.5 595.1,346.0 594.6,346.8 592.8,348.2 589.2,350.2 584.3,352.5 578.0,355.0 570.8,357.6 564.5,359.4 560.5,360.3 M564.8,357.8 562.8,357.9 561.6,357.5 561.4,356.8 562.0,355.5 563.4,354.0 565.6,352.2 568.1,350.8 570.8,349.4 575.8,347.7 582.0,346.4 587.2,346.0 589.0,346.2 589.9,346.8 589.8,347.5 588.6,348.8 586.1,350.2 582.4,352.0 577.5,354.0 572.5,355.7 568.2,357.0 564.8,357.8 M569.2,354.8 568.0,354.8 567.5,354.6 567.3,354.2 567.5,353.8 569.0,352.2 572.2,350.5 575.0,349.5 578.5,348.7 581.4,348.5 582.2,348.7 582.7,349.0 582.5,349.5 581.7,350.2 578.3,352.0 573.6,353.8 569.2,354.8" fill="none" stroke="#1e1e1e" stroke-width="0.42"/>
<ellipse cx="583" cy="350.3" rx="18" ry="1.2" transform="rotate(-18 583 350.3)" fill="#fff" fill-opacity="0.65" filter="url(#bl)"/>
<ellipse cx="568" cy="355" rx="4" ry="1.6" transform="rotate(-20 568 355)" fill="#fff" fill-opacity="0.5" filter="url(#bl)"/>
<line x1="510.80" y1="288.30" x2="510.80" y2="417.00" stroke="#111" stroke-width="1.1"/>
<line x1="510.80" y1="417.00" x2="640.40" y2="417.00" stroke="#111" stroke-width="1.1"/>
<line x1="640.40" y1="288.30" x2="640.40" y2="417.00" stroke="#333" stroke-width="1.0"/>
<line x1="510.80" y1="288.30" x2="640.40" y2="288.30" stroke="#333" stroke-width="1.0"/>
<rect x="524.20" y="288.30" width="116.20" height="38.90" fill="none" stroke="#111" stroke-width="1.2"/>
<text x="527.40" y="297.90" font-size="8.8" fill="#666" text-anchor="start" textLength="22.9" lengthAdjust="spacingAndGlyphs" >12.1%</text>
<line x1="423.60" y1="443.90" x2="590.40" y2="443.90" stroke="#333" stroke-width="1.0"/>
<text x="513.90" y="459.00" font-size="12.6" fill="#555" text-anchor="middle" textLength="22.1" lengthAdjust="spacingAndGlyphs" >FSC</text>
<line x1="367.20" y1="411.10" x2="370.70" y2="411.10" stroke="#111" stroke-width="1.0"/>
<text x="362.90" y="415.30" font-size="10.8" fill="#585858" text-anchor="end" textLength="11.0" lengthAdjust="spacingAndGlyphs" >-10</text>
<text x="364.50" y="407.70" font-size="4.8" fill="#585858" text-anchor="middle" >3</text>
<line x1="367.20" y1="396.60" x2="370.70" y2="396.60" stroke="#111" stroke-width="1.0"/>
<text x="362.20" y="400.60" font-size="10.0" fill="#585858" text-anchor="end" >0</text>
<line x1="367.20" y1="380.80" x2="370.70" y2="380.80" stroke="#111" stroke-width="1.0"/>
<text x="362.90" y="384.70" font-size="10.8" fill="#585858" text-anchor="end" textLength="8.6" lengthAdjust="spacingAndGlyphs" >10</text>
<text x="364.50" y="377.20" font-size="4.8" fill="#585858" text-anchor="middle" >3</text>
<line x1="367.20" y1="355.70" x2="370.70" y2="355.70" stroke="#111" stroke-width="1.0"/>
<text x="362.90" y="359.60" font-size="10.8" fill="#585858" text-anchor="end" textLength="8.6" lengthAdjust="spacingAndGlyphs" >10</text>
<text x="364.50" y="352.10" font-size="4.8" fill="#585858" text-anchor="middle" >4</text>
<line x1="367.20" y1="334.60" x2="370.70" y2="334.60" stroke="#111" stroke-width="1.0"/>
<text x="362.90" y="338.50" font-size="10.8" fill="#585858" text-anchor="end" textLength="8.6" lengthAdjust="spacingAndGlyphs" >10</text>
<text x="364.50" y="331.00" font-size="4.8" fill="#585858" text-anchor="middle" >5</text>
<line x1="367.20" y1="313.30" x2="370.70" y2="313.30" stroke="#111" stroke-width="1.0"/>
<text x="362.90" y="317.20" font-size="10.8" fill="#585858" text-anchor="end" textLength="8.6" lengthAdjust="spacingAndGlyphs" >10</text>
<text x="364.50" y="309.70" font-size="4.8" fill="#585858" text-anchor="middle" >6</text>
<line x1="367.20" y1="293.00" x2="370.70" y2="293.00" stroke="#111" stroke-width="1.0"/>
<text x="362.90" y="296.90" font-size="10.8" fill="#585858" text-anchor="end" textLength="8.6" lengthAdjust="spacingAndGlyphs" >10</text>
<text x="364.50" y="289.40" font-size="4.8" fill="#585858" text-anchor="middle" >7</text>
<line x1="368.90" y1="373.24" x2="370.70" y2="373.24" stroke="#111" stroke-width="0.7"/>
<line x1="368.90" y1="368.82" x2="370.70" y2="368.82" stroke="#111" stroke-width="0.7"/>
<line x1="368.90" y1="365.69" x2="370.70" y2="365.69" stroke="#111" stroke-width="0.7"/>
<line x1="368.90" y1="363.26" x2="370.70" y2="363.26" stroke="#111" stroke-width="0.7"/>
<line x1="368.90" y1="361.27" x2="370.70" y2="361.27" stroke="#111" stroke-width="0.7"/>
<line x1="368.90" y1="359.59" x2="370.70" y2="359.59" stroke="#111" stroke-width="0.7"/>
<line x1="368.90" y1="358.13" x2="370.70" y2="358.13" stroke="#111" stroke-width="0.7"/>
<line x1="368.90" y1="356.85" x2="370.70" y2="356.85" stroke="#111" stroke-width="0.7"/>
<line x1="368.90" y1="349.35" x2="370.70" y2="349.35" stroke="#111" stroke-width="0.7"/>
<line x1="368.90" y1="345.63" x2="370.70" y2="345.63" stroke="#111" stroke-width="0.7"/>
<line x1="368.90" y1="343.00" x2="370.70" y2="343.00" stroke="#111" stroke-width="0.7"/>
<line x1="368.90" y1="340.95" x2="370.70" y2="340.95" stroke="#111" stroke-width="0.7"/>
<line x1="368.90" y1="339.28" x2="370.70" y2="339.28" stroke="#111" stroke-width="0.7"/>
<line x1="368.90" y1="337.87" x2="370.70" y2="337.87" stroke="#111" stroke-width="0.7"/>
<line x1="368.90" y1="336.64" x2="370.70" y2="336.64" stroke="#111" stroke-width="0.7"/>
<line x1="368.90" y1="335.57" x2="370.70" y2="335.57" stroke="#111" stroke-width="0.7"/>
<line x1="368.90" y1="328.19" x2="370.70" y2="328.19" stroke="#111" stroke-width="0.7"/>
<line x1="368.90" y1="324.44" x2="370.70" y2="324.44" stroke="#111" stroke-width="0.7"/>
<line x1="368.90" y1="321.78" x2="370.70" y2="321.78" stroke="#111" stroke-width="0.7"/>
<line x1="368.90" y1="319.71" x2="370.70" y2="319.71" stroke="#111" stroke-width="0.7"/>
<line x1="368.90" y1="318.03" x2="370.70" y2="318.03" stroke="#111" stroke-width="0.7"/>
<line x1="368.90" y1="316.60" x2="370.70" y2="316.60" stroke="#111" stroke-width="0.7"/>
<line x1="368.90" y1="315.36" x2="370.70" y2="315.36" stroke="#111" stroke-width="0.7"/>
<line x1="368.90" y1="314.27" x2="370.70" y2="314.27" stroke="#111" stroke-width="0.7"/>
<line x1="368.90" y1="307.19" x2="370.70" y2="307.19" stroke="#111" stroke-width="0.7"/>
<line x1="368.90" y1="303.61" x2="370.70" y2="303.61" stroke="#111" stroke-width="0.7"/>
<line x1="368.90" y1="301.08" x2="370.70" y2="301.08" stroke="#111" stroke-width="0.7"/>
<line x1="368.90" y1="299.11" x2="370.70" y2="299.11" stroke="#111" stroke-width="0.7"/>
<line x1="368.90" y1="297.50" x2="370.70" y2="297.50" stroke="#111" stroke-width="0.7"/>
<line x1="368.90" y1="296.14" x2="370.70" y2="296.14" stroke="#111" stroke-width="0.7"/>
<line x1="368.90" y1="294.97" x2="370.70" y2="294.97" stroke="#111" stroke-width="0.7"/>
<line x1="368.90" y1="293.93" x2="370.70" y2="293.93" stroke="#111" stroke-width="0.7"/>
<line x1="368.90" y1="385.50" x2="370.70" y2="385.50" stroke="#111" stroke-width="0.7"/>
<line x1="368.90" y1="389.50" x2="370.70" y2="389.50" stroke="#111" stroke-width="0.7"/>
<line x1="368.90" y1="392.50" x2="370.70" y2="392.50" stroke="#111" stroke-width="0.7"/>
<line x1="368.90" y1="394.20" x2="370.70" y2="394.20" stroke="#111" stroke-width="0.7"/>
<line x1="368.90" y1="395.40" x2="370.70" y2="395.40" stroke="#111" stroke-width="0.7"/>
<line x1="368.90" y1="397.80" x2="370.70" y2="397.80" stroke="#111" stroke-width="0.7"/>
<line x1="368.90" y1="399.00" x2="370.70" y2="399.00" stroke="#111" stroke-width="0.7"/>
<line x1="368.90" y1="400.80" x2="370.70" y2="400.80" stroke="#111" stroke-width="0.7"/>
<line x1="368.90" y1="403.60" x2="370.70" y2="403.60" stroke="#111" stroke-width="0.7"/>
<line x1="368.90" y1="407.50" x2="370.70" y2="407.50" stroke="#111" stroke-width="0.7"/>
<rect x="367.50" y="394.3" width="3.2" height="4.6" fill="#222"/>
<line x1="507.30" y1="411.10" x2="510.80" y2="411.10" stroke="#111" stroke-width="1.0"/>
<line x1="507.30" y1="396.60" x2="510.80" y2="396.60" stroke="#111" stroke-width="1.0"/>
<line x1="507.30" y1="380.80" x2="510.80" y2="380.80" stroke="#111" stroke-width="1.0"/>
<line x1="507.30" y1="355.70" x2="510.80" y2="355.70" stroke="#111" stroke-width="1.0"/>
<line x1="507.30" y1="334.60" x2="510.80" y2="334.60" stroke="#111" stroke-width="1.0"/>
<line x1="507.30" y1="313.30" x2="510.80" y2="313.30" stroke="#111" stroke-width="1.0"/>
<line x1="507.30" y1="293.00" x2="510.80" y2="293.00" stroke="#111" stroke-width="1.0"/>
<line x1="509.00" y1="373.24" x2="510.80" y2="373.24" stroke="#111" stroke-width="0.7"/>
<line x1="509.00" y1="368.82" x2="510.80" y2="368.82" stroke="#111" stroke-width="0.7"/>
<line x1="509.00" y1="365.69" x2="510.80" y2="365.69" stroke="#111" stroke-width="0.7"/>
<line x1="509.00" y1="363.26" x2="510.80" y2="363.26" stroke="#111" stroke-width="0.7"/>
<line x1="509.00" y1="361.27" x2="510.80" y2="361.27" stroke="#111" stroke-width="0.7"/>
<line x1="509.00" y1="359.59" x2="510.80" y2="359.59" stroke="#111" stroke-width="0.7"/>
<line x1="509.00" y1="358.13" x2="510.80" y2="358.13" stroke="#111" stroke-width="0.7"/>
<line x1="509.00" y1="356.85" x2="510.80" y2="356.85" stroke="#111" stroke-width="0.7"/>
<line x1="509.00" y1="349.35" x2="510.80" y2="349.35" stroke="#111" stroke-width="0.7"/>
<line x1="509.00" y1="345.63" x2="510.80" y2="345.63" stroke="#111" stroke-width="0.7"/>
<line x1="509.00" y1="343.00" x2="510.80" y2="343.00" stroke="#111" stroke-width="0.7"/>
<line x1="509.00" y1="340.95" x2="510.80" y2="340.95" stroke="#111" stroke-width="0.7"/>
<line x1="509.00" y1="339.28" x2="510.80" y2="339.28" stroke="#111" stroke-width="0.7"/>
<line x1="509.00" y1="337.87" x2="510.80" y2="337.87" stroke="#111" stroke-width="0.7"/>
<line x1="509.00" y1="336.64" x2="510.80" y2="336.64" stroke="#111" stroke-width="0.7"/>
<line x1="509.00" y1="335.57" x2="510.80" y2="335.57" stroke="#111" stroke-width="0.7"/>
<line x1="509.00" y1="328.19" x2="510.80" y2="328.19" stroke="#111" stroke-width="0.7"/>
<line x1="509.00" y1="324.44" x2="510.80" y2="324.44" stroke="#111" stroke-width="0.7"/>
<line x1="509.00" y1="321.78" x2="510.80" y2="321.78" stroke="#111" stroke-width="0.7"/>
<line x1="509.00" y1="319.71" x2="510.80" y2="319.71" stroke="#111" stroke-width="0.7"/>
<line x1="509.00" y1="318.03" x2="510.80" y2="318.03" stroke="#111" stroke-width="0.7"/>
<line x1="509.00" y1="316.60" x2="510.80" y2="316.60" stroke="#111" stroke-width="0.7"/>
<line x1="509.00" y1="315.36" x2="510.80" y2="315.36" stroke="#111" stroke-width="0.7"/>
<line x1="509.00" y1="314.27" x2="510.80" y2="314.27" stroke="#111" stroke-width="0.7"/>
<line x1="509.00" y1="307.19" x2="510.80" y2="307.19" stroke="#111" stroke-width="0.7"/>
<line x1="509.00" y1="303.61" x2="510.80" y2="303.61" stroke="#111" stroke-width="0.7"/>
<line x1="509.00" y1="301.08" x2="510.80" y2="301.08" stroke="#111" stroke-width="0.7"/>
<line x1="509.00" y1="299.11" x2="510.80" y2="299.11" stroke="#111" stroke-width="0.7"/>
<line x1="509.00" y1="297.50" x2="510.80" y2="297.50" stroke="#111" stroke-width="0.7"/>
<line x1="509.00" y1="296.14" x2="510.80" y2="296.14" stroke="#111" stroke-width="0.7"/>
<line x1="509.00" y1="294.97" x2="510.80" y2="294.97" stroke="#111" stroke-width="0.7"/>
<line x1="509.00" y1="293.93" x2="510.80" y2="293.93" stroke="#111" stroke-width="0.7"/>
<line x1="509.00" y1="385.50" x2="510.80" y2="385.50" stroke="#111" stroke-width="0.7"/>
<line x1="509.00" y1="389.50" x2="510.80" y2="389.50" stroke="#111" stroke-width="0.7"/>
<line x1="509.00" y1="392.50" x2="510.80" y2="392.50" stroke="#111" stroke-width="0.7"/>
<line x1="509.00" y1="394.20" x2="510.80" y2="394.20" stroke="#111" stroke-width="0.7"/>
<line x1="509.00" y1="395.40" x2="510.80" y2="395.40" stroke="#111" stroke-width="0.7"/>
<line x1="509.00" y1="397.80" x2="510.80" y2="397.80" stroke="#111" stroke-width="0.7"/>
<line x1="509.00" y1="399.00" x2="510.80" y2="399.00" stroke="#111" stroke-width="0.7"/>
<line x1="509.00" y1="400.80" x2="510.80" y2="400.80" stroke="#111" stroke-width="0.7"/>
<line x1="509.00" y1="403.60" x2="510.80" y2="403.60" stroke="#111" stroke-width="0.7"/>
<line x1="509.00" y1="407.50" x2="510.80" y2="407.50" stroke="#111" stroke-width="0.7"/>
<rect x="507.60" y="394.3" width="3.2" height="4.6" fill="#222"/>
<line x1="370.70" y1="417.60" x2="370.70" y2="421.40" stroke="#111" stroke-width="1.0"/>
<line x1="377.14" y1="417.60" x2="377.14" y2="419.40" stroke="#111" stroke-width="0.7"/>
<line x1="383.58" y1="417.60" x2="383.58" y2="419.40" stroke="#111" stroke-width="0.7"/>
<line x1="390.02" y1="417.60" x2="390.02" y2="419.40" stroke="#111" stroke-width="0.7"/>
<line x1="396.46" y1="417.60" x2="396.46" y2="419.40" stroke="#111" stroke-width="0.7"/>
<line x1="402.90" y1="417.60" x2="402.90" y2="421.40" stroke="#111" stroke-width="1.0"/>
<line x1="409.34" y1="417.60" x2="409.34" y2="419.40" stroke="#111" stroke-width="0.7"/>
<line x1="415.78" y1="417.60" x2="415.78" y2="419.40" stroke="#111" stroke-width="0.7"/>
<line x1="422.22" y1="417.60" x2="422.22" y2="419.40" stroke="#111" stroke-width="0.7"/>
<line x1="428.66" y1="417.60" x2="428.66" y2="419.40" stroke="#111" stroke-width="0.7"/>
<line x1="435.10" y1="417.60" x2="435.10" y2="421.40" stroke="#111" stroke-width="1.0"/>
<line x1="441.54" y1="417.60" x2="441.54" y2="419.40" stroke="#111" stroke-width="0.7"/>
<line x1="447.98" y1="417.60" x2="447.98" y2="419.40" stroke="#111" stroke-width="0.7"/>
<line x1="454.42" y1="417.60" x2="454.42" y2="419.40" stroke="#111" stroke-width="0.7"/>
<line x1="460.86" y1="417.60" x2="460.86" y2="419.40" stroke="#111" stroke-width="0.7"/>
<line x1="467.30" y1="417.60" x2="467.30" y2="421.40" stroke="#111" stroke-width="1.0"/>
<line x1="473.74" y1="417.60" x2="473.74" y2="419.40" stroke="#111" stroke-width="0.7"/>
<line x1="480.18" y1="417.60" x2="480.18" y2="419.40" stroke="#111" stroke-width="0.7"/>
<line x1="486.62" y1="417.60" x2="486.62" y2="419.40" stroke="#111" stroke-width="0.7"/>
<line x1="493.06" y1="417.60" x2="493.06" y2="419.40" stroke="#111" stroke-width="0.7"/>
<line x1="499.50" y1="417.60" x2="499.50" y2="421.40" stroke="#111" stroke-width="1.0"/>
<text x="370.70" y="430.90" font-size="10.0" fill="#585858" text-anchor="middle" >0</text>
<text x="404.00" y="430.90" font-size="10.0" fill="#585858" text-anchor="middle" >500K</text>
<text x="435.60" y="430.90" font-size="10.0" fill="#585858" text-anchor="middle" >1.0M</text>
<text x="467.70" y="430.90" font-size="10.0" fill="#585858" text-anchor="middle" >1.5M</text>
<text x="496.40" y="430.90" font-size="10.0" fill="#585858" text-anchor="middle" >2M</text>
<line x1="510.80" y1="417.00" x2="510.80" y2="420.80" stroke="#111" stroke-width="1.0"/>
<line x1="517.28" y1="417.00" x2="517.28" y2="418.80" stroke="#111" stroke-width="0.7"/>
<line x1="523.76" y1="417.00" x2="523.76" y2="418.80" stroke="#111" stroke-width="0.7"/>
<line x1="530.24" y1="417.00" x2="530.24" y2="418.80" stroke="#111" stroke-width="0.7"/>
<line x1="536.72" y1="417.00" x2="536.72" y2="418.80" stroke="#111" stroke-width="0.7"/>
<line x1="543.20" y1="417.00" x2="543.20" y2="420.80" stroke="#111" stroke-width="1.0"/>
<line x1="549.68" y1="417.00" x2="549.68" y2="418.80" stroke="#111" stroke-width="0.7"/>
<line x1="556.16" y1="417.00" x2="556.16" y2="418.80" stroke="#111" stroke-width="0.7"/>
<line x1="562.64" y1="417.00" x2="562.64" y2="418.80" stroke="#111" stroke-width="0.7"/>
<line x1="569.12" y1="417.00" x2="569.12" y2="418.80" stroke="#111" stroke-width="0.7"/>
<line x1="575.60" y1="417.00" x2="575.60" y2="420.80" stroke="#111" stroke-width="1.0"/>
<line x1="582.08" y1="417.00" x2="582.08" y2="418.80" stroke="#111" stroke-width="0.7"/>
<line x1="588.56" y1="417.00" x2="588.56" y2="418.80" stroke="#111" stroke-width="0.7"/>
<line x1="595.04" y1="417.00" x2="595.04" y2="418.80" stroke="#111" stroke-width="0.7"/>
<line x1="601.52" y1="417.00" x2="601.52" y2="418.80" stroke="#111" stroke-width="0.7"/>
<line x1="608.00" y1="417.00" x2="608.00" y2="420.80" stroke="#111" stroke-width="1.0"/>
<line x1="614.48" y1="417.00" x2="614.48" y2="418.80" stroke="#111" stroke-width="0.7"/>
<line x1="620.96" y1="417.00" x2="620.96" y2="418.80" stroke="#111" stroke-width="0.7"/>
<line x1="627.44" y1="417.00" x2="627.44" y2="418.80" stroke="#111" stroke-width="0.7"/>
<line x1="633.92" y1="417.00" x2="633.92" y2="418.80" stroke="#111" stroke-width="0.7"/>
<line x1="640.40" y1="417.00" x2="640.40" y2="420.80" stroke="#111" stroke-width="1.0"/>
<text x="512.70" y="430.30" font-size="10.0" fill="#585858" text-anchor="middle" >0</text>
<text x="548.00" y="430.30" font-size="10.0" fill="#585858" text-anchor="middle" >500K</text>
<text x="578.60" y="430.30" font-size="10.0" fill="#585858" text-anchor="middle" >1.0M</text>
<text x="610.80" y="430.30" font-size="10.0" fill="#585858" text-anchor="middle" >1.5M</text>
<text x="639.50" y="430.30" font-size="10.0" fill="#585858" text-anchor="middle" >2M</text>
</svg>
</body></html>
